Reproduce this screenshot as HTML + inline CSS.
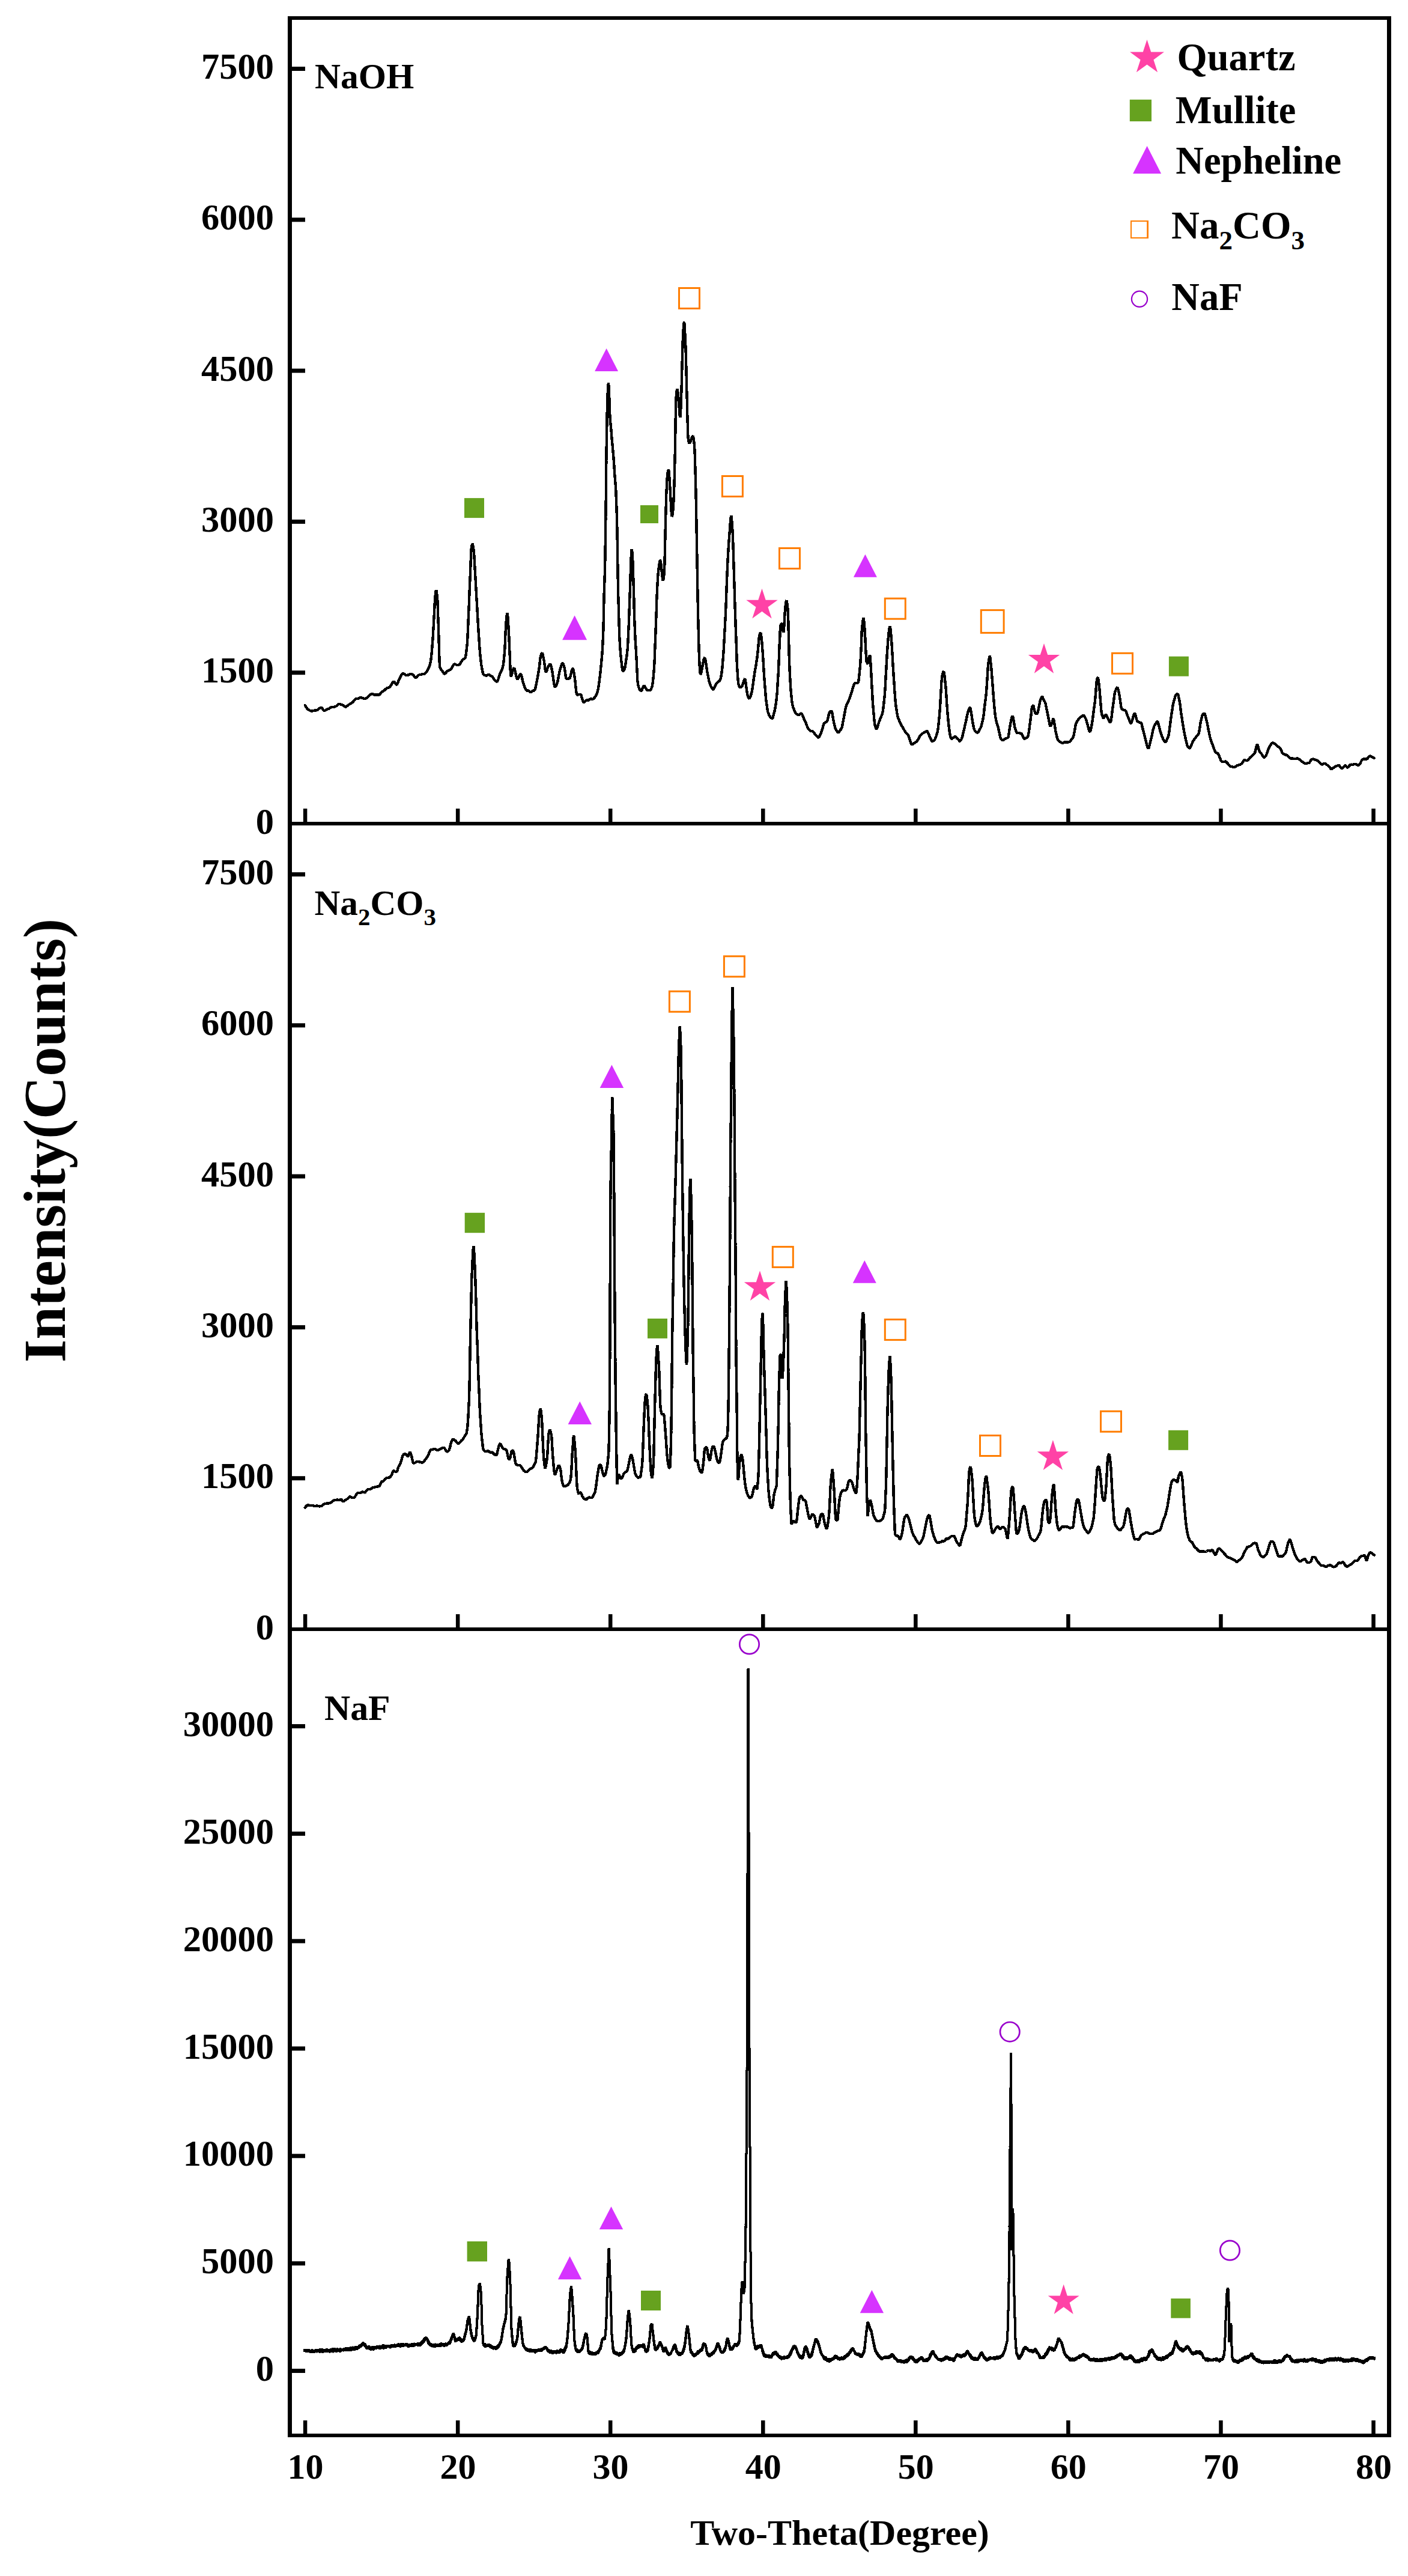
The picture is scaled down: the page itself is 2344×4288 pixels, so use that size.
<!DOCTYPE html>
<html><head><meta charset="utf-8"><title>XRD patterns</title>
<style>html,body{margin:0;padding:0;background:#fff}svg{display:block}text{font-family:"Liberation Serif","Times New Roman",serif;font-weight:bold;fill:#000}</style>
</head><body>
<svg width="2344" height="4288" viewBox="0 0 2344 4288">
<rect x="0" y="0" width="2344" height="4288" fill="#fff"/>
<g fill="#000">
<rect x="479.00" y="27.00" width="7.00" height="4030.00"/>
<rect x="2309.00" y="27.00" width="7.00" height="4030.00"/>
<rect x="479.00" y="27.00" width="1837.00" height="6.00"/>
<rect x="479.00" y="4051.00" width="1837.00" height="6.00"/>
<rect x="479.00" y="1368.00" width="1837.00" height="6.00"/>
<rect x="479.00" y="2709.00" width="1837.00" height="6.00"/>
<rect x="504.85" y="1346.00" width="6.50" height="23.00"/>
<rect x="504.85" y="2687.00" width="6.50" height="23.00"/>
<rect x="504.85" y="4029.00" width="6.50" height="23.00"/>
<rect x="758.91" y="1346.00" width="6.50" height="23.00"/>
<rect x="758.91" y="2687.00" width="6.50" height="23.00"/>
<rect x="758.91" y="4029.00" width="6.50" height="23.00"/>
<rect x="1012.97" y="1346.00" width="6.50" height="23.00"/>
<rect x="1012.97" y="2687.00" width="6.50" height="23.00"/>
<rect x="1012.97" y="4029.00" width="6.50" height="23.00"/>
<rect x="1267.03" y="1346.00" width="6.50" height="23.00"/>
<rect x="1267.03" y="2687.00" width="6.50" height="23.00"/>
<rect x="1267.03" y="4029.00" width="6.50" height="23.00"/>
<rect x="1521.09" y="1346.00" width="6.50" height="23.00"/>
<rect x="1521.09" y="2687.00" width="6.50" height="23.00"/>
<rect x="1521.09" y="4029.00" width="6.50" height="23.00"/>
<rect x="1775.15" y="1346.00" width="6.50" height="23.00"/>
<rect x="1775.15" y="2687.00" width="6.50" height="23.00"/>
<rect x="1775.15" y="4029.00" width="6.50" height="23.00"/>
<rect x="2029.21" y="1346.00" width="6.50" height="23.00"/>
<rect x="2029.21" y="2687.00" width="6.50" height="23.00"/>
<rect x="2029.21" y="4029.00" width="6.50" height="23.00"/>
<rect x="2283.27" y="1346.00" width="6.50" height="23.00"/>
<rect x="2283.27" y="2687.00" width="6.50" height="23.00"/>
<rect x="2283.27" y="4029.00" width="6.50" height="23.00"/>
<rect x="485.00" y="111.00" width="23.00" height="7.00"/>
<rect x="485.00" y="362.30" width="23.00" height="7.00"/>
<rect x="485.00" y="613.60" width="23.00" height="7.00"/>
<rect x="485.00" y="864.90" width="23.00" height="7.00"/>
<rect x="485.00" y="1116.20" width="23.00" height="7.00"/>
<rect x="485.00" y="1452.00" width="23.00" height="7.00"/>
<rect x="485.00" y="1703.30" width="23.00" height="7.00"/>
<rect x="485.00" y="1954.60" width="23.00" height="7.00"/>
<rect x="485.00" y="2205.90" width="23.00" height="7.00"/>
<rect x="485.00" y="2457.20" width="23.00" height="7.00"/>
<rect x="485.00" y="2870.00" width="23.00" height="7.00"/>
<rect x="485.00" y="3048.83" width="23.00" height="7.00"/>
<rect x="485.00" y="3227.66" width="23.00" height="7.00"/>
<rect x="485.00" y="3406.49" width="23.00" height="7.00"/>
<rect x="485.00" y="3585.32" width="23.00" height="7.00"/>
<rect x="485.00" y="3764.15" width="23.00" height="7.00"/>
<rect x="485.00" y="3942.98" width="23.00" height="7.00"/>
</g>
<g font-size="60.5" text-anchor="end">
<text x="456" y="131.1">7500</text>
<text x="456" y="382.4">6000</text>
<text x="456" y="633.7">4500</text>
<text x="456" y="885.0">3000</text>
<text x="456" y="1136.3">1500</text>
<text x="456" y="1387.6">0</text>
<text x="456" y="1472.1">7500</text>
<text x="456" y="1723.4">6000</text>
<text x="456" y="1974.7">4500</text>
<text x="456" y="2226.0">3000</text>
<text x="456" y="2477.3">1500</text>
<text x="456" y="2728.6">0</text>
<text x="456" y="2890.1">30000</text>
<text x="456" y="3068.9">25000</text>
<text x="456" y="3247.8">20000</text>
<text x="456" y="3426.6">15000</text>
<text x="456" y="3605.4">10000</text>
<text x="456" y="3784.2">5000</text>
<text x="456" y="3963.1">0</text>
</g>
<g font-size="60" text-anchor="middle">
<text x="508.5" y="4126.1">10</text>
<text x="762.6" y="4126.1">20</text>
<text x="1016.6" y="4126.1">30</text>
<text x="1270.7" y="4126.1">40</text>
<text x="1524.7" y="4126.1">50</text>
<text x="1778.8" y="4126.1">60</text>
<text x="2032.9" y="4126.1">70</text>
<text x="2286.9" y="4126.1">80</text>
</g>
<text x="1398" y="4236" font-size="60" text-anchor="middle">Two-Theta(Degree)</text>
<text transform="translate(108.2,1898.5) rotate(-90)" font-size="100" text-anchor="middle" textLength="739" lengthAdjust="spacingAndGlyphs">Intensity(Counts)</text>
<text x="524" y="147" font-size="59.5">NaOH</text>
<text x="523.5" y="1522.5" font-size="59.3">Na<tspan font-size="41" dy="17">2</tspan><tspan dy="-17">CO</tspan><tspan font-size="41" dy="17">3</tspan></text>
<text x="540" y="2863" font-size="59.8">NaF</text>
<polygon points="1909.5,65.9 1916.2,86.6 1938.0,86.6 1920.4,99.4 1927.1,120.2 1909.5,107.4 1891.9,120.2 1898.6,99.4 1881.0,86.6 1902.8,86.6" fill="#FF42A6"/>
<text x="1959.5" y="116.7" font-size="64.5">Quartz</text>
<rect x="1880.8" y="165.8" width="36.2" height="36.2" fill="#66A21F"/>
<text x="1956.8" y="204.8" font-size="64.5">Mullite</text>
<polygon points="1909.6,243.1 1933.1,288.9 1886.1,288.9" fill="#D633FF"/>
<text x="1957.3" y="288.9" font-size="64.5">Nepheline</text>
<path fill-rule="evenodd" fill="#FF7D00" d="M1882,367H1912V397H1882Z M1884,369V395H1909.2V369Z"/>
<text x="1950" y="397.4" font-size="65">Na<tspan font-size="45" dy="17.3">2</tspan><tspan dy="-17.3">CO</tspan><tspan font-size="45" dy="17.3">3</tspan></text>
<circle cx="1897.0" cy="497.8" r="13.1" fill="none" stroke="#9900CC" stroke-width="2.2"/>
<text x="1950.3" y="515.7" font-size="64.6">NaF</text>
<rect x="773.0" y="829.1" width="33.0" height="33.0" fill="#66A21F"/>
<polygon points="956.6,1024.4 977.1,1065.3 936.1,1065.3" fill="#D633FF"/>
<polygon points="1009.6,580.0 1029.1,618.0 990.1,618.0" fill="#D633FF"/>
<rect x="1066.0" y="841.0" width="30.0" height="30.0" fill="#66A21F"/>
<rect x="1130.5" y="479.5" width="34.0" height="34.0" fill="none" stroke="#FF7D00" stroke-width="3.0"/>
<rect x="1202.4" y="792.5" width="34.0" height="34.0" fill="none" stroke="#FF7D00" stroke-width="3.0"/>
<polygon points="1268.5,979.7 1274.7,998.8 1294.7,998.8 1278.5,1010.6 1284.7,1029.6 1268.5,1017.8 1252.3,1029.6 1258.5,1010.6 1242.3,998.8 1262.3,998.8" fill="#FF42A6"/>
<rect x="1297.5" y="912.5" width="34.0" height="34.0" fill="none" stroke="#FF7D00" stroke-width="3.0"/>
<polygon points="1440.4,922.8 1459.9,960.8 1420.9,960.8" fill="#D633FF"/>
<rect x="1473.3" y="996.2" width="34.0" height="34.0" fill="none" stroke="#FF7D00" stroke-width="3.0"/>
<rect x="1633.3" y="1015.6" width="37.8" height="37.8" fill="none" stroke="#FF7D00" stroke-width="3.0"/>
<polygon points="1738.0,1070.9 1744.2,1090.0 1764.2,1090.0 1748.0,1101.8 1754.2,1120.8 1738.0,1109.0 1721.8,1120.8 1728.0,1101.8 1711.8,1090.0 1731.8,1090.0" fill="#FF42A6"/>
<rect x="1851.5" y="1087.3" width="34.0" height="34.0" fill="none" stroke="#FF7D00" stroke-width="3.0"/>
<rect x="1945.9" y="1092.7" width="33.0" height="33.0" fill="#66A21F"/>
<rect x="773.7" y="2018.8" width="33.4" height="33.4" fill="#66A21F"/>
<polygon points="965.3,2332.7 985.0,2371.1 945.6,2371.1" fill="#D633FF"/>
<polygon points="1018.4,1772.6 1038.2,1811.0 998.6,1811.0" fill="#D633FF"/>
<rect x="1078.0" y="2194.9" width="33.0" height="33.0" fill="#66A21F"/>
<rect x="1114.4" y="1650.2" width="34.0" height="34.0" fill="none" stroke="#FF7D00" stroke-width="3.0"/>
<rect x="1205.4" y="1591.8" width="34.0" height="34.0" fill="none" stroke="#FF7D00" stroke-width="3.0"/>
<polygon points="1265.0,2115.2 1271.2,2134.3 1291.2,2134.3 1275.0,2146.1 1281.2,2165.1 1265.0,2153.3 1248.8,2165.1 1255.0,2146.1 1238.8,2134.3 1258.8,2134.3" fill="#FF42A6"/>
<rect x="1286.3" y="2075.4" width="34.0" height="34.0" fill="none" stroke="#FF7D00" stroke-width="3.0"/>
<polygon points="1439.3,2098.1 1458.8,2135.8 1419.8,2135.8" fill="#D633FF"/>
<rect x="1473.3" y="2196.4" width="34.0" height="34.0" fill="none" stroke="#FF7D00" stroke-width="3.0"/>
<rect x="1631.5" y="2389.5" width="34.0" height="34.0" fill="none" stroke="#FF7D00" stroke-width="3.0"/>
<polygon points="1752.9,2397.1 1759.1,2416.2 1779.1,2416.2 1762.9,2428.0 1769.1,2447.0 1752.9,2435.2 1736.7,2447.0 1742.9,2428.0 1726.7,2416.2 1746.7,2416.2" fill="#FF42A6"/>
<rect x="1832.5" y="2349.2" width="34.0" height="34.0" fill="none" stroke="#FF7D00" stroke-width="3.0"/>
<rect x="1945.1" y="2380.8" width="33.0" height="33.0" fill="#66A21F"/>
<rect x="777.6" y="3731.0" width="33.4" height="33.4" fill="#66A21F"/>
<polygon points="948.6,3755.8 968.3,3794.2 928.9,3794.2" fill="#D633FF"/>
<polygon points="1017.5,3673.1 1037.2,3711.1 997.8,3711.1" fill="#D633FF"/>
<rect x="1067.0" y="3813.0" width="33.0" height="33.0" fill="#66A21F"/>
<polygon points="1451.4,3811.9 1471.1,3850.3 1431.7,3850.3" fill="#D633FF"/>
<circle cx="1247.5" cy="2737.0" r="16.2" fill="none" stroke="#9900CC" stroke-width="2.7"/>
<circle cx="1681.2" cy="3382.2" r="16.2" fill="none" stroke="#9900CC" stroke-width="2.7"/>
<polygon points="1770.7,3802.6 1776.8,3821.5 1796.7,3821.5 1780.6,3833.1 1786.7,3852.0 1770.7,3840.3 1754.7,3852.0 1760.8,3833.1 1744.7,3821.5 1764.6,3821.5" fill="#FF42A6"/>
<rect x="1949.3" y="3826.1" width="32.6" height="32.6" fill="#66A21F"/>
<circle cx="2047.5" cy="3746.0" r="16.2" fill="none" stroke="#9900CC" stroke-width="2.7"/>
<polyline points="507.8,1174.2 508.7,1175.7 509.7,1177.2 510.6,1178.5 511.6,1179.8 512.5,1180.7 513.5,1181.4 514.4,1182.0 515.4,1182.5 516.4,1182.9 517.3,1183.3 518.3,1183.5 519.2,1183.5 520.2,1183.4 521.2,1183.3 522.2,1183.1 523.1,1182.8 524.1,1182.6 525.1,1182.5 526.1,1182.4 527.1,1182.3 528.1,1182.1 529.1,1181.4 530.0,1180.8 530.8,1180.0 531.7,1179.3 532.6,1178.7 533.5,1178.2 534.4,1178.0 535.3,1178.1 536.2,1178.9 537.1,1180.1 537.9,1181.3 538.8,1182.4 539.7,1183.0 540.6,1182.9 541.5,1182.5 542.4,1182.1 543.3,1181.5 544.2,1180.9 545.0,1180.4 545.9,1180.0 546.8,1179.7 547.8,1179.5 548.8,1178.8 549.7,1178.2 550.7,1177.6 551.7,1177.0 552.6,1177.0 553.6,1177.0 554.6,1177.0 555.5,1176.9 556.5,1176.7 557.5,1176.4 558.4,1176.0 559.4,1175.6 560.4,1174.9 561.3,1174.0 562.3,1173.1 563.3,1172.3 564.3,1171.9 565.2,1172.0 566.2,1172.2 567.2,1172.5 568.1,1172.7 569.0,1172.8 569.9,1173.2 570.8,1173.8 571.7,1174.3 572.6,1175.2 573.5,1175.8 574.4,1176.3 575.4,1176.7 576.4,1176.3 577.4,1175.5 578.4,1174.7 579.4,1173.8 580.4,1173.1 581.3,1172.6 582.3,1172.1 583.3,1171.5 584.3,1170.9 585.2,1170.4 586.2,1169.7 587.2,1169.0 588.1,1168.0 589.1,1166.7 590.1,1165.5 591.0,1164.4 592.0,1163.6 593.0,1163.3 593.9,1163.2 594.8,1163.1 595.6,1163.0 596.5,1162.6 597.4,1162.1 598.3,1161.7 599.2,1161.3 600.1,1161.2 601.0,1161.3 601.9,1161.6 602.7,1161.8 603.6,1162.1 604.5,1162.4 605.4,1162.7 606.3,1162.9 607.2,1163.1 608.2,1163.1 609.1,1162.6 610.1,1161.9 611.1,1161.2 612.0,1160.3 613.0,1159.3 614.0,1158.4 614.9,1157.5 615.9,1156.8 616.9,1156.1 617.8,1155.7 618.8,1155.4 619.8,1155.1 620.7,1155.5 621.7,1155.8 622.6,1156.2 623.6,1156.6 624.5,1156.6 625.5,1156.5 626.4,1156.4 627.4,1156.3 628.4,1156.4 629.3,1156.5 630.3,1156.7 631.2,1156.6 632.0,1156.0 632.9,1155.0 633.8,1153.9 634.7,1152.8 635.6,1151.8 636.5,1151.2 637.4,1150.7 638.3,1150.2 639.1,1149.6 640.0,1149.0 640.9,1148.1 641.8,1147.3 642.7,1146.5 643.6,1145.8 644.5,1145.4 645.4,1145.1 646.2,1144.8 647.1,1144.4 648.0,1144.0 648.9,1143.3 649.8,1142.3 650.7,1141.0 651.6,1139.7 652.5,1138.1 653.4,1136.6 654.2,1135.4 655.1,1134.8 656.0,1134.9 656.9,1135.9 657.8,1137.2 658.7,1138.4 659.6,1139.4 660.5,1139.8 661.3,1139.0 662.2,1137.1 663.0,1134.6 663.9,1132.1 664.7,1130.4 665.6,1128.6 666.6,1126.7 667.5,1124.9 668.4,1123.0 669.3,1121.8 670.2,1121.5 671.1,1121.3 672.0,1121.4 672.9,1122.0 673.8,1122.6 674.7,1123.2 675.5,1123.7 676.4,1123.8 677.3,1123.8 678.2,1123.7 679.1,1123.6 680.0,1123.4 680.9,1123.0 681.8,1122.7 682.6,1122.4 683.5,1122.2 684.5,1122.1 685.5,1122.2 686.5,1122.6 687.5,1123.1 688.5,1124.2 689.5,1125.6 690.4,1126.9 691.4,1128.0 692.4,1128.2 693.3,1127.6 694.2,1126.8 695.1,1125.7 696.0,1124.6 696.9,1123.9 697.7,1123.4 698.6,1123.1 699.5,1123.1 700.4,1122.9 701.3,1122.6 702.2,1122.3 703.1,1122.0 704.0,1121.8 704.8,1122.1 705.7,1122.1 706.6,1121.7 707.5,1121.0 708.4,1120.1 709.3,1119.2 710.2,1118.0 711.1,1116.8 711.9,1115.5 712.8,1113.9 713.7,1112.0 714.6,1109.7 715.5,1107.0 716.4,1103.3 717.3,1098.7 717.7,1095.5 718.2,1091.3 718.7,1086.3 719.2,1080.7 719.6,1074.6 720.1,1068.6 720.4,1064.8 720.7,1060.6 720.9,1056.1 721.2,1051.3 721.5,1046.3 721.8,1041.1 722.0,1036.0 722.3,1030.9 722.6,1025.9 722.9,1021.2 723.1,1016.1 723.4,1010.9 723.6,1005.8 723.9,1001.1 724.1,997.2 724.4,994.2 725.0,988.5 725.6,984.0 726.2,982.3 726.7,983.8 727.2,987.4 727.7,992.7 728.3,998.9 728.5,1001.6 728.6,1005.3 728.8,1009.8 729.0,1014.8 729.2,1020.4 729.3,1026.2 729.5,1032.1 729.7,1038.0 729.9,1043.7 730.1,1049.0 730.2,1053.9 730.4,1059.3 730.5,1065.1 730.7,1071.0 730.9,1077.0 731.0,1082.9 731.2,1088.6 731.4,1093.9 731.5,1098.7 731.7,1102.8 731.9,1106.1 732.0,1108.4 732.2,1109.6 733.1,1112.4 734.0,1114.0 734.9,1115.2 735.7,1116.2 736.7,1117.7 737.6,1119.1 738.5,1120.4 739.4,1121.3 740.4,1121.5 741.2,1121.0 742.1,1120.0 743.0,1118.9 743.9,1117.7 744.8,1117.0 745.7,1116.5 746.6,1116.2 747.5,1115.8 748.3,1115.4 749.2,1114.8 750.1,1114.2 751.0,1113.5 751.9,1112.5 752.8,1110.8 753.7,1109.0 754.6,1107.4 755.4,1106.1 756.3,1105.5 757.2,1105.5 758.0,1105.9 758.9,1106.3 759.7,1106.6 760.6,1106.9 761.5,1107.0 762.4,1106.9 763.3,1106.7 764.1,1106.6 765.1,1106.0 766.0,1104.9 766.9,1103.4 767.8,1102.0 768.8,1100.2 769.7,1099.0 770.5,1097.9 771.4,1097.0 772.3,1096.6 773.2,1096.3 774.1,1095.7 774.8,1094.2 775.5,1091.0 776.2,1086.1 776.9,1080.0 777.6,1072.9 777.9,1070.3 778.1,1067.1 778.3,1063.3 778.5,1059.1 778.7,1054.4 779.0,1049.5 779.2,1044.2 779.4,1038.8 779.6,1033.4 779.8,1027.9 780.0,1022.5 780.3,1017.3 780.5,1012.2 780.7,1007.9 780.9,1003.4 781.1,998.8 781.2,994.2 781.4,989.5 781.6,984.8 781.8,980.0 782.0,975.3 782.2,970.6 782.4,965.9 782.6,961.3 782.8,956.8 783.0,952.4 783.2,947.0 783.4,941.3 783.6,935.4 783.9,929.6 784.1,924.2 784.3,919.6 784.5,915.9 784.7,913.5 785.6,907.7 786.5,905.3 787.2,907.0 787.9,911.4 788.7,917.0 789.0,920.1 789.3,924.0 789.6,928.8 789.9,934.0 790.2,939.6 790.5,945.3 790.8,950.9 791.1,956.2 791.4,960.8 791.7,965.5 792.0,970.3 792.2,975.1 792.5,980.0 792.8,984.9 793.1,989.8 793.3,994.7 793.6,999.6 793.9,1004.4 794.2,1009.4 794.5,1014.3 794.7,1019.2 795.0,1024.1 795.3,1029.0 795.6,1033.8 795.8,1038.5 796.1,1042.9 796.4,1047.9 796.7,1053.0 797.1,1058.1 797.4,1063.1 797.7,1068.0 798.0,1072.7 798.3,1077.0 798.6,1081.1 798.9,1084.7 799.5,1090.7 800.1,1096.4 800.7,1101.6 801.2,1106.2 801.8,1109.8 802.7,1114.7 803.6,1118.9 804.5,1121.8 805.3,1123.2 806.2,1123.7 807.0,1124.1 807.9,1124.3 808.8,1124.6 809.6,1124.6 810.5,1124.4 811.3,1123.9 812.2,1123.4 813.0,1123.1 813.9,1123.1 814.8,1123.6 815.7,1124.5 816.6,1124.8 817.5,1125.3 818.4,1125.7 819.3,1126.1 820.3,1127.1 821.1,1128.5 822.0,1129.9 822.9,1131.4 823.8,1132.7 824.7,1133.5 825.6,1134.1 826.5,1134.5 827.4,1134.7 828.2,1133.9 829.1,1131.8 830.0,1129.0 830.9,1125.9 831.8,1122.7 832.7,1120.5 833.6,1118.7 834.5,1117.1 835.5,1115.4 836.4,1112.7 837.3,1109.0 837.9,1105.9 838.4,1101.6 839.0,1096.4 839.6,1090.3 840.1,1083.3 840.4,1079.7 840.6,1075.2 840.9,1070.0 841.1,1064.3 841.3,1058.6 841.6,1053.0 841.8,1047.8 842.0,1043.3 842.3,1039.7 842.8,1033.0 843.3,1026.8 843.9,1022.3 844.4,1020.9 844.8,1022.5 845.3,1026.3 845.7,1031.6 846.1,1037.8 846.5,1044.1 846.7,1047.6 847.0,1051.6 847.2,1056.1 847.4,1060.9 847.6,1066.0 847.8,1071.2 848.0,1076.3 848.2,1081.4 848.5,1086.2 848.7,1090.8 848.9,1095.8 849.1,1101.5 849.3,1107.3 849.6,1113.0 849.8,1118.1 850.0,1122.2 850.2,1125.0 850.4,1126.0 851.3,1124.8 852.2,1122.1 853.1,1118.8 854.0,1115.5 854.9,1112.9 855.8,1112.0 856.7,1113.4 857.5,1116.7 858.4,1121.1 859.3,1125.5 860.2,1128.9 861.1,1130.6 862.0,1130.2 862.9,1128.9 863.8,1127.1 864.6,1124.7 865.5,1122.8 866.4,1121.9 867.3,1122.6 868.2,1125.1 869.1,1128.7 870.0,1132.6 870.9,1136.3 871.7,1139.1 872.6,1141.4 873.5,1143.7 874.4,1145.9 875.3,1147.7 876.2,1149.0 877.1,1149.5 878.0,1149.6 878.8,1149.7 879.7,1149.6 880.6,1150.4 881.6,1151.1 882.6,1151.8 883.6,1152.5 884.6,1152.0 885.6,1151.3 886.5,1150.4 887.5,1149.6 888.5,1149.4 889.5,1149.4 890.4,1148.2 891.3,1145.5 892.2,1141.6 893.1,1137.3 894.0,1132.8 894.9,1127.9 895.8,1122.6 896.7,1117.2 897.7,1111.4 898.3,1106.5 898.9,1100.7 899.5,1095.5 900.2,1092.1 901.0,1089.5 901.8,1087.7 902.6,1087.1 903.6,1089.1 904.5,1093.7 905.5,1098.9 906.4,1104.7 907.3,1111.6 908.1,1117.3 909.0,1119.3 909.9,1117.9 910.8,1114.9 911.7,1111.7 912.6,1109.4 913.5,1108.0 914.4,1106.8 915.2,1105.9 916.1,1105.5 917.1,1107.3 918.0,1111.3 919.0,1115.7 919.8,1120.3 920.6,1126.1 921.5,1132.2 922.3,1137.8 923.1,1141.8 923.9,1143.4 924.8,1143.0 925.7,1141.5 926.6,1139.5 927.5,1137.3 928.4,1133.9 929.3,1129.4 930.3,1124.3 931.2,1119.5 932.1,1115.6 933.0,1112.6 933.8,1109.6 934.7,1106.9 935.5,1105.1 936.4,1104.0 937.2,1104.4 938.0,1106.1 938.8,1108.6 939.6,1111.2 940.4,1115.7 941.2,1121.9 942.0,1127.2 942.8,1129.7 943.7,1129.9 944.5,1129.8 945.4,1129.7 946.3,1129.6 947.2,1129.5 948.1,1129.4 949.0,1128.0 949.9,1124.5 950.8,1120.5 951.6,1117.1 952.4,1115.0 953.1,1113.2 953.8,1112.5 954.7,1115.3 955.7,1121.2 956.6,1127.3 957.3,1132.1 957.9,1138.2 958.6,1144.6 959.2,1150.5 959.9,1154.7 960.5,1156.4 961.4,1156.4 962.3,1156.4 963.1,1156.3 964.0,1156.2 964.8,1156.1 965.7,1156.1 966.6,1156.1 967.5,1157.3 968.3,1159.8 969.2,1163.0 970.1,1166.3 971.0,1168.8 971.9,1169.7 972.8,1169.0 973.7,1168.1 974.6,1167.1 975.5,1166.0 976.4,1165.6 977.3,1165.5 978.2,1165.5 979.1,1165.5 980.1,1165.4 980.9,1164.8 981.8,1164.3 982.7,1163.7 983.6,1163.2 984.5,1163.3 985.3,1163.6 986.2,1163.9 987.1,1163.8 988.1,1163.1 989.0,1162.1 989.9,1161.0 990.9,1159.9 991.7,1159.0 992.5,1157.4 993.3,1155.6 994.1,1153.4 994.9,1150.9 995.7,1147.0 996.6,1142.0 997.4,1136.4 997.9,1132.9 998.3,1129.1 998.8,1125.0 999.3,1120.8 999.8,1116.2 1000.2,1111.7 1000.7,1106.9 1001.2,1101.7 1001.7,1096.2 1002.0,1092.5 1002.4,1088.7 1002.7,1084.5 1003.0,1079.9 1003.3,1074.6 1003.5,1071.3 1003.6,1067.7 1003.8,1063.7 1004.0,1059.4 1004.2,1054.6 1004.4,1049.4 1004.5,1043.6 1004.6,1040.1 1004.7,1035.9 1004.8,1031.3 1004.9,1026.2 1005.0,1021.0 1005.1,1015.7 1005.2,1010.6 1005.3,1005.6 1005.4,1001.0 1005.5,997.0 1005.6,991.9 1005.7,987.2 1005.9,982.8 1006.0,978.6 1006.1,974.4 1006.3,970.2 1006.4,965.9 1006.5,961.7 1006.7,957.8 1006.8,954.0 1006.9,950.0 1007.1,945.6 1007.2,940.6 1007.3,934.8 1007.4,931.5 1007.5,927.7 1007.5,923.4 1007.6,918.6 1007.6,913.7 1007.7,908.5 1007.8,903.3 1007.8,898.1 1007.9,893.0 1008.0,888.2 1008.0,883.6 1008.1,879.1 1008.1,874.5 1008.2,870.0 1008.3,865.5 1008.3,860.9 1008.4,856.3 1008.4,851.6 1008.5,846.7 1008.6,841.6 1008.6,837.2 1008.7,832.6 1008.7,827.8 1008.8,822.8 1008.8,817.7 1008.9,812.6 1008.9,807.3 1009.0,802.0 1009.0,796.8 1009.1,791.5 1009.1,786.3 1009.2,781.3 1009.2,776.3 1009.3,771.5 1009.3,766.9 1009.4,762.6 1009.5,758.5 1009.5,754.7 1009.6,748.9 1009.7,743.3 1009.8,738.0 1009.8,733.0 1009.9,728.1 1010.0,723.5 1010.1,719.0 1010.2,714.6 1010.3,710.3 1010.4,706.1 1010.4,701.9 1010.5,696.7 1010.6,691.5 1010.7,686.2 1010.8,681.2 1011.0,676.3 1011.1,671.8 1011.2,667.8 1011.3,664.3 1011.4,661.5 1011.7,654.5 1012.0,648.1 1012.3,642.9 1012.6,639.3 1012.9,638.0 1013.2,639.2 1013.4,642.6 1013.7,647.3 1013.9,652.6 1014.2,657.9 1014.3,662.1 1014.5,667.1 1014.7,672.6 1014.9,678.3 1015.0,683.6 1015.2,688.2 1015.4,691.9 1015.8,697.4 1016.1,702.1 1016.5,706.2 1016.9,710.1 1017.3,714.2 1017.7,719.1 1018.1,724.0 1018.5,728.8 1018.9,733.6 1019.3,738.5 1019.8,743.3 1020.2,748.1 1020.6,752.8 1021.1,757.5 1021.5,762.5 1021.9,768.1 1022.2,772.6 1022.5,777.7 1022.9,783.1 1023.2,788.2 1023.5,792.8 1023.9,797.5 1024.3,801.5 1024.6,805.7 1025.0,811.1 1025.2,814.3 1025.4,818.0 1025.6,822.3 1025.7,826.9 1025.9,831.7 1026.1,836.7 1026.3,841.8 1026.4,845.6 1026.5,849.5 1026.7,853.5 1026.8,857.7 1026.9,862.3 1027.1,867.2 1027.2,872.6 1027.3,876.1 1027.4,880.1 1027.4,884.4 1027.5,888.9 1027.6,893.7 1027.7,898.6 1027.7,903.7 1027.8,908.8 1027.9,913.9 1028.0,918.9 1028.1,923.8 1028.1,928.4 1028.2,933.4 1028.3,938.5 1028.4,943.6 1028.5,948.7 1028.6,953.8 1028.6,958.8 1028.7,963.7 1028.8,968.5 1028.9,973.0 1029.0,977.3 1029.1,981.3 1029.2,986.8 1029.3,992.1 1029.4,997.0 1029.6,1001.7 1029.7,1006.3 1029.8,1010.8 1029.9,1015.1 1030.1,1019.4 1030.2,1023.7 1030.3,1028.1 1030.4,1032.9 1030.6,1037.8 1030.7,1042.8 1030.8,1047.5 1031.0,1051.9 1031.1,1055.9 1031.2,1059.3 1031.6,1065.7 1031.9,1071.2 1032.2,1076.0 1032.5,1080.3 1032.8,1084.3 1033.2,1088.8 1033.6,1092.9 1034.0,1096.5 1034.3,1099.9 1035.0,1105.5 1035.6,1111.1 1036.2,1115.5 1036.8,1117.2 1037.8,1116.9 1038.7,1115.9 1039.6,1114.4 1040.5,1111.1 1041.3,1105.8 1042.1,1100.0 1042.7,1096.1 1043.4,1091.9 1044.0,1087.1 1044.6,1081.2 1044.9,1078.0 1045.1,1073.9 1045.4,1069.3 1045.6,1064.2 1045.9,1058.8 1046.1,1053.4 1046.3,1049.6 1046.5,1045.5 1046.7,1041.1 1046.8,1036.6 1047.0,1032.0 1047.2,1027.2 1047.4,1022.5 1047.5,1017.8 1047.7,1013.1 1047.9,1008.3 1048.1,1003.5 1048.2,998.7 1048.4,993.8 1048.6,988.8 1048.8,983.8 1048.9,978.7 1049.1,974.1 1049.3,969.3 1049.4,964.5 1049.6,959.7 1049.7,955.0 1049.9,950.5 1050.1,945.0 1050.2,939.3 1050.4,933.9 1050.6,929.2 1050.8,925.4 1051.1,920.3 1051.4,916.1 1051.7,914.3 1052.2,916.5 1052.6,921.7 1053.0,928.1 1053.2,931.3 1053.4,935.3 1053.5,939.8 1053.7,944.6 1053.9,949.6 1054.1,953.4 1054.2,957.4 1054.3,961.6 1054.5,966.0 1054.6,970.5 1054.7,975.2 1054.9,980.0 1055.0,984.8 1055.2,989.7 1055.3,994.1 1055.4,998.9 1055.5,1003.9 1055.6,1008.9 1055.7,1013.9 1055.9,1018.6 1056.0,1023.0 1056.1,1026.9 1056.3,1032.7 1056.5,1038.1 1056.7,1043.2 1056.9,1047.9 1057.1,1052.4 1057.3,1056.6 1057.4,1060.6 1057.6,1064.4 1058.0,1070.0 1058.3,1074.9 1058.6,1079.5 1058.9,1084.3 1059.2,1089.5 1059.4,1094.1 1059.7,1099.1 1059.9,1104.3 1060.2,1109.5 1060.4,1114.7 1060.7,1119.9 1060.9,1125.5 1061.1,1130.4 1061.4,1133.7 1062.3,1140.0 1063.2,1143.7 1064.0,1145.9 1064.7,1147.5 1065.4,1148.5 1066.2,1149.3 1067.1,1149.8 1067.9,1150.0 1068.6,1148.9 1069.3,1146.8 1070.1,1144.9 1070.8,1143.4 1071.5,1142.0 1072.2,1141.4 1073.2,1142.1 1074.1,1143.9 1075.0,1145.5 1076.0,1146.8 1076.9,1148.2 1077.8,1149.0 1078.8,1149.1 1079.7,1149.1 1080.6,1149.1 1081.6,1149.0 1082.5,1148.7 1083.3,1148.1 1084.1,1146.6 1085.0,1144.4 1085.7,1141.9 1086.5,1138.1 1086.9,1135.2 1087.3,1131.3 1087.7,1126.9 1088.1,1122.3 1088.4,1118.7 1088.7,1115.1 1089.0,1111.0 1089.3,1106.1 1089.5,1102.6 1089.7,1098.3 1089.9,1093.6 1090.1,1088.8 1090.2,1083.9 1090.4,1079.1 1090.6,1074.0 1090.8,1068.8 1091.0,1063.6 1091.2,1058.6 1091.4,1054.1 1091.5,1049.7 1091.7,1045.4 1091.9,1041.1 1092.1,1036.8 1092.2,1032.3 1092.4,1027.4 1092.6,1023.3 1092.7,1018.7 1092.8,1013.9 1093.0,1009.1 1093.1,1004.5 1093.2,1000.2 1093.4,996.5 1093.6,990.6 1093.9,985.4 1094.1,980.7 1094.3,976.2 1094.6,971.8 1094.8,967.6 1095.1,963.4 1095.3,959.6 1095.5,956.4 1096.0,951.5 1096.5,947.2 1096.9,943.6 1097.4,940.4 1098.2,935.0 1098.9,932.1 1099.7,934.4 1100.5,939.6 1100.9,942.9 1101.3,947.1 1101.7,951.5 1102.0,955.3 1102.6,960.0 1103.1,964.3 1103.6,966.2 1104.4,964.0 1105.2,959.0 1105.5,956.1 1105.8,952.1 1106.1,946.8 1106.2,943.7 1106.4,939.7 1106.5,934.9 1106.6,929.6 1106.8,924.0 1106.9,918.4 1107.0,913.0 1107.1,908.8 1107.2,904.4 1107.3,899.9 1107.4,895.3 1107.5,890.6 1107.6,886.0 1107.7,881.5 1107.8,877.1 1108.0,872.9 1108.1,867.6 1108.2,862.5 1108.3,857.4 1108.5,852.5 1108.6,847.8 1108.7,843.1 1108.9,838.7 1109.0,833.4 1109.2,828.2 1109.3,823.1 1109.5,818.4 1109.7,814.2 1109.8,810.7 1110.1,804.8 1110.4,799.7 1110.7,795.3 1111.1,791.6 1111.4,788.9 1112.1,783.6 1112.9,781.4 1113.3,783.3 1113.7,787.6 1114.2,792.5 1114.5,796.5 1114.8,801.2 1115.1,806.3 1115.4,811.4 1115.7,816.0 1115.9,820.8 1116.2,825.8 1116.4,830.7 1116.7,835.3 1117.0,839.6 1117.3,844.7 1117.6,850.1 1117.9,855.0 1118.2,858.5 1118.5,859.9 1119.3,857.5 1120.1,852.2 1120.4,849.4 1120.7,845.9 1121.0,841.5 1121.3,836.5 1121.5,833.1 1121.7,829.0 1121.8,824.3 1122.0,819.2 1122.2,813.7 1122.4,808.0 1122.5,802.2 1122.7,798.2 1122.8,794.0 1122.9,789.5 1123.0,784.9 1123.1,780.0 1123.2,775.1 1123.4,770.0 1123.5,764.8 1123.6,760.7 1123.7,756.4 1123.8,752.1 1123.9,747.7 1123.9,743.2 1124.0,738.6 1124.1,733.8 1124.2,728.8 1124.3,723.7 1124.4,718.3 1124.5,713.8 1124.5,708.6 1124.6,703.0 1124.7,697.2 1124.8,691.5 1124.8,686.2 1124.9,681.5 1125.0,677.6 1125.0,674.9 1125.3,668.2 1125.5,662.9 1125.8,658.7 1126.0,655.6 1126.3,653.3 1126.9,649.1 1127.5,647.3 1128.1,650.4 1128.8,656.1 1129.2,659.6 1129.6,663.5 1130.0,668.0 1130.3,672.1 1130.6,677.0 1130.9,681.9 1131.2,686.0 1131.7,691.9 1132.2,695.0 1132.5,693.6 1132.8,689.9 1133.1,684.8 1133.4,679.3 1133.6,675.6 1133.8,671.1 1134.0,665.9 1134.2,660.3 1134.3,654.4 1134.5,650.4 1134.6,646.0 1134.7,641.3 1134.8,636.4 1134.9,631.4 1135.0,626.4 1135.2,621.6 1135.3,617.0 1135.4,611.8 1135.5,606.6 1135.7,601.4 1135.8,596.4 1135.9,591.6 1136.1,587.1 1136.2,582.9 1136.4,577.7 1136.6,572.6 1136.7,567.7 1136.9,563.1 1137.1,559.0 1137.3,555.4 1137.5,552.4 1137.8,546.5 1138.2,541.1 1138.6,537.3 1139.0,535.9 1139.3,537.8 1139.6,542.2 1139.9,547.9 1140.2,553.6 1140.5,557.8 1140.7,562.4 1141.0,567.3 1141.2,572.9 1141.5,579.1 1141.6,582.6 1141.7,586.7 1141.9,591.1 1142.0,595.8 1142.1,600.7 1142.2,605.9 1142.4,611.0 1142.5,616.2 1142.6,621.4 1142.7,626.3 1142.8,631.0 1143.0,635.6 1143.1,640.3 1143.2,645.1 1143.3,649.9 1143.4,654.6 1143.5,659.4 1143.7,664.1 1143.8,668.9 1143.9,673.7 1144.0,678.5 1144.1,683.3 1144.2,688.0 1144.4,692.5 1144.5,696.9 1144.6,700.9 1144.8,706.4 1144.9,712.1 1145.1,717.5 1145.2,722.4 1145.4,726.1 1145.5,728.4 1146.3,733.8 1147.0,737.1 1147.7,738.0 1148.5,737.0 1149.4,735.1 1150.2,733.0 1150.9,730.9 1151.6,728.7 1152.4,727.3 1153.1,726.5 1153.9,726.3 1154.7,729.6 1155.5,736.2 1155.8,739.4 1156.1,743.7 1156.4,748.9 1156.6,752.1 1156.7,755.9 1156.9,760.2 1157.0,765.0 1157.2,770.1 1157.3,775.4 1157.5,780.9 1157.6,786.5 1157.7,790.4 1157.8,794.5 1158.0,798.7 1158.1,803.2 1158.2,807.8 1158.3,812.5 1158.4,817.4 1158.5,822.2 1158.6,827.2 1158.7,831.4 1158.7,835.7 1158.8,840.1 1158.9,844.6 1159.0,849.1 1159.1,853.7 1159.2,858.3 1159.3,863.1 1159.4,867.8 1159.5,872.7 1159.5,877.6 1159.6,882.6 1159.7,887.6 1159.8,892.7 1159.9,897.2 1160.0,901.9 1160.0,906.7 1160.1,911.6 1160.2,916.6 1160.3,921.7 1160.4,926.7 1160.4,931.7 1160.5,936.7 1160.6,941.6 1160.7,946.5 1160.7,951.1 1160.8,956.1 1160.9,961.2 1161.0,966.2 1161.1,971.1 1161.2,976.1 1161.3,980.9 1161.3,985.6 1161.4,990.3 1161.5,994.8 1161.6,999.2 1161.7,1003.3 1161.8,1008.3 1161.9,1013.0 1162.0,1017.5 1162.1,1022.0 1162.2,1026.3 1162.3,1030.5 1162.4,1034.7 1162.5,1038.9 1162.6,1043.1 1162.7,1048.0 1162.8,1052.9 1163.0,1057.8 1163.1,1062.6 1163.2,1067.3 1163.3,1071.8 1163.4,1076.0 1163.5,1079.8 1163.7,1085.6 1163.9,1091.1 1164.1,1096.3 1164.3,1100.9 1164.5,1104.9 1164.8,1110.9 1165.1,1116.1 1165.4,1119.3 1166.3,1122.8 1167.1,1120.9 1167.9,1117.2 1168.7,1113.2 1169.4,1108.9 1170.4,1103.5 1171.3,1098.9 1172.2,1095.9 1173.2,1094.8 1173.9,1096.6 1174.7,1100.2 1175.2,1103.2 1175.7,1106.8 1176.2,1110.5 1176.7,1114.2 1177.2,1117.6 1178.0,1121.5 1178.8,1125.1 1179.7,1129.9 1180.6,1134.2 1181.6,1137.6 1182.5,1140.2 1183.3,1142.0 1184.1,1143.8 1185.0,1145.2 1185.8,1146.3 1186.6,1147.3 1187.5,1147.8 1188.3,1147.0 1189.1,1144.9 1189.9,1142.9 1190.9,1140.9 1191.8,1139.0 1192.7,1137.7 1193.6,1136.9 1194.4,1136.2 1195.2,1135.4 1195.9,1134.7 1196.7,1134.4 1197.4,1133.9 1198.3,1132.5 1199.3,1130.4 1200.2,1127.1 1201.1,1122.0 1201.6,1118.3 1202.2,1113.7 1202.7,1108.6 1203.1,1104.3 1203.4,1099.6 1203.8,1094.6 1204.2,1089.5 1204.5,1085.7 1204.8,1081.3 1205.0,1076.7 1205.3,1071.8 1205.6,1066.8 1205.8,1061.8 1206.1,1056.8 1206.3,1052.4 1206.6,1048.0 1206.8,1043.6 1207.1,1039.2 1207.3,1034.6 1207.5,1030.0 1207.8,1025.2 1208.0,1019.9 1208.3,1014.3 1208.4,1010.2 1208.6,1005.8 1208.8,1001.2 1209.0,996.5 1209.1,991.8 1209.3,987.0 1209.5,982.2 1209.6,977.6 1209.8,973.1 1210.0,968.1 1210.2,963.0 1210.4,957.9 1210.6,952.9 1210.8,948.0 1211.0,943.4 1211.2,939.0 1211.4,935.0 1211.7,929.1 1212.0,923.9 1212.3,919.0 1212.6,914.3 1212.9,909.6 1213.2,904.9 1213.5,900.4 1213.9,896.0 1214.2,891.6 1214.5,887.5 1214.9,882.4 1215.2,877.4 1215.6,872.7 1216.0,868.6 1216.4,864.0 1216.9,859.8 1217.3,858.0 1217.7,860.0 1218.1,864.3 1218.5,869.2 1218.8,873.0 1219.1,877.3 1219.4,882.4 1219.8,888.2 1219.9,891.7 1220.1,895.7 1220.2,900.2 1220.4,905.1 1220.5,910.2 1220.7,915.4 1220.8,920.5 1221.0,925.5 1221.1,929.9 1221.3,934.3 1221.4,938.7 1221.5,943.2 1221.7,947.8 1221.8,952.3 1222.0,956.9 1222.1,961.4 1222.2,965.9 1222.4,970.4 1222.5,975.0 1222.7,979.5 1222.8,984.1 1222.9,988.6 1223.1,993.1 1223.2,997.6 1223.3,1002.0 1223.5,1006.3 1223.6,1011.2 1223.8,1015.9 1223.9,1020.7 1224.1,1025.4 1224.3,1030.0 1224.4,1034.6 1224.6,1039.1 1224.7,1043.6 1224.9,1048.6 1225.1,1053.5 1225.3,1058.3 1225.4,1063.1 1225.6,1067.9 1225.8,1072.8 1226.0,1077.8 1226.1,1082.5 1226.3,1087.6 1226.4,1092.8 1226.6,1097.7 1226.7,1102.1 1226.9,1105.8 1227.2,1111.4 1227.5,1116.1 1227.8,1120.2 1228.1,1124.4 1228.4,1129.1 1228.8,1133.7 1229.1,1136.7 1229.8,1140.2 1230.6,1142.2 1231.4,1143.6 1232.2,1144.4 1233.1,1144.1 1234.0,1143.4 1234.8,1142.8 1235.5,1142.0 1236.2,1140.4 1236.9,1138.0 1237.7,1135.3 1238.4,1133.0 1239.3,1130.8 1240.2,1129.9 1240.9,1132.1 1241.5,1136.8 1242.1,1141.6 1242.7,1146.2 1243.4,1151.0 1244.0,1154.7 1244.9,1158.6 1245.8,1161.1 1246.8,1162.2 1247.7,1162.8 1248.6,1161.4 1249.6,1158.4 1250.3,1156.3 1251.0,1153.7 1251.7,1150.9 1252.5,1146.4 1253.2,1141.5 1253.9,1136.4 1254.5,1132.0 1255.2,1127.6 1255.8,1123.0 1256.4,1119.4 1257.0,1115.8 1257.6,1112.3 1258.3,1108.7 1258.9,1104.9 1259.4,1101.5 1260.0,1097.9 1260.5,1093.9 1261.1,1089.5 1261.4,1085.8 1261.8,1081.8 1262.2,1077.7 1262.6,1073.6 1263.0,1069.2 1263.4,1064.5 1263.8,1060.4 1264.2,1057.9 1264.9,1055.6 1265.6,1054.0 1266.3,1053.5 1267.0,1056.3 1267.6,1061.4 1268.0,1065.1 1268.4,1069.4 1268.8,1074.2 1269.1,1078.1 1269.4,1082.4 1269.8,1087.0 1270.1,1091.7 1270.4,1096.5 1270.7,1101.4 1271.0,1106.5 1271.3,1111.8 1271.6,1116.9 1271.9,1121.7 1272.2,1126.3 1272.5,1130.8 1272.9,1135.1 1273.2,1139.3 1273.5,1143.4 1273.9,1148.4 1274.3,1153.3 1274.6,1157.9 1275.0,1161.9 1275.5,1166.6 1276.1,1170.7 1276.6,1174.5 1277.4,1180.1 1278.1,1184.3 1279.1,1187.2 1280.0,1189.8 1280.9,1191.5 1281.9,1193.0 1282.8,1194.0 1283.7,1194.7 1284.6,1195.6 1285.6,1196.0 1286.5,1194.7 1287.5,1191.5 1288.4,1187.8 1289.4,1184.0 1290.3,1179.5 1291.2,1174.2 1291.8,1170.7 1292.3,1166.6 1292.8,1161.9 1293.4,1156.5 1293.7,1153.0 1293.9,1148.9 1294.2,1144.4 1294.5,1139.7 1294.8,1135.1 1295.1,1130.5 1295.4,1125.9 1295.7,1121.1 1295.9,1115.8 1296.2,1110.0 1296.4,1105.8 1296.6,1101.0 1296.8,1095.8 1296.9,1090.7 1297.1,1085.7 1297.3,1081.3 1297.5,1076.6 1297.7,1072.3 1297.9,1068.2 1298.1,1064.0 1298.4,1059.6 1298.5,1055.1 1298.7,1050.2 1298.9,1045.9 1299.1,1043.4 1299.8,1040.1 1300.5,1038.9 1301.0,1038.1 1301.5,1037.8 1302.3,1041.1 1303.0,1046.2 1303.7,1050.5 1304.4,1052.5 1304.7,1050.6 1305.1,1046.1 1305.5,1040.4 1305.8,1034.7 1306.1,1030.3 1306.3,1025.3 1306.6,1020.4 1306.9,1016.4 1307.3,1011.2 1307.8,1006.9 1308.3,1003.9 1308.8,1000.8 1309.4,999.3 1310.1,1002.2 1310.8,1007.4 1311.1,1010.2 1311.5,1013.8 1311.8,1018.7 1312.0,1021.3 1312.1,1025.1 1312.2,1029.7 1312.4,1035.0 1312.5,1040.6 1312.6,1046.4 1312.8,1052.0 1312.9,1057.3 1313.0,1061.9 1313.1,1066.9 1313.3,1071.9 1313.4,1077.0 1313.5,1082.1 1313.6,1087.0 1313.7,1091.6 1313.9,1095.8 1314.0,1099.5 1314.2,1105.1 1314.4,1110.2 1314.6,1114.9 1314.8,1119.3 1315.0,1123.4 1315.2,1127.2 1315.4,1130.8 1315.7,1135.7 1316.0,1140.2 1316.2,1144.5 1316.5,1148.4 1316.8,1151.9 1317.3,1157.3 1317.8,1162.0 1318.2,1166.0 1318.9,1171.1 1319.7,1174.8 1320.4,1177.3 1321.1,1179.3 1321.8,1181.0 1322.5,1182.9 1323.2,1184.6 1323.9,1185.9 1324.9,1187.1 1325.8,1188.0 1326.8,1188.8 1327.6,1189.4 1328.4,1190.0 1329.2,1190.3 1330.1,1190.1 1330.9,1189.5 1331.7,1189.1 1332.4,1188.4 1333.2,1187.8 1333.9,1187.4 1334.7,1187.9 1335.5,1189.5 1336.3,1191.4 1337.2,1193.5 1338.0,1195.7 1338.8,1197.7 1339.7,1199.5 1340.6,1201.4 1341.5,1203.3 1342.4,1205.4 1343.3,1208.0 1344.3,1210.5 1345.2,1212.3 1346.2,1213.6 1347.1,1214.7 1348.1,1215.5 1348.9,1216.3 1349.7,1217.0 1350.6,1217.2 1351.4,1217.0 1352.2,1217.2 1353.0,1217.7 1353.8,1218.3 1354.5,1219.0 1355.2,1219.8 1356.1,1221.0 1356.9,1222.2 1357.8,1223.6 1358.7,1224.6 1359.5,1225.2 1360.3,1226.1 1361.1,1227.0 1361.9,1227.6 1362.7,1227.5 1363.6,1226.8 1364.4,1225.4 1365.1,1224.0 1365.8,1222.5 1366.5,1220.7 1367.5,1218.1 1368.4,1215.2 1369.4,1212.2 1370.2,1209.3 1371.0,1206.4 1371.9,1204.1 1372.7,1203.4 1373.5,1202.9 1374.3,1202.5 1375.3,1202.2 1376.2,1201.5 1377.2,1200.0 1378.1,1196.9 1379.0,1192.9 1379.9,1188.9 1380.7,1186.1 1381.6,1184.9 1382.5,1184.2 1383.4,1183.9 1384.3,1183.5 1385.0,1185.1 1385.7,1188.4 1386.4,1192.5 1387.1,1196.9 1388.0,1201.4 1388.9,1205.6 1389.8,1209.5 1390.7,1212.6 1391.5,1214.3 1392.3,1215.8 1393.2,1216.9 1394.0,1217.9 1394.8,1218.8 1395.7,1219.2 1396.6,1218.5 1397.5,1217.1 1398.5,1215.7 1399.4,1214.5 1400.4,1213.5 1401.3,1212.0 1402.2,1208.3 1403.1,1203.3 1404.0,1198.9 1404.9,1194.1 1405.6,1190.3 1406.3,1186.4 1407.0,1182.7 1407.7,1179.2 1408.4,1176.5 1409.1,1174.2 1410.1,1172.0 1411.0,1170.2 1412.0,1168.3 1412.8,1166.2 1413.6,1164.3 1414.5,1162.1 1415.3,1159.7 1416.1,1157.2 1417.0,1154.7 1417.7,1152.5 1418.4,1150.2 1419.1,1147.8 1420.0,1144.6 1420.9,1141.8 1421.8,1139.0 1422.6,1137.3 1423.6,1137.2 1424.5,1137.1 1425.5,1137.0 1426.3,1137.0 1427.1,1137.0 1427.9,1136.9 1428.7,1136.3 1429.3,1133.9 1429.9,1128.7 1430.5,1123.1 1430.9,1119.1 1431.3,1114.9 1431.8,1110.2 1432.2,1105.0 1432.5,1101.6 1432.7,1097.6 1432.9,1093.1 1433.2,1088.1 1433.4,1083.0 1433.7,1077.7 1433.8,1073.3 1434.0,1068.1 1434.2,1062.8 1434.4,1057.7 1434.5,1053.3 1434.7,1050.1 1435.2,1044.3 1435.7,1040.1 1436.1,1036.4 1436.8,1031.2 1437.6,1028.4 1438.0,1030.5 1438.5,1035.8 1439.0,1041.7 1439.3,1045.1 1439.5,1048.9 1439.8,1053.1 1440.1,1057.8 1440.4,1062.7 1440.6,1066.8 1440.8,1071.3 1441.0,1075.9 1441.2,1080.4 1441.5,1084.4 1441.7,1089.4 1442.0,1094.3 1442.3,1098.4 1442.5,1100.8 1443.1,1102.5 1443.6,1103.6 1444.1,1104.4 1444.7,1104.8 1445.5,1101.2 1446.4,1095.9 1447.3,1092.5 1448.2,1090.6 1448.6,1092.6 1448.9,1097.5 1449.3,1102.8 1449.5,1106.7 1449.8,1111.0 1450.1,1115.6 1450.3,1120.4 1450.6,1124.8 1450.8,1129.6 1451.1,1134.5 1451.3,1139.4 1451.5,1144.1 1451.8,1148.5 1452.1,1153.7 1452.4,1158.8 1452.6,1163.8 1452.9,1168.4 1453.2,1172.8 1453.5,1176.9 1453.9,1181.3 1454.2,1185.3 1454.6,1189.1 1455.0,1192.9 1455.3,1196.8 1455.7,1200.6 1456.0,1203.6 1456.7,1207.5 1457.4,1210.2 1458.2,1212.4 1458.9,1213.7 1459.6,1213.2 1460.3,1211.5 1461.0,1209.5 1461.7,1207.3 1462.4,1204.9 1463.1,1202.6 1463.9,1200.4 1464.7,1198.4 1465.5,1196.4 1466.3,1194.4 1467.1,1192.5 1467.9,1190.6 1468.7,1188.1 1469.5,1185.0 1470.1,1181.5 1470.7,1176.8 1471.3,1171.6 1471.7,1167.6 1472.2,1163.6 1472.6,1159.1 1473.1,1153.9 1473.3,1150.4 1473.6,1146.3 1473.8,1141.7 1474.1,1136.9 1474.3,1132.0 1474.6,1127.1 1474.8,1122.4 1475.1,1117.9 1475.4,1113.3 1475.6,1108.6 1475.9,1104.1 1476.1,1099.6 1476.4,1095.3 1476.6,1091.1 1476.9,1086.7 1477.2,1082.4 1477.5,1078.3 1477.8,1074.3 1478.0,1070.5 1478.4,1065.8 1478.8,1061.1 1479.1,1056.8 1479.5,1053.4 1480.0,1049.4 1480.5,1046.3 1481.1,1043.8 1481.6,1042.5 1482.1,1044.1 1482.5,1048.2 1483.0,1052.8 1483.4,1056.4 1483.7,1060.6 1484.1,1065.2 1484.4,1070.2 1484.7,1074.5 1485.0,1079.4 1485.3,1084.4 1485.6,1089.6 1485.9,1094.6 1486.1,1099.6 1486.4,1104.6 1486.7,1109.6 1487.0,1114.4 1487.3,1119.1 1487.6,1123.7 1487.9,1128.3 1488.2,1132.8 1488.5,1137.2 1488.8,1141.5 1489.0,1145.7 1489.4,1150.7 1489.8,1155.8 1490.1,1160.6 1490.5,1165.1 1490.8,1168.9 1491.4,1174.1 1492.0,1178.6 1492.6,1182.5 1493.5,1188.0 1494.4,1192.3 1495.3,1195.2 1496.3,1197.5 1497.2,1199.8 1498.0,1201.9 1498.9,1203.9 1499.7,1205.8 1500.5,1207.2 1501.4,1208.6 1502.2,1209.9 1503.1,1211.4 1504.1,1212.9 1505.0,1214.6 1505.9,1216.1 1506.8,1217.5 1507.7,1219.0 1508.6,1219.9 1509.5,1220.8 1510.4,1221.6 1511.2,1222.5 1512.1,1224.0 1512.9,1226.1 1513.7,1228.6 1514.5,1231.2 1515.3,1233.6 1516.1,1235.8 1516.9,1237.7 1517.7,1239.1 1518.5,1239.5 1519.5,1238.8 1520.4,1238.1 1521.4,1237.4 1522.2,1236.9 1523.0,1236.3 1523.8,1235.7 1524.6,1235.4 1525.4,1234.8 1526.3,1233.9 1527.2,1232.8 1528.1,1231.6 1529.0,1229.8 1529.9,1228.0 1530.8,1226.3 1531.7,1224.8 1532.5,1223.7 1533.3,1222.9 1534.1,1222.1 1535.1,1221.4 1536.0,1220.8 1537.0,1220.2 1537.9,1219.7 1538.8,1219.2 1539.7,1218.8 1540.5,1218.4 1541.5,1217.9 1542.4,1217.4 1543.4,1217.2 1544.1,1217.8 1544.8,1219.3 1545.5,1220.9 1546.2,1222.5 1546.9,1224.3 1547.6,1226.1 1548.4,1227.7 1549.1,1229.3 1549.8,1230.7 1550.5,1232.2 1551.2,1233.6 1551.9,1234.2 1552.6,1233.9 1553.3,1233.6 1554.0,1233.1 1554.9,1232.5 1555.7,1231.6 1556.5,1230.6 1557.3,1228.9 1558.2,1226.5 1559.0,1223.9 1559.7,1221.6 1560.4,1219.3 1561.1,1216.2 1561.6,1213.4 1562.0,1209.5 1562.5,1205.1 1562.9,1200.6 1563.4,1196.3 1563.8,1191.8 1564.2,1186.7 1564.7,1181.0 1565.0,1176.9 1565.3,1172.3 1565.5,1167.4 1565.8,1162.4 1566.1,1157.6 1566.4,1152.6 1566.7,1147.3 1567.0,1142.2 1567.2,1137.6 1567.5,1134.1 1568.1,1128.7 1568.7,1124.6 1569.3,1121.8 1570.2,1118.8 1571.1,1117.4 1571.7,1119.5 1572.3,1124.2 1572.9,1129.2 1573.3,1132.6 1573.7,1136.3 1574.2,1140.4 1574.6,1145.2 1574.9,1149.0 1575.2,1153.7 1575.5,1158.7 1575.8,1163.7 1576.1,1168.2 1576.4,1173.2 1576.8,1178.1 1577.1,1182.7 1577.5,1187.0 1577.8,1191.1 1578.3,1196.0 1578.7,1200.6 1579.2,1204.9 1579.6,1208.8 1580.2,1213.6 1580.8,1218.1 1581.4,1221.8 1581.9,1224.7 1582.4,1226.8 1583.2,1228.8 1583.9,1229.8 1584.8,1229.5 1585.8,1228.8 1586.7,1228.1 1587.6,1227.6 1588.5,1227.0 1589.4,1226.4 1590.3,1226.1 1591.1,1226.6 1592.0,1227.8 1592.9,1228.9 1593.8,1229.6 1594.7,1230.2 1595.6,1230.9 1596.5,1232.5 1597.4,1233.8 1598.1,1233.9 1598.8,1233.1 1599.5,1232.3 1600.2,1231.1 1600.9,1229.6 1601.6,1227.7 1602.3,1225.3 1603.0,1222.3 1603.8,1219.3 1604.6,1215.8 1605.4,1212.3 1606.2,1208.7 1607.1,1205.0 1607.9,1201.3 1608.7,1197.7 1609.4,1194.1 1610.1,1190.5 1610.9,1187.2 1611.6,1184.6 1612.3,1182.3 1613.0,1180.6 1613.7,1179.2 1614.4,1178.0 1615.1,1177.7 1616.0,1181.0 1616.9,1186.7 1617.5,1190.7 1618.1,1195.2 1618.7,1199.2 1619.6,1203.9 1620.4,1208.0 1621.3,1212.0 1622.2,1215.0 1623.2,1216.6 1624.1,1217.8 1625.1,1218.5 1625.9,1219.0 1626.7,1219.4 1627.5,1219.5 1628.4,1218.8 1629.2,1217.4 1630.0,1215.8 1631.0,1214.3 1631.9,1212.6 1632.9,1210.7 1633.6,1208.6 1634.3,1205.8 1635.0,1203.0 1635.7,1200.2 1636.4,1197.0 1637.1,1193.2 1637.7,1189.4 1638.2,1184.7 1638.7,1179.7 1639.3,1175.0 1639.9,1170.1 1640.5,1165.6 1641.1,1160.7 1641.7,1154.9 1642.1,1150.7 1642.5,1145.8 1642.8,1140.4 1643.2,1134.9 1643.5,1129.7 1643.9,1124.4 1644.2,1118.8 1644.6,1113.4 1644.9,1108.6 1645.3,1104.9 1646.0,1099.8 1646.7,1096.1 1647.3,1093.4 1647.8,1091.9 1648.5,1095.4 1649.2,1101.7 1649.7,1105.9 1650.2,1110.8 1650.6,1116.1 1651.0,1120.3 1651.3,1124.9 1651.7,1129.7 1652.0,1134.6 1652.4,1139.4 1652.8,1144.1 1653.1,1148.8 1653.5,1153.6 1653.8,1158.2 1654.2,1162.6 1654.5,1166.9 1654.9,1171.1 1655.2,1175.1 1655.6,1178.8 1656.1,1183.6 1656.5,1188.1 1657.0,1191.9 1657.7,1196.1 1658.4,1199.6 1659.1,1202.8 1659.9,1205.7 1660.6,1207.5 1661.3,1209.5 1662.0,1212.3 1662.7,1215.4 1663.4,1218.3 1664.1,1221.6 1664.8,1225.2 1665.5,1227.7 1666.2,1229.1 1667.0,1230.2 1667.7,1231.1 1668.5,1231.6 1669.3,1231.8 1670.2,1231.9 1671.1,1231.5 1672.1,1230.8 1673.1,1230.0 1674.1,1229.4 1674.9,1229.0 1675.8,1228.7 1676.6,1228.5 1677.5,1228.1 1678.3,1227.4 1678.9,1225.2 1679.5,1221.2 1680.1,1217.1 1680.7,1213.5 1681.3,1209.8 1681.9,1206.4 1682.8,1201.6 1683.7,1197.5 1684.5,1193.7 1685.4,1191.6 1686.3,1193.7 1687.2,1198.0 1687.8,1201.3 1688.4,1205.1 1689.0,1208.4 1689.7,1211.4 1690.4,1213.9 1691.1,1216.0 1691.8,1218.0 1692.5,1219.6 1693.2,1220.2 1694.1,1220.1 1695.0,1219.9 1695.9,1219.8 1696.8,1220.1 1697.7,1220.4 1698.6,1220.6 1699.5,1220.9 1700.3,1221.2 1701.3,1222.4 1702.2,1224.6 1703.2,1226.8 1704.0,1228.3 1704.8,1229.5 1705.7,1229.8 1706.5,1229.4 1707.3,1228.8 1708.2,1228.4 1709.1,1228.2 1710.0,1227.8 1711.0,1226.9 1711.9,1223.7 1712.8,1218.2 1713.4,1214.5 1714.0,1210.2 1714.5,1205.8 1715.1,1201.2 1715.7,1196.4 1716.3,1191.6 1716.9,1186.1 1717.5,1180.7 1718.1,1177.2 1718.6,1175.9 1719.2,1175.0 1719.7,1174.5 1720.2,1174.3 1720.9,1177.0 1721.6,1181.0 1722.5,1184.3 1723.4,1186.6 1724.3,1187.7 1725.2,1188.0 1726.1,1187.7 1727.0,1187.5 1727.8,1185.4 1728.6,1181.3 1729.5,1177.0 1730.2,1173.6 1730.9,1170.0 1731.6,1167.0 1732.5,1164.3 1733.4,1162.2 1734.3,1160.5 1735.1,1159.6 1735.9,1160.6 1736.6,1162.9 1737.3,1165.0 1738.2,1166.5 1739.1,1167.8 1740.0,1169.3 1740.7,1171.7 1741.4,1175.5 1742.1,1179.3 1742.8,1182.6 1743.6,1185.9 1744.3,1189.4 1745.0,1193.1 1745.7,1196.7 1746.4,1200.1 1747.1,1203.7 1747.8,1207.1 1748.5,1208.9 1749.4,1208.1 1750.2,1206.2 1751.1,1204.0 1751.9,1201.4 1752.8,1198.0 1753.6,1196.2 1754.5,1199.0 1755.3,1204.1 1755.9,1207.5 1756.5,1211.7 1757.0,1215.4 1757.8,1219.0 1758.5,1222.3 1759.2,1225.3 1759.9,1228.0 1760.6,1230.1 1761.3,1231.6 1762.2,1232.8 1763.0,1233.6 1763.9,1234.3 1764.7,1234.9 1765.6,1235.4 1766.4,1236.0 1767.3,1236.4 1768.1,1236.8 1769.0,1236.9 1769.8,1236.7 1770.7,1236.2 1771.5,1235.6 1772.4,1235.4 1773.3,1235.4 1774.3,1235.4 1775.3,1235.5 1776.2,1235.3 1776.9,1235.3 1777.6,1235.5 1778.4,1235.4 1779.1,1235.0 1779.8,1234.6 1780.5,1234.7 1781.3,1234.4 1782.2,1233.4 1783.0,1232.2 1783.9,1230.9 1784.9,1229.6 1785.9,1228.0 1786.9,1225.9 1787.6,1223.4 1788.3,1219.9 1789.0,1216.3 1789.7,1212.2 1790.4,1207.9 1791.1,1204.9 1792.1,1202.5 1793.1,1200.8 1794.1,1199.2 1795.0,1198.0 1795.8,1196.8 1796.7,1195.9 1797.5,1195.1 1798.5,1194.2 1799.5,1193.4 1800.5,1192.6 1801.4,1192.0 1802.2,1191.4 1803.1,1190.9 1803.9,1190.7 1804.6,1191.2 1805.3,1192.5 1806.1,1193.8 1806.8,1195.1 1807.5,1196.5 1808.2,1198.3 1809.2,1201.5 1810.2,1205.2 1811.2,1208.7 1812.0,1211.9 1812.9,1214.9 1813.7,1217.4 1814.6,1218.3 1815.3,1217.0 1816.0,1214.0 1816.7,1210.6 1817.4,1207.0 1818.1,1202.8 1818.8,1198.1 1819.4,1194.1 1819.9,1189.8 1820.4,1185.6 1821.0,1181.5 1821.5,1177.6 1822.0,1173.9 1822.6,1170.0 1823.1,1165.6 1823.5,1161.3 1823.9,1156.3 1824.4,1150.4 1824.7,1145.6 1824.9,1140.5 1825.2,1136.9 1825.9,1132.7 1826.5,1130.1 1827.1,1128.4 1827.8,1127.3 1828.4,1130.2 1829.1,1135.2 1829.5,1138.5 1829.9,1142.4 1830.3,1146.5 1830.8,1151.1 1831.2,1156.2 1831.6,1161.4 1832.0,1166.5 1832.5,1171.8 1832.9,1177.4 1833.3,1182.4 1833.7,1185.9 1834.6,1189.9 1835.5,1192.5 1836.3,1194.6 1837.2,1195.7 1837.9,1194.8 1838.6,1193.0 1839.3,1191.6 1840.0,1190.7 1840.7,1189.9 1841.4,1189.5 1842.1,1190.4 1842.8,1192.3 1843.5,1194.2 1844.3,1195.6 1845.0,1196.9 1845.7,1198.2 1846.5,1200.0 1847.4,1201.4 1848.0,1202.0 1848.7,1202.4 1849.5,1199.7 1850.4,1194.3 1850.8,1191.1 1851.2,1187.4 1851.6,1183.9 1852.4,1178.7 1853.1,1173.7 1853.8,1168.7 1854.5,1163.1 1855.2,1157.6 1855.9,1153.4 1856.6,1150.8 1857.3,1148.9 1858.0,1147.3 1858.7,1145.9 1859.5,1144.7 1860.2,1143.9 1861.0,1145.6 1861.9,1149.3 1862.7,1153.0 1863.6,1157.2 1864.1,1160.9 1864.7,1165.1 1865.3,1169.0 1866.1,1174.8 1867.0,1178.9 1867.8,1180.6 1868.7,1181.2 1869.5,1181.5 1870.4,1181.7 1871.4,1181.8 1872.3,1182.1 1873.3,1182.8 1874.2,1183.7 1874.9,1185.2 1875.7,1187.7 1876.4,1189.8 1877.1,1191.5 1877.8,1193.2 1878.5,1194.8 1879.2,1196.5 1879.9,1198.3 1880.6,1199.9 1881.3,1201.7 1882.0,1203.4 1882.8,1204.1 1883.5,1203.2 1884.2,1201.1 1884.9,1198.7 1885.6,1196.4 1886.3,1194.0 1887.0,1191.7 1887.7,1189.9 1888.3,1188.6 1889.1,1187.5 1889.9,1188.9 1890.6,1191.6 1891.3,1194.4 1892.0,1196.8 1892.7,1199.1 1893.4,1200.5 1894.4,1201.3 1895.4,1201.8 1896.4,1202.3 1897.2,1202.6 1898.1,1202.9 1898.9,1203.2 1899.8,1203.6 1900.5,1205.1 1901.2,1208.1 1901.9,1211.1 1902.6,1213.8 1903.3,1216.6 1904.1,1219.4 1904.8,1222.1 1905.5,1224.8 1906.2,1227.5 1906.9,1230.3 1907.6,1233.1 1908.3,1236.2 1909.2,1239.6 1910.0,1242.5 1910.9,1244.8 1911.7,1246.3 1912.6,1244.6 1913.4,1241.3 1914.3,1237.8 1915.1,1234.9 1916.0,1231.7 1916.8,1228.1 1917.7,1224.1 1918.5,1219.8 1919.4,1215.7 1920.4,1211.9 1921.4,1208.8 1922.4,1206.7 1923.1,1205.8 1923.8,1205.1 1924.5,1203.9 1925.2,1202.7 1925.9,1201.6 1926.6,1200.9 1927.4,1201.6 1928.1,1203.8 1928.8,1206.6 1929.5,1209.2 1930.2,1212.1 1930.9,1214.9 1931.8,1217.8 1932.6,1220.2 1933.5,1222.6 1934.3,1225.1 1935.2,1227.6 1936.0,1229.7 1936.7,1231.0 1937.4,1232.1 1938.2,1233.1 1938.9,1234.1 1939.6,1234.9 1940.3,1235.4 1941.1,1234.6 1942.0,1232.8 1942.8,1230.7 1943.7,1229.0 1944.5,1226.8 1945.4,1223.9 1946.1,1220.1 1946.8,1215.2 1947.5,1209.9 1948.1,1205.9 1948.6,1201.5 1949.1,1197.2 1949.7,1193.2 1950.2,1189.3 1950.8,1185.7 1951.4,1182.0 1951.9,1178.3 1952.5,1174.8 1953.1,1171.7 1953.8,1168.8 1954.5,1166.3 1955.2,1164.0 1955.9,1161.4 1956.6,1158.8 1957.3,1157.1 1958.2,1156.1 1959.0,1155.5 1959.9,1155.4 1960.7,1155.5 1961.6,1157.6 1962.4,1161.2 1963.3,1165.3 1964.1,1170.0 1964.7,1174.2 1965.3,1179.3 1965.8,1184.0 1966.6,1188.9 1967.3,1193.4 1968.0,1197.8 1968.7,1202.4 1969.4,1206.8 1970.1,1211.1 1970.8,1215.1 1971.5,1219.0 1972.2,1222.8 1973.0,1226.3 1973.7,1229.5 1974.4,1232.6 1975.1,1235.6 1975.8,1238.5 1976.5,1240.7 1977.2,1242.2 1977.9,1243.3 1978.6,1244.3 1979.3,1245.0 1980.1,1245.5 1980.8,1245.4 1981.6,1244.4 1982.5,1242.3 1983.3,1240.2 1984.3,1238.0 1985.3,1235.8 1986.3,1233.7 1987.2,1232.3 1988.0,1231.0 1988.9,1229.9 1989.7,1228.7 1990.6,1227.4 1991.4,1226.4 1992.1,1225.7 1992.8,1225.0 1993.5,1224.2 1994.3,1223.2 1995.0,1222.0 1995.7,1220.4 1996.5,1216.5 1997.4,1211.2 1998.0,1207.5 1998.5,1203.8 1999.1,1200.6 1999.9,1197.2 2000.8,1194.0 2001.4,1191.4 2002.1,1189.5 2002.9,1188.4 2003.8,1187.9 2004.4,1187.8 2005.1,1187.8 2005.8,1188.9 2006.5,1191.4 2007.2,1194.1 2007.9,1196.4 2008.6,1199.0 2009.3,1201.9 2010.0,1205.3 2010.7,1209.1 2011.4,1212.8 2012.2,1216.6 2012.9,1220.3 2013.6,1223.6 2014.4,1227.1 2015.3,1230.3 2016.1,1233.1 2017.1,1235.8 2018.1,1238.1 2019.1,1240.6 2019.8,1242.6 2020.5,1244.8 2021.2,1246.8 2022.0,1248.8 2022.7,1250.7 2023.4,1251.9 2024.1,1252.6 2024.8,1253.0 2025.5,1253.3 2026.2,1253.6 2026.9,1253.9 2027.6,1254.2 2028.6,1255.8 2029.6,1258.5 2030.6,1261.1 2031.5,1263.1 2032.3,1265.2 2033.2,1266.9 2034.0,1267.8 2034.9,1268.1 2035.7,1268.3 2036.6,1268.2 2037.4,1268.1 2038.4,1267.9 2039.4,1267.6 2040.4,1267.7 2041.4,1268.3 2042.4,1269.4 2043.4,1270.5 2044.3,1271.4 2045.1,1272.5 2046.0,1273.6 2046.8,1274.5 2047.8,1275.4 2048.7,1275.7 2049.7,1275.9 2050.6,1276.1 2051.6,1276.3 2052.6,1276.7 2053.5,1277.1 2054.5,1277.2 2055.3,1277.1 2056.2,1276.6 2057.0,1276.0 2057.9,1275.3 2058.9,1274.6 2059.8,1273.9 2060.8,1273.7 2061.7,1273.5 2062.7,1273.3 2063.7,1273.1 2064.7,1272.6 2065.6,1272.1 2066.4,1271.6 2067.3,1271.0 2068.0,1270.1 2068.7,1269.0 2069.4,1267.9 2070.1,1266.6 2070.8,1265.4 2071.5,1264.8 2072.5,1265.0 2073.5,1265.5 2074.5,1265.8 2075.5,1265.8 2076.5,1265.7 2077.5,1265.5 2078.3,1264.8 2079.2,1263.5 2080.1,1262.1 2080.9,1261.2 2081.8,1260.4 2082.6,1259.7 2083.5,1259.0 2084.3,1258.2 2085.2,1257.4 2086.0,1256.7 2086.9,1255.9 2087.7,1255.2 2088.6,1253.8 2089.4,1251.9 2090.3,1248.7 2091.1,1244.8 2092.0,1241.0 2092.8,1239.1 2093.5,1240.3 2094.3,1242.6 2095.0,1245.1 2095.7,1247.5 2096.4,1249.6 2097.1,1251.3 2097.9,1252.5 2098.8,1253.4 2099.7,1254.2 2100.5,1255.5 2101.5,1257.1 2102.4,1258.8 2103.4,1260.2 2104.3,1260.9 2105.3,1260.6 2106.3,1259.3 2107.3,1258.0 2108.2,1256.4 2109.0,1254.1 2109.9,1251.8 2110.7,1249.3 2111.6,1246.8 2112.4,1245.0 2113.3,1243.4 2114.1,1241.9 2115.0,1240.5 2115.7,1239.4 2116.4,1238.5 2117.1,1237.8 2117.8,1237.2 2118.5,1236.6 2119.3,1236.6 2120.0,1236.9 2120.7,1237.3 2121.4,1237.6 2122.1,1238.1 2122.8,1238.6 2123.5,1239.2 2124.4,1240.0 2125.2,1240.8 2126.1,1241.6 2126.9,1242.3 2127.9,1243.1 2128.9,1243.5 2129.9,1244.1 2130.9,1245.1 2131.9,1246.5 2132.9,1248.8 2133.7,1250.8 2134.6,1252.9 2135.4,1254.2 2136.3,1254.9 2137.2,1255.3 2138.0,1255.7 2138.9,1256.1 2139.8,1256.4 2140.8,1256.6 2141.7,1256.8 2142.7,1257.1 2143.7,1258.0 2144.7,1259.2 2145.7,1260.3 2146.5,1261.0 2147.4,1261.7 2148.2,1262.2 2149.1,1262.4 2149.9,1262.5 2150.8,1262.5 2151.6,1262.4 2152.5,1262.6 2153.3,1262.7 2154.2,1262.8 2155.1,1263.0 2156.0,1263.0 2157.0,1262.9 2157.9,1262.7 2158.8,1262.6 2159.7,1262.5 2160.6,1262.9 2161.4,1263.3 2162.3,1263.7 2163.1,1264.1 2164.0,1264.7 2164.9,1265.4 2165.7,1266.2 2166.6,1267.0 2167.4,1267.8 2168.3,1268.3 2169.3,1268.7 2170.2,1269.4 2171.2,1269.9 2172.1,1270.3 2172.9,1270.8 2173.8,1271.1 2174.7,1271.0 2175.5,1270.5 2176.4,1270.3 2177.2,1270.2 2178.1,1270.1 2179.1,1269.9 2180.1,1269.3 2181.0,1267.7 2182.0,1266.2 2183.0,1264.7 2184.0,1263.7 2184.9,1263.7 2185.7,1263.6 2186.6,1263.7 2187.4,1264.1 2188.4,1264.3 2189.4,1264.5 2190.3,1264.8 2191.3,1265.1 2192.2,1265.5 2193.2,1266.1 2194.1,1266.8 2195.1,1267.6 2196.1,1268.5 2197.1,1269.5 2198.1,1270.4 2199.1,1271.4 2200.1,1272.3 2201.1,1272.6 2201.9,1272.2 2202.8,1271.6 2203.6,1271.0 2204.6,1270.8 2205.6,1270.8 2206.6,1270.9 2207.3,1271.4 2208.0,1272.3 2208.7,1273.0 2209.5,1273.5 2210.2,1273.9 2210.9,1274.4 2211.9,1275.2 2212.9,1276.3 2213.9,1277.4 2214.7,1278.5 2215.6,1279.7 2216.4,1280.2 2217.3,1279.9 2218.1,1279.4 2219.0,1278.7 2219.8,1278.2 2220.8,1277.5 2221.7,1276.9 2222.7,1276.3 2223.7,1275.7 2224.7,1275.3 2225.6,1274.9 2226.6,1274.5 2227.5,1274.1 2228.3,1273.9 2229.2,1274.1 2230.0,1274.8 2230.9,1276.1 2231.8,1277.3 2232.6,1277.9 2233.5,1278.6 2234.3,1278.9 2235.2,1278.4 2236.0,1277.3 2236.9,1276.4 2237.7,1275.5 2238.6,1274.6 2239.4,1274.2 2240.1,1274.6 2240.8,1275.4 2241.6,1276.1 2242.3,1276.7 2243.0,1277.3 2243.7,1277.7 2244.5,1277.0 2245.4,1275.8 2246.2,1274.8 2247.2,1273.7 2248.2,1272.9 2249.2,1272.6 2250.2,1272.7 2251.2,1272.8 2252.2,1272.7 2253.1,1272.5 2253.9,1272.2 2254.8,1271.9 2255.6,1271.6 2256.5,1271.9 2257.3,1272.2 2258.2,1272.6 2259.0,1273.0 2259.9,1273.5 2260.7,1274.1 2261.7,1274.1 2262.6,1273.3 2263.6,1272.2 2264.6,1270.5 2265.5,1268.5 2266.5,1266.5 2267.4,1264.7 2268.4,1263.9 2269.3,1263.8 2270.1,1263.6 2271.0,1263.5 2271.8,1263.4 2272.8,1263.5 2273.8,1263.6 2274.8,1263.7 2275.8,1263.5 2276.8,1262.2 2277.8,1261.0 2278.6,1260.0 2279.5,1259.0 2280.3,1258.5 2281.2,1258.6 2282.0,1258.9 2282.9,1259.5 2283.7,1260.1 2284.6,1260.4 2285.6,1260.8 2286.6,1261.3 2287.6,1261.8" fill="none" stroke="#000" stroke-width="4.4" stroke-linejoin="bevel" stroke-linecap="round" shape-rendering="crispEdges"/>
<polyline points="507.8,2509.4 508.6,2508.5 509.5,2507.6 510.4,2506.7 511.3,2505.8 512.2,2505.4 513.1,2505.5 514.0,2505.6 514.9,2505.8 515.7,2506.1 516.6,2506.0 517.5,2506.0 518.4,2506.0 519.3,2506.0 520.2,2506.1 521.1,2506.3 522.0,2506.6 522.9,2506.9 523.8,2507.3 524.7,2507.1 525.6,2507.0 526.5,2506.8 527.4,2506.5 528.4,2506.6 529.2,2506.8 530.1,2507.0 530.9,2507.2 531.8,2507.4 532.7,2507.3 533.5,2507.2 534.4,2507.2 535.3,2506.9 536.2,2506.2 537.2,2505.4 538.1,2504.6 539.0,2504.0 539.9,2503.5 540.7,2503.3 541.6,2503.0 542.4,2502.8 543.3,2502.7 544.2,2502.6 545.1,2502.5 546.0,2502.5 547.0,2502.4 547.9,2502.3 548.7,2502.1 549.6,2501.8 550.4,2501.3 551.3,2500.9 552.1,2500.4 553.1,2499.7 554.0,2498.9 554.9,2498.1 555.8,2497.5 556.8,2497.3 557.6,2497.2 558.5,2497.1 559.3,2497.0 560.2,2496.9 561.0,2496.6 561.9,2496.5 562.7,2496.7 563.6,2497.0 564.4,2496.9 565.3,2496.7 566.2,2496.3 567.1,2495.8 568.1,2495.9 569.0,2497.0 569.9,2498.1 570.8,2499.0 571.7,2499.7 572.7,2498.9 573.6,2498.0 574.5,2497.3 575.4,2496.6 576.2,2496.1 577.1,2495.7 577.9,2495.3 578.8,2494.7 579.6,2493.9 580.5,2493.0 581.3,2492.0 582.2,2491.4 583.0,2491.2 584.0,2491.8 584.9,2492.7 585.9,2493.1 586.8,2493.1 587.7,2493.1 588.5,2493.1 589.4,2493.1 590.4,2492.3 591.3,2490.8 592.3,2489.3 593.1,2488.0 593.9,2486.8 594.8,2485.9 595.7,2485.1 596.6,2484.8 597.5,2484.7 598.5,2484.7 599.4,2484.8 600.2,2484.7 601.1,2484.3 601.9,2484.0 602.8,2483.6 603.6,2483.2 604.5,2483.6 605.3,2484.0 606.2,2484.2 607.0,2484.3 607.9,2484.3 608.8,2483.1 609.7,2481.9 610.7,2480.6 611.6,2479.4 612.5,2479.0 613.4,2479.0 614.4,2479.0 615.3,2479.0 616.2,2478.8 617.1,2478.6 618.0,2478.1 618.8,2477.5 619.7,2476.9 620.5,2476.3 621.4,2476.0 622.2,2475.8 623.1,2475.7 623.9,2475.6 624.8,2475.4 625.7,2475.1 626.6,2474.9 627.5,2474.6 628.4,2474.5 629.3,2474.4 630.3,2474.3 631.2,2473.9 632.0,2472.9 632.9,2471.0 633.8,2469.2 634.7,2467.6 635.6,2466.1 636.5,2465.9 637.4,2465.8 638.2,2465.2 639.0,2464.3 639.9,2463.5 640.8,2462.3 641.8,2461.3 642.7,2460.7 643.6,2460.3 644.6,2460.1 645.5,2459.8 646.4,2459.6 647.2,2459.5 648.0,2459.4 648.9,2459.2 649.8,2458.2 650.7,2457.0 651.6,2455.9 652.5,2453.9 653.4,2451.6 654.2,2449.6 655.1,2448.5 656.0,2448.4 656.8,2449.1 657.6,2449.6 658.6,2449.8 659.5,2450.0 660.5,2449.7 661.4,2448.1 662.3,2445.0 663.3,2441.9 664.1,2440.2 665.0,2439.0 665.8,2437.6 666.6,2435.6 667.4,2433.4 668.3,2430.7 669.0,2427.9 669.7,2425.2 670.4,2423.2 671.1,2422.1 671.8,2421.2 672.5,2420.8 673.2,2420.5 673.9,2420.3 674.7,2420.2 675.4,2420.3 676.1,2421.0 676.8,2421.9 677.5,2422.6 678.2,2423.3 678.9,2424.0 679.8,2423.4 680.7,2420.9 681.6,2418.7 682.5,2417.3 683.2,2418.3 683.9,2420.3 684.6,2422.3 685.3,2424.7 686.0,2427.5 686.7,2430.4 687.4,2433.9 688.2,2436.0 689.1,2435.7 690.0,2435.1 691.0,2434.7 691.8,2434.4 692.6,2433.9 693.4,2433.4 694.2,2433.0 695.1,2432.7 696.0,2432.7 696.9,2433.0 697.7,2433.3 698.6,2433.5 699.5,2433.7 700.4,2434.0 701.3,2434.4 702.1,2434.6 702.9,2434.6 703.7,2434.6 704.5,2433.8 705.4,2432.8 706.4,2431.7 707.3,2430.5 708.3,2429.3 709.2,2428.0 710.2,2426.7 711.1,2425.7 712.1,2424.3 713.0,2422.1 713.8,2420.0 714.7,2417.9 715.5,2415.9 716.3,2414.4 717.2,2413.4 718.0,2412.9 718.7,2412.8 719.4,2412.9 720.1,2412.9 720.9,2412.6 721.8,2412.4 722.6,2412.1 723.5,2411.8 724.4,2412.2 725.4,2412.8 726.3,2413.3 727.2,2413.9 728.1,2414.1 728.9,2413.8 729.8,2413.5 730.6,2413.2 731.5,2412.9 732.4,2412.4 733.3,2411.8 734.1,2411.3 735.0,2410.8 735.9,2410.5 736.8,2410.2 737.7,2409.9 738.6,2409.6 739.5,2409.9 740.5,2411.5 741.4,2413.2 742.2,2414.5 743.1,2415.7 743.9,2416.4 744.7,2416.2 745.6,2415.7 746.4,2415.0 747.1,2414.3 747.8,2413.2 748.5,2411.6 749.4,2408.0 750.3,2404.0 751.2,2400.9 752.1,2398.5 752.8,2397.3 753.5,2396.4 754.0,2395.9 754.6,2395.7 755.4,2396.2 756.2,2396.8 757.0,2397.4 757.8,2397.9 758.5,2398.5 759.2,2399.2 759.9,2400.1 760.6,2401.0 761.3,2401.7 762.0,2402.3 762.7,2402.8 763.4,2403.0 764.4,2402.4 765.3,2401.3 766.3,2400.1 767.1,2399.2 767.9,2398.2 768.8,2397.5 769.6,2396.6 770.4,2395.7 771.2,2394.7 772.0,2393.6 772.7,2392.2 773.4,2390.8 774.1,2389.7 774.8,2388.7 775.5,2387.7 776.2,2386.8 776.9,2384.3 777.6,2380.1 778.0,2377.4 778.4,2373.9 778.7,2369.7 779.0,2365.9 779.3,2361.3 779.6,2356.3 779.8,2350.8 780.1,2345.1 780.3,2340.8 780.6,2336.4 780.8,2331.6 781.0,2326.2 781.2,2319.9 781.3,2316.5 781.4,2312.5 781.5,2308.1 781.6,2303.3 781.7,2298.2 781.8,2292.9 781.9,2287.4 782.0,2282.0 782.1,2276.6 782.2,2271.3 782.3,2266.3 782.4,2261.4 782.5,2256.5 782.5,2251.5 782.6,2246.5 782.7,2241.5 782.8,2236.6 782.9,2231.7 783.0,2226.8 783.1,2222.0 783.2,2217.3 783.3,2212.7 783.4,2207.8 783.5,2203.0 783.6,2198.2 783.8,2193.5 783.9,2188.9 784.0,2184.4 784.1,2180.0 784.2,2175.5 784.3,2171.1 784.4,2166.8 784.5,2161.8 784.6,2156.7 784.7,2151.6 784.9,2146.6 785.0,2141.6 785.1,2136.9 785.2,2132.4 785.3,2128.3 785.5,2124.7 785.7,2119.1 785.9,2113.9 786.1,2109.1 786.3,2104.7 786.5,2100.7 786.7,2096.9 786.9,2093.4 787.2,2087.1 787.6,2081.0 787.9,2076.1 788.3,2074.0 788.7,2075.8 789.0,2080.4 789.4,2086.6 789.7,2092.9 789.9,2096.5 790.1,2100.4 790.3,2104.6 790.5,2109.1 790.7,2113.9 790.9,2119.0 791.1,2124.2 791.3,2128.0 791.4,2132.0 791.6,2136.3 791.7,2140.7 791.8,2145.3 792.0,2150.0 792.1,2154.8 792.3,2159.8 792.4,2164.8 792.6,2169.9 792.7,2174.3 792.8,2179.1 792.9,2184.1 793.0,2189.2 793.1,2194.3 793.3,2199.2 793.4,2204.0 793.5,2208.4 793.6,2212.3 793.8,2217.4 794.0,2222.1 794.2,2226.3 794.3,2230.3 794.5,2234.3 794.7,2238.4 794.9,2242.7 795.0,2247.5 795.2,2251.6 795.3,2256.0 795.4,2260.6 795.6,2265.4 795.7,2270.1 795.8,2274.7 796.0,2279.1 796.1,2283.0 796.3,2288.3 796.5,2293.2 796.7,2297.8 796.9,2302.2 797.1,2306.5 797.3,2310.9 797.5,2315.4 797.7,2320.1 797.9,2324.9 798.1,2329.8 798.3,2334.6 798.5,2339.2 798.7,2343.7 798.9,2347.7 799.2,2353.0 799.5,2357.9 799.8,2362.5 800.1,2366.7 800.4,2370.9 800.7,2376.2 801.1,2381.3 801.4,2386.1 801.8,2390.2 802.3,2394.7 802.7,2398.6 803.2,2402.4 803.7,2407.4 804.3,2411.1 805.2,2413.3 806.1,2414.5 806.9,2415.6 807.8,2416.2 808.7,2416.1 809.5,2415.9 810.3,2415.6 811.3,2415.5 812.2,2415.4 813.2,2415.5 814.0,2416.0 814.9,2416.9 815.8,2417.8 816.7,2417.9 817.6,2417.8 818.5,2417.7 819.4,2417.6 820.3,2418.0 821.1,2419.0 822.0,2420.0 822.9,2420.9 823.8,2421.7 824.8,2422.0 825.7,2422.2 826.6,2422.3 827.5,2419.6 828.4,2415.2 829.3,2411.4 830.2,2408.1 830.9,2406.1 831.6,2404.6 832.3,2403.5 833.0,2403.1 833.8,2404.2 834.5,2405.9 835.3,2407.9 836.2,2409.5 837.1,2410.6 838.0,2411.4 838.9,2412.1 839.8,2412.3 840.7,2412.5 841.6,2412.8 842.5,2413.3 843.3,2414.0 844.2,2417.3 845.1,2422.1 846.0,2426.8 846.9,2429.5 847.6,2429.2 848.3,2428.7 848.8,2427.6 849.4,2425.9 850.1,2422.9 850.8,2419.6 851.5,2416.5 852.2,2414.7 852.9,2414.7 853.6,2414.6 854.3,2415.3 855.1,2417.0 855.6,2419.7 856.2,2423.7 856.8,2427.5 857.7,2432.8 858.6,2436.4 859.3,2437.4 860.0,2438.0 860.7,2438.4 861.4,2438.7 862.2,2438.9 862.9,2439.0 863.6,2439.0 864.3,2439.1 865.0,2439.3 865.7,2439.5 866.4,2440.0 867.1,2440.5 867.8,2441.4 868.6,2442.8 869.3,2444.1 870.1,2445.4 870.9,2446.5 871.7,2447.7 872.6,2448.4 873.4,2449.0 874.2,2449.5 874.9,2449.8 875.7,2450.0 876.4,2450.1 877.3,2449.8 878.3,2449.0 879.2,2448.2 880.0,2447.6 880.8,2446.8 881.6,2446.1 882.4,2445.5 883.2,2445.1 884.1,2444.6 884.9,2444.1 885.8,2443.3 886.8,2442.6 887.7,2441.5 888.4,2440.6 889.1,2439.1 889.9,2437.5 890.6,2436.1 891.3,2434.5 892.0,2432.1 892.3,2429.5 892.7,2425.6 893.1,2421.0 893.4,2416.6 893.8,2412.5 894.1,2408.3 894.5,2404.0 894.8,2399.4 895.1,2395.5 895.4,2391.3 895.7,2387.1 896.0,2382.6 896.2,2378.0 896.5,2373.2 896.8,2368.1 897.1,2363.1 897.4,2358.8 897.7,2355.5 898.2,2351.2 898.7,2348.2 899.3,2346.0 899.8,2344.9 900.3,2347.2 900.9,2351.5 901.4,2356.0 901.9,2362.0 902.2,2365.6 902.4,2370.1 902.6,2375.2 902.9,2380.6 903.1,2386.0 903.4,2391.1 903.6,2396.2 903.8,2401.4 904.1,2406.6 904.3,2411.5 904.5,2416.0 904.8,2419.8 905.1,2424.7 905.5,2429.1 905.8,2432.8 906.2,2435.9 906.9,2441.3 907.6,2444.1 908.3,2442.0 909.0,2438.2 909.6,2435.1 910.2,2431.3 910.8,2426.5 911.1,2423.3 911.4,2419.2 911.7,2414.5 911.9,2409.7 912.2,2405.1 912.5,2400.4 912.8,2395.2 913.0,2390.6 913.3,2387.5 913.8,2384.3 914.4,2382.3 914.9,2380.7 915.4,2379.9 916.1,2381.5 916.8,2384.4 917.6,2387.4 918.3,2391.7 918.6,2394.9 918.8,2399.5 919.1,2404.9 919.4,2410.3 919.7,2415.0 920.0,2420.2 920.4,2425.2 920.8,2429.9 921.1,2434.4 921.5,2438.5 922.0,2444.2 922.5,2448.6 923.2,2452.9 923.9,2454.9 924.8,2453.3 925.7,2450.6 926.6,2447.9 927.5,2445.2 928.2,2443.3 928.9,2441.7 929.6,2440.1 930.3,2439.3 931.1,2440.2 931.8,2441.9 932.5,2443.9 933.2,2446.8 933.7,2450.0 934.1,2454.1 934.6,2458.0 935.3,2463.2 936.0,2467.3 936.7,2469.9 937.4,2471.7 938.3,2473.3 939.2,2474.1 940.0,2474.0 940.9,2473.7 941.7,2473.5 942.7,2473.1 943.6,2472.8 944.5,2472.4 945.5,2471.7 946.4,2470.4 947.4,2469.0 948.2,2467.6 949.0,2465.9 949.9,2463.2 950.2,2460.9 950.6,2457.0 950.9,2452.2 951.3,2447.0 951.5,2443.3 951.7,2438.9 951.9,2434.3 952.1,2429.8 952.4,2425.8 952.6,2421.1 952.9,2416.6 953.2,2412.4 953.5,2408.5 953.8,2404.9 954.1,2400.1 954.5,2395.2 954.8,2391.5 955.2,2390.0 955.7,2392.1 956.1,2396.8 956.6,2402.1 957.0,2405.8 957.3,2410.0 957.7,2414.7 958.0,2420.1 958.2,2423.8 958.4,2428.2 958.6,2433.1 958.9,2438.1 959.1,2443.2 959.3,2448.0 959.5,2452.3 959.7,2458.2 960.0,2464.0 960.3,2469.4 960.6,2473.8 960.9,2476.8 961.6,2480.7 962.3,2483.3 962.8,2485.4 963.4,2486.4 964.3,2485.6 965.1,2484.7 965.9,2484.3 966.6,2484.1 967.3,2485.1 968.0,2487.1 968.7,2488.9 969.5,2490.6 970.4,2492.2 971.2,2493.4 972.0,2494.3 972.8,2494.9 973.7,2495.3 974.4,2495.7 975.1,2496.0 975.8,2496.1 976.5,2495.7 977.2,2494.9 977.9,2494.1 978.6,2493.5 979.3,2492.9 980.1,2492.7 981.0,2492.6 982.0,2492.8 982.9,2492.9 983.9,2493.1 984.8,2493.1 985.8,2492.9 986.7,2491.9 987.6,2490.1 988.5,2488.4 989.3,2486.9 990.1,2485.1 990.9,2482.6 991.5,2479.1 992.2,2474.4 992.8,2469.5 993.3,2465.9 993.8,2462.1 994.3,2458.3 994.8,2454.9 995.5,2450.1 996.3,2445.6 996.9,2442.1 997.5,2439.7 998.1,2438.9 998.6,2438.6 999.4,2438.6 1000.2,2439.0 1000.8,2440.5 1001.4,2443.0 1001.9,2445.4 1002.5,2447.8 1003.3,2450.9 1004.1,2453.7 1004.7,2456.0 1005.2,2457.3 1005.8,2456.9 1006.4,2456.3 1007.2,2455.4 1008.0,2454.1 1008.7,2451.1 1009.5,2447.1 1010.3,2443.5 1011.1,2439.3 1011.6,2434.9 1012.2,2429.3 1012.6,2425.7 1013.0,2421.5 1013.4,2415.2 1013.5,2412.6 1013.6,2408.7 1013.7,2403.9 1013.8,2398.4 1013.9,2392.6 1014.0,2386.8 1014.1,2381.2 1014.2,2376.1 1014.3,2371.8 1014.4,2368.0 1014.5,2364.3 1014.5,2360.1 1014.6,2355.1 1014.7,2348.6 1014.8,2346.0 1014.8,2342.8 1014.8,2338.9 1014.9,2334.6 1014.9,2329.9 1014.9,2324.8 1015.0,2319.4 1015.0,2313.7 1015.0,2307.9 1015.0,2302.0 1015.1,2296.0 1015.1,2290.1 1015.1,2284.3 1015.2,2278.6 1015.2,2274.4 1015.2,2270.3 1015.2,2266.2 1015.3,2262.2 1015.3,2258.1 1015.3,2254.0 1015.3,2249.7 1015.4,2245.3 1015.4,2240.7 1015.4,2235.9 1015.4,2230.8 1015.5,2225.3 1015.5,2219.5 1015.5,2213.3 1015.5,2206.6 1015.5,2203.5 1015.5,2199.9 1015.5,2196.0 1015.6,2191.7 1015.6,2187.1 1015.6,2182.1 1015.6,2176.9 1015.6,2171.5 1015.6,2165.9 1015.6,2160.2 1015.6,2154.3 1015.6,2148.4 1015.6,2142.4 1015.7,2136.3 1015.7,2130.4 1015.7,2124.4 1015.7,2118.6 1015.7,2112.8 1015.7,2107.3 1015.7,2101.9 1015.7,2096.8 1015.7,2091.9 1015.7,2087.3 1015.8,2083.1 1015.8,2079.2 1015.8,2075.8 1015.8,2072.8 1015.8,2070.3 1015.8,2062.4 1015.9,2055.0 1015.9,2048.1 1015.9,2041.6 1016.0,2035.6 1016.0,2029.9 1016.0,2024.6 1016.1,2019.7 1016.1,2015.1 1016.1,2010.8 1016.2,2006.7 1016.2,2002.9 1016.2,1999.3 1016.3,1995.9 1016.3,1992.7 1016.3,1989.6 1016.4,1986.6 1016.4,1983.8 1016.5,1976.9 1016.6,1970.8 1016.7,1965.3 1016.8,1960.3 1016.9,1955.7 1016.9,1951.4 1017.0,1947.2 1017.1,1943.1 1017.2,1939.0 1017.3,1934.7 1017.4,1930.1 1017.5,1925.2 1017.6,1920.5 1017.7,1915.8 1017.8,1911.2 1017.8,1906.5 1017.9,1901.9 1018.0,1897.1 1018.1,1892.2 1018.2,1887.2 1018.3,1881.9 1018.4,1877.4 1018.5,1872.1 1018.5,1866.4 1018.6,1860.3 1018.7,1854.1 1018.7,1848.1 1018.8,1842.4 1018.9,1837.3 1019.0,1832.9 1019.0,1829.6 1019.1,1827.4 1019.2,1826.7 1019.4,1828.2 1019.5,1831.8 1019.7,1837.1 1019.9,1842.9 1020.1,1848.7 1020.3,1854.0 1020.4,1858.1 1020.6,1861.9 1020.8,1865.8 1020.9,1870.2 1021.1,1875.5 1021.3,1882.1 1021.3,1884.4 1021.4,1887.1 1021.4,1890.1 1021.5,1893.4 1021.5,1897.0 1021.6,1900.9 1021.6,1905.1 1021.7,1909.6 1021.7,1914.3 1021.7,1919.2 1021.8,1924.4 1021.8,1929.8 1021.9,1935.3 1021.9,1941.1 1022.0,1947.0 1022.0,1953.0 1022.1,1959.2 1022.1,1965.4 1022.2,1971.8 1022.2,1978.3 1022.3,1984.8 1022.3,1988.5 1022.3,1992.5 1022.4,1996.8 1022.4,2001.4 1022.4,2006.2 1022.4,2011.1 1022.5,2016.2 1022.5,2021.4 1022.5,2026.6 1022.5,2031.9 1022.6,2037.2 1022.6,2042.5 1022.6,2047.7 1022.6,2052.8 1022.7,2057.8 1022.7,2062.6 1022.7,2067.2 1022.7,2071.5 1022.8,2077.1 1022.8,2082.6 1022.8,2088.2 1022.9,2093.6 1022.9,2099.0 1022.9,2104.4 1023.0,2109.7 1023.0,2114.9 1023.1,2120.1 1023.1,2125.3 1023.1,2130.4 1023.2,2135.4 1023.2,2140.4 1023.2,2145.3 1023.3,2150.1 1023.3,2154.9 1023.3,2159.6 1023.4,2164.3 1023.4,2168.9 1023.4,2173.4 1023.5,2177.9 1023.5,2182.3 1023.5,2186.6 1023.6,2190.9 1023.6,2195.0 1023.6,2199.2 1023.7,2203.2 1023.7,2207.2 1023.8,2212.7 1023.8,2218.1 1023.9,2223.3 1023.9,2228.5 1024.0,2233.4 1024.0,2238.3 1024.1,2243.1 1024.1,2247.8 1024.2,2252.5 1024.2,2257.0 1024.3,2261.5 1024.3,2266.0 1024.4,2270.5 1024.4,2274.9 1024.4,2279.3 1024.5,2284.6 1024.6,2289.9 1024.6,2295.0 1024.7,2300.1 1024.7,2305.1 1024.8,2310.0 1024.9,2315.0 1024.9,2319.8 1025.0,2324.6 1025.0,2329.4 1025.1,2334.2 1025.2,2339.0 1025.2,2343.8 1025.3,2348.9 1025.4,2354.1 1025.4,2359.3 1025.5,2364.5 1025.5,2369.6 1025.6,2374.6 1025.7,2379.4 1025.7,2384.1 1025.8,2388.7 1025.9,2393.5 1026.0,2398.1 1026.0,2402.6 1026.1,2406.9 1026.2,2411.2 1026.2,2415.6 1026.3,2420.0 1026.4,2424.6 1026.5,2429.4 1026.5,2434.3 1026.6,2439.0 1026.7,2443.5 1026.7,2447.7 1026.8,2451.3 1027.0,2457.9 1027.1,2464.2 1027.2,2469.0 1027.4,2471.0 1027.9,2467.1 1028.5,2461.0 1029.1,2456.9 1029.7,2454.6 1030.5,2455.1 1031.2,2456.6 1032.0,2458.1 1032.8,2459.6 1033.6,2460.9 1034.3,2461.5 1035.1,2460.8 1035.9,2459.0 1036.7,2457.2 1037.5,2455.6 1038.2,2453.9 1039.0,2452.7 1039.8,2452.0 1040.6,2451.3 1041.3,2450.6 1042.2,2449.9 1043.1,2449.3 1044.1,2448.3 1045.0,2445.1 1046.0,2440.4 1047.0,2435.6 1047.9,2430.7 1048.7,2427.2 1049.5,2424.3 1050.3,2422.1 1051.0,2421.1 1052.0,2423.8 1053.0,2428.3 1053.8,2431.8 1054.5,2435.9 1055.3,2440.7 1056.1,2445.6 1056.9,2449.9 1057.6,2453.2 1058.4,2455.0 1059.2,2456.2 1060.0,2457.3 1060.7,2458.3 1061.5,2459.3 1062.3,2459.6 1063.3,2459.4 1064.2,2459.2 1065.2,2458.8 1066.2,2457.8 1067.0,2454.1 1067.7,2447.9 1068.3,2444.3 1068.8,2440.1 1069.3,2434.5 1069.5,2431.4 1069.7,2427.4 1069.9,2422.7 1070.1,2417.6 1070.3,2412.4 1070.5,2407.4 1070.6,2403.2 1070.8,2398.8 1070.9,2394.2 1071.1,2389.7 1071.3,2385.1 1071.4,2380.7 1071.6,2376.5 1071.8,2371.6 1072.0,2366.8 1072.2,2362.1 1072.4,2357.6 1072.6,2353.3 1072.8,2349.3 1073.1,2343.6 1073.4,2338.1 1073.7,2333.4 1073.9,2329.9 1074.5,2325.1 1075.1,2322.1 1075.9,2320.2 1076.5,2322.5 1077.0,2326.9 1077.4,2329.9 1077.8,2333.5 1078.2,2337.9 1078.5,2341.5 1078.7,2345.9 1079.0,2350.8 1079.2,2356.1 1079.5,2361.6 1079.8,2367.2 1080.0,2371.7 1080.2,2376.6 1080.3,2381.7 1080.5,2386.8 1080.7,2391.8 1080.9,2396.6 1081.1,2401.1 1081.3,2405.5 1081.5,2409.8 1081.7,2414.0 1081.9,2418.1 1082.1,2422.0 1082.3,2426.8 1082.6,2431.5 1082.8,2436.1 1083.0,2440.2 1083.3,2443.6 1083.6,2448.4 1084.0,2452.3 1084.4,2455.2 1085.0,2459.0 1085.6,2460.8 1086.2,2457.3 1086.8,2450.8 1087.0,2447.7 1087.3,2444.3 1087.6,2440.2 1087.9,2435.0 1088.0,2432.2 1088.2,2428.7 1088.3,2424.5 1088.4,2419.8 1088.5,2414.8 1088.6,2409.4 1088.7,2404.0 1088.9,2398.6 1089.0,2393.3 1089.1,2388.2 1089.2,2383.7 1089.3,2379.2 1089.4,2374.5 1089.5,2369.8 1089.6,2365.0 1089.7,2360.3 1089.8,2355.6 1089.9,2350.9 1090.0,2346.3 1090.1,2341.9 1090.2,2337.6 1090.4,2332.5 1090.5,2327.4 1090.6,2322.4 1090.8,2317.6 1090.9,2312.8 1091.0,2308.1 1091.2,2303.5 1091.3,2299.1 1091.4,2294.7 1091.6,2289.1 1091.7,2283.4 1091.9,2277.8 1092.1,2272.4 1092.2,2267.5 1092.4,2263.3 1092.6,2259.7 1092.9,2254.7 1093.2,2250.5 1093.5,2247.0 1093.7,2244.3 1094.5,2239.6 1094.8,2241.4 1095.1,2245.7 1095.4,2251.1 1095.7,2256.0 1096.0,2260.4 1096.3,2264.7 1096.6,2269.1 1096.9,2274.1 1097.2,2280.0 1097.4,2284.0 1097.6,2288.8 1097.7,2294.1 1097.9,2299.7 1098.1,2305.3 1098.2,2310.7 1098.4,2315.5 1098.6,2320.9 1098.8,2326.5 1099.0,2331.8 1099.2,2336.7 1099.4,2340.6 1099.6,2343.2 1100.3,2348.4 1101.1,2351.5 1101.7,2353.9 1102.3,2355.0 1102.9,2354.5 1103.4,2353.9 1104.2,2353.8 1105.0,2353.9 1105.6,2357.3 1106.2,2363.6 1106.6,2367.7 1106.9,2372.3 1107.3,2377.2 1107.6,2381.2 1108.0,2385.4 1108.3,2389.7 1108.6,2394.1 1108.9,2398.6 1109.2,2403.0 1109.5,2407.6 1109.8,2412.1 1110.0,2416.1 1110.4,2420.6 1110.8,2424.7 1111.2,2428.4 1111.6,2431.6 1112.4,2437.5 1113.2,2441.4 1113.7,2442.8 1114.3,2443.4 1115.1,2443.5 1115.4,2441.8 1115.7,2437.2 1116.0,2430.9 1116.3,2424.1 1116.4,2420.8 1116.5,2416.9 1116.6,2412.6 1116.8,2407.7 1116.9,2402.5 1117.0,2396.8 1117.1,2393.4 1117.2,2389.8 1117.3,2385.9 1117.3,2381.7 1117.4,2377.4 1117.5,2372.8 1117.5,2368.1 1117.6,2363.2 1117.7,2358.1 1117.8,2352.9 1117.8,2347.5 1117.9,2342.0 1118.0,2336.4 1118.1,2330.7 1118.1,2324.9 1118.2,2319.1 1118.2,2314.9 1118.3,2310.5 1118.3,2305.8 1118.4,2300.9 1118.4,2295.8 1118.5,2290.6 1118.5,2285.3 1118.6,2280.0 1118.6,2274.7 1118.7,2269.4 1118.7,2264.2 1118.8,2259.2 1118.8,2254.3 1118.9,2249.7 1118.9,2245.3 1119.0,2241.3 1119.1,2235.3 1119.1,2229.6 1119.2,2224.0 1119.3,2218.7 1119.4,2213.6 1119.4,2208.6 1119.5,2203.8 1119.6,2199.1 1119.7,2194.5 1119.8,2189.9 1119.8,2185.5 1119.9,2181.1 1120.0,2176.7 1120.1,2172.3 1120.1,2167.8 1120.2,2163.3 1120.3,2158.8 1120.4,2154.1 1120.5,2149.3 1120.5,2144.4 1120.6,2139.6 1120.7,2134.7 1120.7,2129.6 1120.8,2124.4 1120.9,2119.2 1121.0,2113.9 1121.0,2108.6 1121.1,2103.4 1121.2,2098.2 1121.3,2093.2 1121.3,2088.3 1121.4,2083.6 1121.5,2079.0 1121.5,2074.8 1121.6,2070.7 1121.7,2067.1 1121.8,2061.0 1122.0,2055.3 1122.1,2050.0 1122.2,2045.0 1122.3,2040.1 1122.5,2035.5 1122.6,2031.1 1122.7,2026.7 1122.9,2022.4 1123.0,2018.1 1123.1,2013.7 1123.2,2009.2 1123.4,2004.2 1123.5,1999.4 1123.7,1994.7 1123.8,1990.0 1124.0,1985.2 1124.1,1980.4 1124.3,1975.5 1124.4,1970.5 1124.5,1965.9 1124.7,1961.2 1124.8,1956.4 1124.9,1951.6 1125.1,1946.7 1125.2,1941.8 1125.3,1936.8 1125.4,1931.8 1125.6,1926.9 1125.7,1921.9 1125.8,1917.0 1126.0,1912.1 1126.1,1907.3 1126.2,1902.5 1126.4,1897.7 1126.5,1893.0 1126.6,1888.2 1126.7,1883.5 1126.9,1878.7 1127.0,1873.9 1127.1,1869.0 1127.3,1864.0 1127.4,1858.9 1127.5,1853.7 1127.6,1849.4 1127.7,1844.9 1127.8,1840.3 1127.9,1835.5 1128.0,1830.8 1128.2,1826.0 1128.3,1821.1 1128.4,1816.4 1128.5,1811.6 1128.6,1807.0 1128.7,1802.4 1128.8,1797.4 1128.9,1792.3 1129.0,1787.3 1129.1,1782.2 1129.3,1777.2 1129.4,1772.3 1129.5,1767.6 1129.6,1763.0 1129.7,1758.8 1129.8,1754.8 1130.0,1749.4 1130.2,1744.3 1130.3,1739.4 1130.5,1734.8 1130.7,1730.5 1130.8,1726.4 1131.0,1722.6 1131.3,1716.5 1131.5,1710.9 1131.8,1708.4 1132.0,1710.9 1132.3,1716.4 1132.6,1722.5 1132.7,1726.0 1132.9,1729.6 1133.1,1733.4 1133.2,1737.6 1133.4,1742.4 1133.6,1747.9 1133.7,1754.3 1133.8,1756.9 1133.8,1760.0 1133.9,1763.4 1133.9,1767.3 1134.0,1771.5 1134.1,1776.1 1134.1,1781.0 1134.2,1786.1 1134.2,1791.4 1134.3,1797.0 1134.3,1802.7 1134.4,1808.5 1134.4,1814.3 1134.5,1820.3 1134.6,1826.2 1134.6,1832.1 1134.7,1837.9 1134.7,1843.7 1134.8,1849.3 1134.8,1854.7 1134.9,1859.9 1134.9,1864.9 1135.0,1869.9 1135.1,1874.9 1135.1,1880.0 1135.2,1885.2 1135.2,1890.4 1135.3,1895.6 1135.3,1900.8 1135.4,1906.0 1135.4,1911.2 1135.5,1916.4 1135.5,1921.5 1135.6,1926.7 1135.6,1931.7 1135.7,1936.8 1135.7,1941.7 1135.8,1946.6 1135.8,1951.4 1135.9,1956.1 1136.0,1960.7 1136.0,1965.1 1136.1,1969.5 1136.1,1974.9 1136.2,1980.3 1136.3,1985.5 1136.3,1990.6 1136.4,1995.7 1136.5,2000.6 1136.5,2005.5 1136.6,2010.3 1136.7,2015.0 1136.7,2019.7 1136.8,2024.3 1136.9,2029.0 1136.9,2033.5 1137.0,2038.1 1137.1,2042.7 1137.2,2047.3 1137.2,2051.9 1137.3,2057.1 1137.4,2062.4 1137.5,2067.7 1137.5,2072.9 1137.6,2078.1 1137.7,2083.4 1137.8,2088.5 1137.8,2093.6 1137.9,2098.6 1138.0,2103.6 1138.1,2108.4 1138.2,2113.2 1138.2,2117.8 1138.3,2122.2 1138.4,2126.5 1138.5,2132.2 1138.6,2137.8 1138.7,2143.2 1138.8,2148.4 1138.9,2153.5 1139.0,2158.5 1139.1,2163.4 1139.2,2168.1 1139.3,2172.8 1139.4,2177.3 1139.5,2181.8 1139.7,2187.2 1139.8,2192.3 1139.9,2197.3 1140.1,2202.1 1140.2,2206.7 1140.3,2211.2 1140.5,2215.5 1140.6,2219.7 1140.7,2223.6 1140.9,2228.5 1141.0,2233.3 1141.2,2237.9 1141.4,2242.2 1141.5,2246.3 1141.7,2250.0 1141.9,2253.5 1142.2,2259.5 1142.5,2265.5 1142.8,2270.0 1143.0,2271.6 1143.2,2269.9 1143.4,2265.8 1143.6,2260.5 1143.8,2255.4 1144.0,2251.4 1144.2,2247.4 1144.3,2243.0 1144.5,2238.3 1144.7,2233.1 1144.8,2227.3 1145.0,2220.8 1145.1,2217.7 1145.1,2214.2 1145.2,2210.5 1145.3,2206.5 1145.3,2202.2 1145.4,2197.7 1145.5,2192.9 1145.6,2188.0 1145.6,2182.9 1145.7,2177.6 1145.8,2172.2 1145.9,2166.7 1145.9,2161.0 1146.0,2155.3 1146.1,2149.5 1146.1,2143.6 1146.2,2139.5 1146.2,2135.1 1146.3,2130.3 1146.3,2125.4 1146.4,2120.2 1146.4,2115.0 1146.5,2109.6 1146.5,2104.2 1146.6,2098.9 1146.6,2093.6 1146.7,2088.4 1146.7,2083.4 1146.8,2078.7 1146.8,2074.2 1146.9,2070.0 1146.9,2066.3 1147.0,2060.3 1147.1,2054.5 1147.2,2049.0 1147.3,2043.6 1147.3,2038.5 1147.4,2033.6 1147.5,2028.8 1147.6,2024.3 1147.7,2019.9 1147.8,2015.8 1147.8,2011.7 1147.9,2007.9 1148.0,2004.2 1148.1,2000.6 1148.2,1994.3 1148.4,1987.8 1148.5,1981.3 1148.7,1975.3 1148.8,1970.0 1149.0,1965.8 1149.1,1963.1 1149.3,1962.1 1149.4,1963.2 1149.6,1966.0 1149.8,1970.3 1149.9,1975.6 1150.1,1981.4 1150.3,1987.5 1150.4,1993.4 1150.5,1997.2 1150.6,2001.1 1150.7,2005.4 1150.8,2009.8 1150.9,2014.5 1151.1,2019.5 1151.2,2024.7 1151.3,2030.1 1151.4,2035.9 1151.5,2041.8 1151.6,2048.1 1151.6,2051.6 1151.7,2055.4 1151.8,2059.3 1151.8,2063.3 1151.9,2067.5 1151.9,2071.8 1152.0,2076.3 1152.0,2080.9 1152.1,2085.6 1152.2,2090.5 1152.2,2095.4 1152.3,2100.5 1152.3,2105.7 1152.4,2111.0 1152.5,2116.5 1152.5,2122.0 1152.6,2127.6 1152.6,2133.3 1152.7,2139.0 1152.7,2144.9 1152.8,2149.0 1152.8,2153.3 1152.9,2158.0 1152.9,2162.8 1152.9,2167.8 1153.0,2173.0 1153.0,2178.3 1153.1,2183.7 1153.1,2189.1 1153.1,2194.5 1153.2,2199.9 1153.2,2205.3 1153.3,2210.5 1153.3,2215.6 1153.3,2220.6 1153.4,2225.4 1153.4,2229.9 1153.4,2234.1 1153.5,2238.1 1153.5,2241.7 1153.6,2247.9 1153.7,2253.8 1153.7,2259.3 1153.8,2264.4 1153.9,2269.4 1154.0,2274.1 1154.0,2278.6 1154.1,2283.0 1154.2,2287.3 1154.3,2291.6 1154.3,2295.9 1154.4,2300.2 1154.5,2304.7 1154.5,2309.3 1154.6,2314.0 1154.7,2319.0 1154.8,2323.8 1154.8,2328.9 1154.9,2334.2 1154.9,2339.7 1155.0,2345.2 1155.1,2350.6 1155.1,2356.0 1155.2,2361.0 1155.3,2365.8 1155.3,2370.1 1155.4,2373.9 1155.5,2377.1 1155.6,2383.8 1155.8,2389.6 1156.0,2394.7 1156.1,2399.3 1156.3,2403.6 1156.5,2407.8 1156.6,2412.2 1156.8,2418.3 1157.0,2424.7 1157.2,2429.8 1157.4,2431.9 1158.2,2431.9 1159.0,2431.6 1159.7,2431.2 1160.5,2430.2 1161.5,2433.4 1162.5,2438.7 1163.4,2442.3 1164.4,2445.6 1165.4,2448.4 1166.3,2450.3 1167.3,2451.1 1168.3,2451.6 1169.1,2449.1 1169.8,2444.2 1170.4,2440.0 1171.0,2434.8 1171.4,2430.6 1171.8,2425.8 1172.2,2421.4 1172.7,2415.4 1173.3,2411.5 1174.1,2410.0 1174.9,2409.4 1175.7,2409.3 1176.4,2409.2 1177.2,2411.9 1178.0,2416.8 1178.8,2422.0 1179.5,2426.4 1180.1,2428.5 1180.7,2429.9 1181.3,2430.6 1181.9,2431.1 1182.6,2427.8 1183.4,2422.1 1184.2,2416.8 1185.0,2412.4 1185.7,2409.9 1186.5,2408.4 1187.3,2407.8 1188.1,2407.5 1189.0,2409.3 1190.0,2412.8 1190.8,2416.0 1191.6,2419.7 1192.3,2423.6 1193.1,2427.3 1193.9,2430.6 1194.7,2433.0 1195.5,2434.2 1196.2,2434.9 1196.8,2435.0 1197.4,2435.1 1198.2,2433.2 1198.9,2429.5 1199.7,2425.2 1200.5,2419.9 1201.0,2416.3 1201.5,2412.6 1202.0,2408.9 1202.6,2403.9 1203.2,2400.2 1204.2,2398.3 1205.2,2397.2 1206.1,2396.5 1207.1,2395.8 1207.9,2395.0 1208.6,2394.4 1209.4,2393.8 1210.2,2392.5 1210.6,2390.5 1211.0,2386.6 1211.4,2381.3 1211.5,2378.3 1211.7,2374.4 1211.8,2369.6 1212.0,2364.1 1212.1,2358.1 1212.2,2355.0 1212.3,2351.5 1212.4,2347.8 1212.4,2343.8 1212.5,2339.5 1212.6,2334.9 1212.7,2330.1 1212.7,2325.2 1212.8,2320.0 1212.9,2314.7 1212.9,2309.2 1213.0,2303.6 1213.1,2297.9 1213.2,2292.1 1213.2,2286.3 1213.3,2280.4 1213.4,2276.4 1213.4,2272.2 1213.5,2267.8 1213.5,2263.3 1213.6,2258.7 1213.6,2253.9 1213.6,2249.0 1213.7,2244.1 1213.7,2239.1 1213.8,2234.0 1213.8,2228.8 1213.9,2223.6 1213.9,2218.4 1214.0,2213.2 1214.0,2207.9 1214.1,2202.7 1214.1,2198.3 1214.2,2193.8 1214.2,2189.4 1214.3,2185.0 1214.3,2180.6 1214.3,2176.1 1214.4,2171.7 1214.4,2167.2 1214.5,2162.7 1214.5,2158.2 1214.5,2153.7 1214.6,2149.1 1214.6,2144.5 1214.7,2139.8 1214.7,2135.1 1214.7,2130.3 1214.8,2125.5 1214.8,2120.6 1214.9,2115.6 1214.9,2110.6 1215.0,2105.4 1215.0,2100.2 1215.0,2094.9 1215.1,2089.5 1215.1,2084.0 1215.2,2078.4 1215.2,2072.7 1215.2,2066.8 1215.3,2062.8 1215.3,2058.5 1215.3,2054.0 1215.4,2049.4 1215.4,2044.6 1215.4,2039.7 1215.4,2034.6 1215.5,2029.4 1215.5,2024.2 1215.5,2018.8 1215.6,2013.5 1215.6,2008.0 1215.6,2002.6 1215.6,1997.2 1215.7,1991.7 1215.7,1986.3 1215.7,1981.0 1215.7,1975.7 1215.8,1970.6 1215.8,1965.5 1215.8,1960.6 1215.9,1955.8 1215.9,1951.1 1215.9,1946.6 1215.9,1942.4 1216.0,1938.3 1216.0,1934.5 1216.0,1930.9 1216.1,1924.5 1216.1,1918.4 1216.2,1912.6 1216.2,1907.0 1216.3,1901.7 1216.3,1896.6 1216.4,1891.6 1216.4,1886.9 1216.5,1882.2 1216.6,1877.7 1216.6,1873.2 1216.7,1868.8 1216.7,1864.4 1216.8,1860.1 1216.8,1855.7 1216.9,1851.2 1216.9,1846.7 1217.0,1842.1 1217.0,1837.4 1217.1,1832.5 1217.1,1827.4 1217.2,1822.1 1217.2,1817.7 1217.3,1813.0 1217.3,1808.3 1217.4,1803.4 1217.4,1798.4 1217.4,1793.4 1217.5,1788.4 1217.5,1783.3 1217.6,1778.2 1217.6,1773.2 1217.7,1768.2 1217.7,1763.3 1217.8,1758.4 1217.8,1753.7 1217.8,1749.2 1217.9,1744.8 1217.9,1740.6 1218.0,1736.7 1218.0,1730.9 1218.1,1725.3 1218.2,1719.9 1218.2,1714.5 1218.3,1709.3 1218.4,1704.3 1218.4,1699.5 1218.5,1694.8 1218.5,1690.4 1218.6,1686.2 1218.7,1682.2 1218.7,1678.4 1218.9,1671.9 1219.0,1665.1 1219.1,1658.5 1219.2,1652.6 1219.3,1647.8 1219.4,1644.6 1219.5,1643.4 1219.6,1644.7 1219.7,1648.2 1219.9,1653.3 1220.0,1659.5 1220.1,1666.1 1220.2,1672.6 1220.3,1678.4 1220.4,1682.9 1220.5,1687.3 1220.6,1691.6 1220.7,1695.9 1220.8,1700.3 1220.9,1704.8 1221.0,1709.4 1221.1,1714.2 1221.2,1719.3 1221.3,1724.7 1221.4,1730.6 1221.5,1736.8 1221.5,1740.1 1221.6,1743.6 1221.6,1747.3 1221.7,1751.2 1221.7,1755.2 1221.8,1759.3 1221.8,1763.6 1221.8,1768.1 1221.9,1772.6 1221.9,1777.3 1222.0,1782.2 1222.0,1787.1 1222.1,1792.2 1222.1,1797.3 1222.2,1802.6 1222.2,1808.0 1222.3,1813.4 1222.3,1818.9 1222.4,1824.5 1222.4,1830.2 1222.5,1835.9 1222.5,1841.7 1222.6,1847.6 1222.6,1853.4 1222.7,1857.5 1222.7,1861.7 1222.7,1866.1 1222.8,1870.6 1222.8,1875.3 1222.8,1880.1 1222.9,1885.0 1222.9,1890.1 1222.9,1895.1 1222.9,1900.3 1223.0,1905.5 1223.0,1910.7 1223.0,1915.9 1223.1,1921.2 1223.1,1926.4 1223.1,1931.6 1223.2,1936.7 1223.2,1941.8 1223.2,1946.8 1223.3,1951.7 1223.3,1956.5 1223.3,1961.1 1223.4,1965.6 1223.4,1970.0 1223.4,1975.4 1223.5,1980.7 1223.5,1985.9 1223.6,1990.9 1223.6,1995.7 1223.7,2000.5 1223.7,2005.2 1223.7,2009.8 1223.8,2014.4 1223.8,2018.9 1223.9,2023.3 1223.9,2027.7 1223.9,2032.1 1224.0,2036.5 1224.0,2040.9 1224.1,2045.4 1224.1,2049.9 1224.1,2054.4 1224.2,2059.0 1224.2,2063.7 1224.3,2068.5 1224.3,2073.3 1224.4,2078.3 1224.4,2083.5 1224.4,2088.8 1224.5,2094.2 1224.5,2099.8 1224.6,2105.6 1224.6,2109.6 1224.6,2113.9 1224.6,2118.4 1224.7,2123.0 1224.7,2127.9 1224.7,2132.9 1224.8,2138.0 1224.8,2143.2 1224.8,2148.6 1224.8,2154.0 1224.9,2159.4 1224.9,2164.9 1224.9,2170.4 1225.0,2175.9 1225.0,2181.4 1225.0,2186.8 1225.0,2192.1 1225.1,2197.4 1225.1,2202.6 1225.1,2207.6 1225.1,2212.5 1225.2,2217.2 1225.2,2221.8 1225.2,2226.1 1225.3,2230.3 1225.3,2234.1 1225.3,2237.8 1225.3,2241.1 1225.4,2247.6 1225.5,2253.7 1225.5,2259.5 1225.6,2264.9 1225.6,2270.1 1225.7,2275.0 1225.7,2279.7 1225.8,2284.2 1225.9,2288.6 1225.9,2292.9 1226.0,2297.1 1226.0,2301.3 1226.1,2305.4 1226.2,2309.6 1226.2,2313.9 1226.3,2318.3 1226.3,2322.8 1226.4,2327.5 1226.4,2332.5 1226.5,2337.6 1226.6,2342.2 1226.6,2347.1 1226.7,2352.2 1226.7,2357.6 1226.7,2363.0 1226.8,2368.6 1226.8,2374.1 1226.9,2379.6 1226.9,2385.0 1227.0,2390.2 1227.0,2395.2 1227.1,2400.0 1227.1,2404.4 1227.2,2408.3 1227.2,2411.9 1227.3,2414.9 1227.4,2420.8 1227.5,2426.1 1227.6,2430.8 1227.7,2435.1 1227.8,2438.9 1227.9,2442.5 1228.1,2445.8 1228.3,2451.7 1228.4,2457.5 1228.6,2461.8 1228.8,2463.5 1229.2,2461.1 1229.6,2455.8 1230.0,2450.2 1230.3,2446.3 1230.6,2442.0 1230.9,2438.0 1231.2,2434.9 1231.9,2429.2 1232.7,2425.3 1233.5,2422.6 1234.3,2421.2 1235.0,2422.8 1235.8,2426.2 1236.4,2430.2 1237.0,2435.3 1237.4,2439.0 1237.8,2443.1 1238.2,2447.3 1238.5,2451.5 1238.9,2455.8 1239.3,2460.1 1239.7,2464.2 1240.1,2467.5 1240.7,2471.9 1241.4,2475.6 1242.0,2478.8 1243.0,2483.1 1244.0,2486.3 1244.8,2488.2 1245.5,2489.8 1246.3,2491.1 1247.1,2492.3 1247.9,2493.3 1248.6,2493.5 1249.4,2493.1 1250.2,2492.5 1251.0,2492.0 1251.7,2491.1 1252.5,2488.3 1253.3,2484.6 1254.1,2481.0 1254.8,2478.0 1255.6,2476.0 1256.4,2474.7 1257.2,2473.8 1258.0,2473.3 1258.5,2474.4 1259.1,2476.2 1259.7,2477.8 1260.3,2479.0 1260.9,2475.8 1261.4,2469.7 1261.7,2466.8 1262.0,2463.6 1262.3,2459.7 1262.6,2454.7 1262.7,2451.9 1262.8,2448.5 1263.0,2444.4 1263.1,2439.7 1263.2,2434.7 1263.3,2429.5 1263.4,2424.1 1263.5,2418.7 1263.7,2413.5 1263.8,2408.5 1263.9,2404.1 1264.0,2399.7 1264.1,2395.2 1264.2,2390.7 1264.3,2386.2 1264.4,2381.6 1264.5,2377.0 1264.6,2372.3 1264.7,2367.5 1264.8,2362.7 1264.9,2357.8 1265.0,2353.3 1265.1,2348.6 1265.2,2343.8 1265.3,2339.0 1265.4,2334.1 1265.5,2329.1 1265.6,2324.2 1265.7,2319.2 1265.8,2314.2 1265.9,2309.2 1266.0,2304.3 1266.1,2299.4 1266.2,2294.4 1266.3,2289.4 1266.4,2284.2 1266.5,2279.0 1266.6,2273.8 1266.7,2268.7 1266.8,2263.6 1266.9,2258.7 1267.0,2253.9 1267.1,2249.3 1267.2,2245.0 1267.3,2240.9 1267.4,2235.2 1267.6,2229.6 1267.7,2224.3 1267.8,2219.3 1268.0,2214.5 1268.1,2210.1 1268.3,2205.9 1268.4,2202.0 1268.6,2196.7 1268.8,2191.4 1269.0,2187.4 1269.2,2185.8 1269.4,2186.9 1269.7,2190.0 1269.9,2194.5 1270.1,2200.0 1270.4,2206.0 1270.5,2209.5 1270.6,2214.1 1270.7,2219.4 1270.8,2225.1 1270.9,2230.8 1271.0,2236.2 1271.1,2240.9 1271.3,2246.8 1271.5,2252.4 1271.6,2257.8 1271.8,2263.1 1271.9,2268.2 1272.1,2273.1 1272.2,2277.9 1272.4,2282.7 1272.5,2287.3 1272.7,2291.9 1272.8,2296.5 1273.0,2301.1 1273.1,2305.6 1273.3,2310.2 1273.4,2314.7 1273.6,2319.4 1273.7,2324.1 1273.9,2328.9 1274.1,2333.8 1274.2,2338.9 1274.3,2343.7 1274.5,2348.5 1274.6,2353.4 1274.8,2358.3 1274.9,2363.2 1275.1,2368.2 1275.2,2373.2 1275.3,2378.2 1275.5,2383.2 1275.6,2388.3 1275.8,2393.2 1275.9,2398.4 1276.0,2403.8 1276.2,2409.1 1276.3,2414.3 1276.4,2419.2 1276.6,2423.7 1276.7,2427.7 1276.9,2433.1 1277.1,2438.0 1277.3,2442.5 1277.5,2446.8 1277.7,2450.8 1277.9,2454.7 1278.1,2458.5 1278.4,2463.8 1278.7,2469.0 1279.0,2473.9 1279.2,2478.3 1279.5,2482.2 1280.0,2487.0 1280.4,2491.2 1280.9,2494.8 1281.3,2498.1 1281.9,2502.4 1282.5,2506.3 1283.1,2508.5 1283.8,2509.7 1284.5,2510.3 1285.0,2510.1 1285.6,2509.6 1286.3,2506.6 1287.0,2501.5 1287.5,2497.5 1287.9,2492.9 1288.4,2489.1 1289.1,2485.6 1289.8,2482.8 1290.5,2480.2 1291.2,2478.2 1292.0,2476.3 1292.7,2472.8 1292.8,2470.7 1293.0,2467.0 1293.2,2462.3 1293.4,2456.9 1293.6,2451.2 1293.7,2445.8 1293.9,2441.9 1294.0,2437.8 1294.1,2433.6 1294.3,2429.1 1294.4,2424.6 1294.5,2419.9 1294.7,2415.0 1294.8,2410.0 1294.9,2405.9 1295.0,2401.7 1295.1,2397.5 1295.2,2393.1 1295.3,2388.5 1295.4,2383.9 1295.5,2379.0 1295.7,2374.0 1295.8,2368.9 1295.9,2363.5 1295.9,2359.2 1296.0,2354.4 1296.1,2349.3 1296.2,2344.1 1296.3,2338.8 1296.3,2333.7 1296.4,2328.9 1296.5,2324.5 1296.6,2320.7 1296.7,2315.2 1296.8,2310.3 1297.0,2305.8 1297.1,2301.6 1297.2,2297.6 1297.4,2293.6 1297.5,2289.3 1297.6,2284.8 1297.8,2280.0 1297.9,2274.3 1298.0,2268.6 1298.1,2263.5 1298.2,2259.7 1298.4,2257.9 1298.9,2255.9 1299.4,2255.1 1300.0,2255.1 1300.5,2255.3 1300.7,2257.5 1301.0,2262.5 1301.3,2268.6 1301.5,2274.3 1301.8,2280.2 1302.1,2286.7 1302.3,2292.1 1302.6,2294.4 1302.9,2292.5 1303.1,2287.6 1303.4,2281.4 1303.7,2275.4 1303.9,2270.9 1304.1,2266.3 1304.3,2261.4 1304.5,2256.1 1304.7,2250.5 1304.9,2246.7 1305.0,2242.8 1305.1,2238.7 1305.3,2234.4 1305.4,2229.9 1305.5,2225.1 1305.7,2220.1 1305.8,2214.9 1305.9,2210.9 1306.0,2206.4 1306.1,2201.6 1306.2,2196.6 1306.3,2191.7 1306.3,2187.0 1306.4,2182.8 1306.5,2179.3 1306.7,2173.3 1306.9,2167.9 1307.1,2163.1 1307.2,2158.7 1307.4,2154.6 1307.6,2150.8 1307.9,2144.7 1308.1,2138.7 1308.4,2134.1 1308.7,2132.3 1308.9,2134.2 1309.2,2138.8 1309.4,2144.8 1309.7,2150.8 1309.9,2154.6 1310.1,2158.6 1310.2,2163.0 1310.4,2167.8 1310.6,2173.2 1310.8,2179.2 1310.9,2182.4 1310.9,2185.8 1311.0,2189.6 1311.1,2193.7 1311.2,2198.0 1311.3,2202.5 1311.4,2207.3 1311.4,2212.3 1311.5,2217.4 1311.6,2222.8 1311.7,2228.3 1311.8,2233.9 1311.8,2239.7 1311.9,2243.7 1312.0,2248.0 1312.0,2252.6 1312.1,2257.4 1312.1,2262.4 1312.2,2267.5 1312.2,2272.7 1312.3,2277.9 1312.3,2283.2 1312.4,2288.5 1312.4,2293.7 1312.5,2298.8 1312.6,2303.9 1312.6,2308.8 1312.7,2313.8 1312.7,2318.7 1312.8,2323.7 1312.8,2328.7 1312.9,2333.7 1312.9,2338.7 1313.0,2343.6 1313.0,2348.6 1313.1,2353.5 1313.2,2358.4 1313.2,2363.2 1313.3,2368.0 1313.3,2372.9 1313.4,2378.0 1313.4,2383.2 1313.5,2388.5 1313.5,2393.7 1313.6,2398.9 1313.6,2404.0 1313.7,2408.9 1313.8,2413.5 1313.8,2417.9 1313.9,2421.9 1313.9,2425.5 1314.0,2428.7 1314.1,2435.2 1314.2,2440.7 1314.4,2445.6 1314.5,2450.0 1314.6,2454.2 1314.8,2458.5 1314.9,2463.0 1315.0,2468.1 1315.1,2472.6 1315.2,2477.5 1315.3,2482.6 1315.4,2487.7 1315.5,2492.5 1315.7,2496.8 1315.8,2500.4 1316.0,2506.1 1316.2,2510.8 1316.4,2515.0 1316.6,2519.0 1316.8,2523.2 1317.1,2529.0 1317.3,2534.7 1317.5,2537.2 1318.4,2536.0 1319.3,2534.2 1320.2,2532.5 1321.1,2531.8 1321.8,2532.3 1322.5,2533.0 1323.2,2533.7 1324.0,2534.2 1324.9,2534.2 1325.7,2534.0 1326.4,2530.7 1327.1,2524.7 1327.5,2521.3 1327.8,2517.4 1328.2,2513.8 1328.7,2509.5 1329.1,2505.3 1329.6,2501.6 1330.3,2496.4 1331.0,2492.9 1331.7,2491.6 1332.4,2490.8 1333.2,2490.3 1333.9,2490.1 1334.8,2491.0 1335.6,2492.8 1336.5,2494.9 1337.4,2496.5 1338.3,2496.9 1339.2,2497.3 1340.1,2497.6 1341.0,2497.8 1341.9,2501.2 1342.7,2506.5 1343.6,2511.2 1344.5,2516.3 1345.4,2520.3 1346.3,2523.8 1347.0,2526.9 1347.7,2528.9 1348.5,2528.1 1349.4,2526.4 1350.2,2524.8 1350.9,2523.2 1351.6,2521.5 1352.3,2520.7 1353.2,2520.9 1354.1,2521.6 1355.0,2522.2 1355.9,2523.3 1356.6,2525.9 1357.3,2529.7 1358.0,2533.4 1358.7,2537.2 1359.4,2540.9 1360.1,2542.6 1361.0,2541.6 1361.9,2539.6 1362.8,2537.8 1363.7,2535.3 1364.4,2531.8 1365.1,2527.8 1365.8,2524.2 1366.5,2521.7 1367.2,2520.9 1368.0,2520.5 1368.7,2520.2 1369.4,2520.0 1370.3,2522.6 1371.2,2527.2 1372.0,2531.4 1372.9,2535.5 1373.8,2539.0 1374.7,2541.8 1375.6,2544.0 1376.5,2544.9 1377.4,2541.6 1378.3,2535.8 1378.8,2532.2 1379.4,2528.0 1380.0,2522.9 1380.3,2519.6 1380.6,2515.2 1380.9,2510.2 1381.2,2504.7 1381.4,2499.2 1381.7,2494.5 1381.9,2489.3 1382.1,2483.9 1382.3,2479.0 1382.5,2475.2 1383.0,2469.4 1383.4,2464.7 1383.8,2460.7 1384.3,2456.7 1384.8,2452.0 1385.2,2447.8 1385.7,2445.9 1386.2,2448.4 1386.7,2454.0 1387.1,2460.1 1387.5,2464.4 1387.8,2469.0 1388.2,2474.1 1388.6,2479.4 1388.8,2483.4 1389.0,2487.8 1389.3,2492.4 1389.5,2497.0 1389.7,2501.6 1390.0,2505.8 1390.3,2511.2 1390.5,2517.0 1390.8,2522.4 1391.1,2526.6 1391.4,2528.7 1392.1,2530.1 1392.8,2530.6 1393.5,2530.5 1394.2,2530.2 1394.7,2527.5 1395.2,2521.7 1395.7,2515.9 1396.0,2511.8 1396.4,2507.6 1396.7,2503.5 1397.1,2500.1 1397.8,2495.0 1398.5,2491.1 1399.4,2487.1 1400.3,2484.4 1401.1,2483.1 1401.9,2482.1 1402.8,2481.3 1403.7,2480.5 1404.6,2480.7 1405.6,2480.8 1406.3,2480.8 1407.0,2480.7 1407.7,2480.6 1408.4,2480.0 1409.1,2479.4 1409.9,2478.4 1410.7,2475.2 1411.6,2471.0 1412.5,2467.0 1413.4,2464.6 1414.1,2464.4 1414.8,2464.4 1415.5,2464.4 1416.4,2464.8 1417.2,2465.5 1418.0,2466.5 1418.9,2468.8 1419.8,2472.1 1420.7,2475.3 1421.6,2478.5 1422.5,2480.8 1423.4,2482.7 1424.2,2484.7 1425.1,2486.0 1425.6,2484.1 1426.1,2479.5 1426.5,2474.1 1426.8,2470.9 1427.1,2467.1 1427.3,2463.0 1427.6,2458.4 1427.8,2454.6 1428.0,2450.3 1428.2,2445.6 1428.4,2440.8 1428.6,2435.9 1428.8,2431.0 1429.0,2426.3 1429.2,2421.9 1429.4,2417.7 1429.6,2413.5 1429.8,2409.3 1430.0,2404.7 1430.3,2399.7 1430.5,2394.1 1430.6,2390.2 1430.7,2385.9 1430.8,2381.1 1430.9,2376.0 1431.0,2370.7 1431.2,2365.3 1431.3,2359.9 1431.4,2354.6 1431.5,2349.5 1431.6,2344.5 1431.8,2339.6 1431.9,2334.6 1432.0,2329.6 1432.1,2324.7 1432.2,2319.7 1432.3,2314.6 1432.5,2309.6 1432.6,2304.5 1432.7,2299.9 1432.8,2295.2 1432.9,2290.5 1433.0,2285.7 1433.1,2281.0 1433.2,2276.2 1433.3,2271.5 1433.4,2266.8 1433.5,2262.2 1433.7,2257.7 1433.8,2252.5 1433.9,2247.2 1434.0,2241.8 1434.1,2236.5 1434.2,2231.3 1434.4,2226.3 1434.5,2221.8 1434.6,2217.8 1434.7,2214.4 1435.0,2208.0 1435.2,2202.5 1435.5,2197.9 1435.8,2194.2 1436.3,2187.7 1436.8,2184.5 1437.2,2186.2 1437.6,2190.5 1437.9,2196.4 1438.3,2202.8 1438.4,2206.2 1438.6,2210.0 1438.8,2214.3 1439.0,2219.2 1439.2,2224.8 1439.3,2231.1 1439.4,2234.0 1439.5,2237.3 1439.5,2240.9 1439.6,2244.9 1439.7,2249.1 1439.8,2253.7 1439.8,2258.5 1439.9,2263.5 1440.0,2268.7 1440.0,2274.1 1440.1,2279.6 1440.2,2285.2 1440.3,2290.9 1440.3,2296.6 1440.4,2302.4 1440.4,2306.5 1440.5,2310.9 1440.5,2315.6 1440.6,2320.6 1440.6,2325.8 1440.7,2331.0 1440.7,2336.3 1440.8,2341.7 1440.8,2346.9 1440.9,2352.1 1440.9,2357.0 1441.0,2361.7 1441.0,2366.1 1441.1,2370.2 1441.1,2373.8 1441.2,2379.8 1441.3,2385.3 1441.4,2390.4 1441.5,2395.1 1441.6,2399.5 1441.6,2403.8 1441.7,2408.0 1441.8,2412.2 1441.9,2416.5 1442.0,2421.0 1442.1,2425.9 1442.2,2431.1 1442.2,2435.8 1442.3,2441.1 1442.4,2446.7 1442.5,2452.5 1442.5,2458.3 1442.6,2464.0 1442.7,2469.3 1442.7,2474.0 1442.8,2478.0 1442.9,2481.2 1443.1,2488.0 1443.3,2493.2 1443.5,2497.6 1443.7,2501.8 1443.9,2506.4 1444.1,2511.4 1444.3,2517.0 1444.5,2521.6 1444.7,2523.4 1445.0,2521.1 1445.4,2516.2 1445.7,2511.7 1446.3,2506.6 1446.8,2502.8 1447.3,2500.6 1447.9,2499.2 1448.4,2497.9 1448.9,2497.2 1449.6,2499.0 1450.3,2502.3 1451.1,2505.5 1451.8,2509.1 1452.5,2513.0 1453.2,2516.7 1453.9,2520.2 1454.6,2523.0 1455.3,2524.6 1456.0,2526.0 1456.7,2527.4 1457.4,2528.7 1458.2,2529.9 1458.9,2530.9 1459.8,2531.8 1460.8,2532.0 1461.7,2532.1 1462.5,2532.1 1463.4,2532.0 1464.2,2532.0 1465.0,2531.8 1465.8,2531.2 1466.7,2530.5 1467.6,2529.8 1468.6,2529.0 1469.5,2527.8 1470.4,2525.4 1471.3,2522.1 1472.2,2519.1 1473.1,2514.3 1473.3,2511.8 1473.5,2507.9 1473.7,2503.1 1473.9,2497.9 1474.1,2492.8 1474.3,2488.7 1474.5,2484.5 1474.7,2480.1 1474.8,2475.3 1475.0,2470.1 1475.2,2464.2 1475.3,2460.6 1475.4,2456.5 1475.5,2452.0 1475.6,2447.2 1475.7,2442.1 1475.8,2436.9 1475.9,2431.6 1476.0,2426.2 1476.1,2420.9 1476.2,2415.7 1476.3,2410.7 1476.4,2405.8 1476.5,2400.8 1476.6,2395.7 1476.7,2390.6 1476.7,2385.5 1476.8,2380.4 1476.9,2375.5 1477.0,2370.6 1477.1,2365.9 1477.2,2361.5 1477.3,2357.2 1477.5,2351.7 1477.6,2346.3 1477.7,2341.2 1477.9,2336.3 1478.0,2331.5 1478.1,2326.9 1478.3,2322.3 1478.4,2317.9 1478.5,2312.8 1478.7,2307.7 1478.9,2302.7 1479.0,2297.9 1479.2,2293.3 1479.3,2289.2 1479.5,2285.7 1479.7,2280.2 1480.0,2275.4 1480.3,2271.3 1480.5,2267.8 1481.1,2261.1 1481.6,2257.7 1481.9,2259.6 1482.1,2264.3 1482.4,2270.4 1482.7,2276.4 1482.8,2280.1 1483.0,2283.9 1483.2,2288.0 1483.4,2292.5 1483.5,2297.4 1483.7,2303.0 1483.8,2306.5 1483.9,2310.5 1484.0,2315.0 1484.1,2319.8 1484.2,2324.9 1484.3,2330.1 1484.4,2335.5 1484.5,2340.9 1484.6,2346.3 1484.7,2351.5 1484.8,2356.5 1484.9,2361.4 1485.0,2366.3 1485.1,2371.3 1485.2,2376.3 1485.3,2381.2 1485.4,2386.2 1485.5,2391.1 1485.6,2395.9 1485.7,2400.7 1485.8,2405.4 1485.9,2410.0 1486.0,2414.9 1486.1,2419.8 1486.2,2424.5 1486.3,2429.2 1486.4,2433.8 1486.5,2438.4 1486.6,2443.0 1486.7,2447.5 1486.8,2451.9 1486.9,2456.4 1487.0,2461.4 1487.2,2466.4 1487.3,2471.5 1487.4,2476.5 1487.5,2481.4 1487.6,2486.2 1487.7,2490.8 1487.9,2495.2 1488.0,2499.3 1488.1,2504.3 1488.3,2509.1 1488.4,2513.6 1488.6,2518.0 1488.7,2522.1 1488.9,2526.1 1489.0,2530.0 1489.3,2535.8 1489.5,2541.9 1489.7,2547.5 1489.9,2551.7 1490.1,2553.6 1490.8,2555.1 1491.5,2556.0 1492.2,2556.3 1493.0,2556.3 1493.7,2556.3 1494.4,2556.5 1495.3,2557.3 1496.2,2558.8 1497.0,2560.8 1497.9,2562.3 1498.8,2561.5 1499.7,2559.7 1500.6,2556.9 1501.5,2553.3 1502.2,2549.3 1502.9,2544.4 1503.6,2539.5 1504.3,2534.9 1505.0,2530.5 1505.7,2527.3 1506.4,2525.6 1507.2,2524.4 1507.9,2523.4 1508.8,2522.2 1509.6,2521.6 1510.5,2522.8 1511.4,2524.9 1512.1,2526.4 1512.8,2528.1 1513.7,2531.1 1514.6,2534.6 1515.5,2537.8 1516.4,2541.4 1517.1,2544.3 1517.8,2547.1 1518.5,2549.6 1519.4,2552.2 1520.2,2554.2 1521.0,2555.8 1521.8,2557.4 1522.7,2558.7 1523.5,2559.9 1524.4,2561.6 1525.4,2563.4 1526.3,2565.0 1527.0,2566.3 1527.8,2567.6 1528.5,2568.3 1529.2,2568.9 1529.9,2569.4 1530.6,2569.7 1531.5,2569.3 1532.5,2567.9 1533.4,2566.2 1534.4,2564.6 1535.3,2562.9 1536.3,2561.0 1537.0,2558.9 1537.7,2555.8 1538.4,2552.6 1539.1,2549.3 1539.8,2545.8 1540.5,2542.1 1541.4,2537.4 1542.3,2532.9 1543.2,2528.7 1544.1,2525.5 1544.8,2524.1 1545.5,2523.1 1546.2,2522.3 1546.9,2521.8 1547.8,2523.8 1548.7,2529.0 1549.6,2534.2 1550.5,2539.7 1551.2,2543.7 1551.9,2547.4 1552.6,2550.0 1553.3,2552.6 1554.0,2555.2 1554.7,2557.4 1555.6,2559.4 1556.4,2561.5 1557.2,2563.3 1558.2,2565.2 1559.1,2566.9 1560.1,2567.7 1560.9,2567.8 1561.7,2567.8 1562.6,2567.7 1563.5,2567.6 1564.5,2567.4 1565.4,2567.2 1566.2,2566.8 1567.0,2566.2 1567.8,2565.5 1568.6,2565.4 1569.4,2565.4 1570.2,2565.4 1571.0,2565.5 1571.8,2565.7 1572.7,2564.5 1573.7,2563.4 1574.6,2562.3 1575.4,2561.4 1576.2,2561.2 1577.0,2561.4 1577.8,2561.6 1578.7,2561.3 1579.5,2560.6 1580.3,2559.8 1581.3,2558.9 1582.2,2558.1 1583.2,2557.6 1584.1,2557.3 1585.0,2557.0 1586.0,2557.0 1586.8,2557.0 1587.7,2557.1 1588.5,2557.2 1589.3,2558.2 1590.1,2560.3 1591.0,2562.4 1591.7,2564.2 1592.4,2565.8 1593.1,2567.1 1593.9,2568.4 1594.8,2569.5 1595.6,2570.5 1596.4,2571.6 1597.2,2572.5 1598.1,2572.9 1598.8,2571.4 1599.5,2568.1 1600.2,2564.9 1601.0,2561.5 1601.9,2558.1 1602.7,2555.0 1603.5,2552.6 1604.3,2550.6 1605.2,2548.6 1605.9,2546.8 1606.6,2545.0 1607.3,2542.3 1607.7,2539.1 1608.2,2534.3 1608.6,2528.6 1609.1,2523.1 1609.4,2518.9 1609.8,2514.7 1610.1,2510.3 1610.5,2505.5 1610.9,2500.2 1611.1,2496.2 1611.3,2491.7 1611.6,2486.9 1611.8,2481.8 1612.0,2476.8 1612.3,2471.9 1612.5,2467.3 1612.7,2462.2 1612.9,2457.3 1613.1,2453.2 1613.3,2450.6 1614.0,2446.0 1614.8,2443.4 1615.3,2442.2 1615.8,2441.6 1616.5,2445.2 1617.2,2451.5 1617.7,2455.5 1618.2,2459.9 1618.7,2465.3 1618.9,2468.9 1619.2,2473.1 1619.4,2477.9 1619.7,2482.9 1619.9,2487.9 1620.2,2492.7 1620.4,2497.1 1620.7,2502.2 1621.0,2507.4 1621.3,2512.6 1621.6,2517.4 1621.9,2521.5 1622.2,2524.6 1622.8,2528.8 1623.4,2531.9 1624.0,2534.5 1624.9,2538.4 1625.8,2540.5 1626.7,2540.4 1627.7,2539.9 1628.6,2538.7 1629.4,2537.4 1630.3,2535.8 1631.1,2533.9 1631.9,2531.4 1632.8,2528.1 1633.6,2524.6 1634.3,2521.5 1635.0,2518.0 1635.7,2513.5 1636.1,2510.2 1636.4,2506.1 1636.8,2501.3 1637.1,2496.5 1637.5,2491.9 1637.8,2487.4 1638.2,2482.7 1638.6,2478.1 1638.9,2473.9 1639.3,2470.3 1640.0,2464.5 1640.7,2460.7 1641.4,2458.1 1642.1,2457.0 1642.8,2460.9 1643.5,2467.5 1644.1,2471.9 1644.7,2476.5 1645.3,2481.9 1645.6,2485.4 1645.9,2489.6 1646.2,2494.2 1646.5,2498.9 1646.8,2503.6 1647.1,2507.9 1647.4,2512.7 1647.8,2517.7 1648.1,2522.5 1648.5,2527.0 1648.8,2530.8 1649.4,2536.1 1650.0,2540.7 1650.6,2544.5 1651.5,2549.7 1652.4,2552.3 1653.2,2551.7 1654.1,2550.4 1654.9,2549.0 1655.6,2547.7 1656.3,2546.5 1657.0,2545.5 1657.9,2543.8 1658.8,2542.4 1659.7,2541.6 1660.6,2540.6 1661.3,2540.7 1662.0,2541.6 1662.7,2542.4 1663.4,2543.5 1664.1,2544.8 1664.8,2545.4 1665.8,2544.9 1666.7,2543.9 1667.7,2542.9 1668.5,2542.4 1669.3,2541.9 1670.2,2541.7 1671.0,2542.2 1671.9,2543.2 1672.8,2544.0 1673.7,2545.3 1674.6,2549.2 1675.5,2554.2 1676.4,2558.8 1677.3,2561.4 1677.7,2559.8 1678.1,2555.8 1678.6,2550.6 1679.0,2545.6 1679.4,2541.9 1679.7,2537.9 1680.1,2533.5 1680.5,2528.8 1680.8,2523.9 1681.1,2519.5 1681.4,2514.7 1681.7,2509.7 1681.9,2504.8 1682.2,2500.2 1682.6,2494.3 1682.9,2488.3 1683.3,2483.2 1683.7,2480.0 1684.4,2477.3 1685.1,2475.9 1685.6,2475.2 1686.1,2474.9 1686.6,2477.5 1687.1,2483.2 1687.6,2489.3 1687.9,2493.9 1688.3,2499.0 1688.6,2504.2 1689.0,2509.4 1689.3,2514.5 1689.7,2519.7 1690.0,2524.8 1690.4,2529.7 1690.8,2534.3 1691.2,2540.3 1691.6,2546.5 1692.1,2551.3 1692.5,2553.3 1693.2,2553.1 1693.9,2552.4 1694.7,2551.5 1695.4,2550.4 1696.1,2548.6 1696.8,2546.1 1697.5,2542.2 1698.2,2536.9 1698.9,2531.5 1699.6,2526.0 1700.3,2520.7 1701.1,2516.5 1701.9,2512.7 1702.8,2509.9 1703.7,2507.8 1704.6,2506.5 1705.5,2508.3 1706.4,2511.8 1707.3,2515.5 1708.2,2520.0 1708.7,2523.6 1709.3,2527.8 1709.9,2532.0 1710.5,2536.0 1711.1,2540.0 1711.7,2543.3 1712.4,2547.2 1713.1,2550.6 1713.8,2553.5 1714.7,2556.7 1715.5,2559.4 1716.3,2561.1 1717.1,2562.0 1718.0,2562.7 1718.8,2563.1 1719.8,2563.5 1720.7,2564.3 1721.6,2564.9 1722.6,2565.0 1723.5,2564.4 1724.5,2563.3 1725.3,2562.2 1726.1,2561.1 1727.0,2559.8 1727.8,2558.1 1728.6,2556.4 1729.5,2554.7 1730.4,2553.1 1731.4,2551.5 1732.3,2548.9 1732.9,2545.3 1733.5,2539.8 1734.1,2534.0 1734.5,2529.6 1735.0,2524.7 1735.4,2519.9 1735.9,2515.7 1736.4,2511.2 1737.0,2507.1 1737.6,2504.0 1738.4,2500.7 1739.2,2498.1 1740.0,2497.0 1740.6,2496.9 1741.3,2497.2 1742.1,2498.0 1742.6,2500.4 1743.0,2505.1 1743.4,2510.8 1743.8,2516.4 1744.2,2521.4 1744.5,2527.2 1744.8,2532.0 1745.1,2534.1 1745.8,2534.5 1746.4,2534.8 1747.0,2534.5 1747.7,2533.4 1748.1,2531.2 1748.5,2527.1 1748.9,2522.1 1749.4,2516.8 1749.7,2512.5 1750.0,2507.4 1750.3,2502.4 1750.7,2498.0 1751.1,2493.2 1751.5,2488.7 1751.9,2484.6 1752.4,2480.9 1753.2,2474.2 1754.1,2470.4 1754.5,2471.9 1754.9,2476.1 1755.3,2481.6 1755.8,2487.3 1756.0,2491.2 1756.3,2495.9 1756.5,2500.7 1756.8,2505.3 1757.0,2509.2 1757.5,2514.5 1757.9,2519.1 1758.3,2523.2 1758.7,2527.1 1759.3,2532.4 1759.9,2537.3 1760.5,2540.5 1761.3,2543.2 1762.2,2545.0 1762.8,2546.5 1763.4,2547.4 1764.1,2546.8 1764.9,2545.7 1765.6,2544.5 1766.3,2543.5 1767.0,2542.4 1767.7,2541.5 1768.7,2541.5 1769.7,2541.5 1770.7,2541.6 1771.5,2541.7 1772.4,2541.5 1773.2,2541.2 1773.9,2541.2 1774.7,2541.4 1775.4,2541.5 1776.1,2541.5 1776.8,2541.5 1777.5,2541.6 1778.2,2541.9 1778.9,2542.5 1779.6,2543.0 1780.3,2543.3 1781.1,2543.5 1781.8,2543.5 1782.5,2543.2 1783.2,2542.9 1783.9,2542.7 1784.6,2542.8 1785.3,2542.7 1786.0,2542.4 1786.6,2540.5 1787.2,2536.5 1787.7,2532.1 1788.3,2527.3 1788.9,2522.0 1789.4,2517.0 1790.0,2512.7 1790.6,2508.7 1791.1,2504.9 1792.0,2499.5 1792.8,2496.5 1793.5,2496.1 1794.1,2496.1 1794.8,2496.4 1795.4,2496.9 1796.2,2500.1 1797.1,2505.0 1797.7,2508.1 1798.2,2511.5 1798.8,2514.8 1799.5,2518.8 1800.2,2523.0 1800.9,2526.9 1801.6,2530.8 1802.4,2534.4 1803.1,2537.4 1803.8,2539.7 1804.5,2541.6 1805.2,2543.3 1805.9,2544.8 1806.6,2546.1 1807.3,2546.9 1808.2,2547.9 1809.0,2549.1 1809.9,2550.1 1810.7,2551.0 1811.6,2551.8 1812.4,2551.5 1813.2,2550.6 1813.9,2549.3 1814.6,2547.8 1815.3,2546.2 1816.0,2544.6 1816.7,2543.3 1817.4,2541.3 1818.1,2538.4 1818.8,2535.4 1819.5,2532.4 1820.3,2528.8 1821.0,2523.9 1821.3,2520.7 1821.6,2516.7 1822.0,2512.1 1822.3,2507.2 1822.7,2502.4 1823.0,2498.4 1823.2,2494.2 1823.5,2489.9 1823.8,2485.4 1824.1,2481.0 1824.4,2476.6 1824.7,2471.6 1825.0,2466.4 1825.3,2461.4 1825.7,2457.1 1826.1,2451.7 1826.5,2446.8 1826.9,2444.0 1827.6,2442.3 1828.2,2441.6 1828.8,2441.5 1829.5,2441.3 1830.1,2444.0 1830.8,2448.8 1831.4,2453.0 1832.0,2458.0 1832.5,2462.1 1832.9,2466.8 1833.3,2471.6 1833.7,2476.2 1834.2,2480.8 1834.6,2485.6 1835.0,2489.7 1835.5,2492.6 1836.3,2495.8 1837.2,2497.3 1838.0,2498.0 1838.9,2498.1 1839.5,2494.4 1840.1,2488.2 1840.6,2484.4 1841.0,2480.2 1841.4,2475.2 1841.7,2471.4 1841.9,2466.9 1842.2,2462.1 1842.4,2457.1 1842.7,2452.4 1843.0,2447.4 1843.2,2442.1 1843.5,2437.0 1843.7,2432.6 1844.0,2429.5 1844.6,2424.8 1845.3,2422.2 1845.9,2420.9 1846.5,2420.4 1847.2,2423.3 1847.8,2428.3 1848.2,2431.3 1848.7,2434.6 1849.1,2438.7 1849.3,2442.3 1849.6,2446.8 1849.9,2451.8 1850.1,2457.0 1850.4,2461.9 1850.6,2466.6 1850.9,2471.4 1851.1,2476.2 1851.4,2480.8 1851.6,2485.1 1851.9,2489.7 1852.2,2494.2 1852.5,2498.5 1852.8,2502.7 1853.1,2506.8 1853.4,2510.7 1853.7,2515.6 1854.0,2520.7 1854.4,2525.4 1854.7,2529.4 1855.1,2532.1 1855.8,2535.5 1856.5,2537.6 1857.2,2539.2 1857.9,2540.5 1858.6,2541.6 1859.3,2542.5 1860.2,2543.6 1861.0,2544.9 1861.9,2545.8 1862.7,2546.6 1863.6,2547.3 1864.4,2547.3 1865.4,2546.7 1866.4,2545.5 1867.4,2544.2 1868.3,2543.3 1869.1,2542.4 1870.0,2541.0 1870.7,2539.0 1871.4,2536.1 1872.1,2532.9 1872.7,2529.7 1873.2,2526.1 1873.8,2522.7 1874.4,2519.3 1875.1,2516.3 1875.7,2513.3 1876.4,2511.6 1877.0,2511.3 1877.6,2511.3 1878.3,2511.6 1878.9,2511.9 1879.8,2515.6 1880.6,2521.1 1881.2,2524.6 1881.8,2528.4 1882.3,2532.0 1882.9,2535.4 1883.5,2538.6 1884.0,2541.8 1884.9,2546.3 1885.7,2550.3 1886.6,2554.1 1887.4,2557.5 1888.3,2560.8 1889.1,2562.4 1890.0,2562.2 1890.9,2561.9 1891.7,2561.6 1892.6,2562.0 1893.5,2562.4 1894.5,2562.8 1895.5,2563.1 1896.2,2562.5 1897.0,2561.1 1897.7,2559.7 1898.4,2558.3 1899.1,2556.8 1899.8,2555.7 1900.7,2555.0 1901.5,2554.5 1902.4,2554.1 1903.2,2553.6 1904.2,2553.1 1905.2,2552.7 1906.2,2552.2 1906.9,2551.8 1907.6,2551.3 1908.3,2551.1 1909.0,2551.0 1909.7,2551.0 1910.5,2551.1 1911.3,2551.7 1912.2,2552.2 1913.0,2552.5 1913.9,2552.7 1914.9,2552.7 1915.8,2552.8 1916.8,2553.1 1917.8,2553.2 1918.8,2552.9 1919.8,2552.6 1920.7,2552.0 1921.5,2551.4 1922.4,2550.7 1923.2,2550.1 1924.2,2549.6 1925.2,2549.3 1926.1,2548.9 1927.1,2548.5 1928.0,2548.2 1929.0,2548.0 1929.9,2547.7 1930.9,2547.1 1931.8,2545.9 1932.6,2543.5 1933.5,2540.8 1934.3,2537.9 1935.2,2534.7 1936.0,2531.9 1936.7,2530.1 1937.4,2528.4 1938.2,2526.7 1938.9,2525.0 1939.6,2523.3 1940.3,2521.3 1941.1,2518.1 1942.0,2514.3 1942.8,2510.8 1943.7,2507.0 1944.3,2503.5 1944.8,2499.7 1945.4,2495.8 1946.0,2492.0 1946.5,2488.3 1947.1,2484.6 1948.0,2479.5 1948.8,2474.7 1949.7,2470.0 1950.5,2466.5 1951.4,2465.0 1952.2,2464.1 1953.1,2463.5 1953.9,2463.3 1954.8,2463.5 1955.6,2463.8 1956.5,2463.8 1957.3,2463.9 1958.0,2464.7 1958.6,2465.8 1959.2,2467.0 1959.9,2467.8 1960.5,2465.7 1961.2,2462.0 1961.8,2458.9 1962.4,2456.2 1963.3,2454.2 1964.1,2452.5 1964.8,2451.0 1965.4,2450.1 1966.3,2451.7 1967.1,2454.9 1967.8,2458.0 1968.4,2462.6 1968.7,2466.1 1969.0,2470.5 1969.4,2475.3 1969.7,2480.0 1970.0,2484.4 1970.3,2488.8 1970.6,2493.1 1971.0,2497.3 1971.3,2501.7 1971.6,2505.9 1972.0,2510.1 1972.3,2514.1 1972.7,2518.0 1973.1,2522.9 1973.5,2527.6 1973.9,2532.1 1974.4,2536.1 1974.9,2540.5 1975.5,2544.5 1976.1,2548.0 1976.9,2552.8 1977.8,2556.6 1978.6,2559.1 1979.5,2561.1 1980.1,2563.0 1980.8,2564.6 1981.5,2565.4 1982.2,2565.9 1982.9,2566.4 1983.6,2566.9 1984.3,2567.3 1985.0,2567.8 1986.0,2569.5 1987.0,2571.9 1988.0,2574.0 1988.9,2575.0 1989.7,2575.9 1990.6,2576.6 1991.4,2577.3 1992.3,2578.1 1993.1,2579.1 1994.0,2580.0 1994.8,2580.8 1995.8,2581.8 1996.8,2582.3 1997.8,2582.6 1998.8,2582.6 1999.8,2582.6 2000.8,2582.7 2001.6,2582.7 2002.5,2582.6 2003.3,2582.6 2004.2,2582.6 2005.1,2582.7 2005.9,2582.8 2006.8,2582.9 2007.6,2582.9 2008.5,2582.5 2009.3,2582.1 2010.2,2581.6 2011.0,2581.0 2011.9,2580.6 2012.7,2580.9 2013.6,2581.3 2014.4,2581.5 2015.3,2581.8 2016.1,2581.5 2017.0,2580.7 2017.8,2580.2 2018.7,2580.6 2019.5,2582.0 2020.4,2583.7 2021.4,2585.6 2022.4,2587.4 2023.4,2588.5 2024.2,2587.5 2025.1,2585.3 2025.7,2583.6 2026.4,2581.9 2027.2,2579.9 2028.1,2578.5 2028.9,2577.7 2029.8,2577.4 2030.6,2578.0 2031.5,2578.9 2032.3,2579.9 2033.2,2580.7 2034.2,2581.5 2035.2,2582.4 2036.2,2583.4 2037.2,2584.5 2038.1,2586.0 2039.1,2587.2 2040.0,2588.1 2040.8,2589.1 2041.7,2590.1 2042.6,2590.9 2043.4,2591.7 2044.3,2592.3 2045.1,2592.6 2046.0,2592.9 2046.8,2593.2 2047.7,2593.5 2048.5,2594.0 2049.4,2594.4 2050.2,2594.8 2051.1,2595.2 2052.0,2595.7 2053.0,2596.2 2054.0,2596.6 2054.9,2597.1 2055.9,2597.6 2056.8,2598.5 2057.8,2599.3 2058.7,2599.8 2059.6,2599.7 2060.4,2599.2 2061.3,2598.4 2062.2,2597.7 2063.1,2596.9 2064.1,2596.2 2065.0,2595.6 2066.0,2594.8 2067.0,2593.6 2068.0,2592.0 2069.0,2589.9 2069.8,2588.0 2070.7,2585.9 2071.5,2584.0 2072.4,2582.4 2073.2,2581.0 2074.1,2579.5 2074.9,2577.8 2075.8,2576.1 2076.6,2575.1 2077.5,2574.8 2078.3,2574.6 2079.2,2574.4 2080.1,2574.1 2081.0,2573.7 2082.0,2573.3 2083.0,2572.8 2083.7,2572.1 2084.5,2571.3 2085.2,2570.6 2085.9,2569.9 2086.6,2569.3 2087.3,2568.9 2088.0,2568.7 2088.7,2568.5 2089.4,2568.5 2090.1,2568.7 2090.8,2568.8 2091.6,2569.0 2092.4,2571.3 2093.3,2575.1 2094.1,2578.5 2095.0,2581.2 2095.7,2582.5 2096.4,2584.0 2097.1,2585.5 2097.9,2587.7 2098.8,2589.4 2099.5,2590.1 2100.2,2590.7 2100.9,2591.2 2101.6,2591.5 2102.4,2591.9 2103.1,2592.1 2103.9,2591.9 2104.8,2590.9 2105.6,2589.9 2106.6,2588.9 2107.6,2587.8 2108.6,2586.8 2109.3,2585.2 2110.0,2582.6 2110.7,2580.0 2111.6,2577.3 2112.4,2574.2 2113.3,2571.5 2114.1,2569.2 2115.0,2567.4 2115.7,2566.2 2116.4,2565.8 2117.1,2565.7 2118.0,2566.1 2118.8,2566.5 2119.5,2567.1 2120.1,2567.5 2121.0,2569.3 2121.8,2572.2 2122.7,2574.7 2123.5,2577.3 2124.4,2579.9 2125.2,2582.4 2126.1,2584.8 2126.9,2587.3 2127.8,2589.7 2128.6,2590.7 2129.5,2590.7 2130.3,2590.6 2131.2,2590.3 2132.2,2590.2 2133.2,2590.5 2134.2,2590.9 2135.2,2590.7 2136.2,2589.8 2137.2,2588.5 2138.0,2587.6 2138.9,2586.7 2139.7,2585.5 2140.6,2584.3 2141.4,2581.3 2142.3,2577.3 2143.1,2573.3 2144.0,2569.7 2144.8,2567.1 2145.7,2565.1 2146.5,2563.5 2147.4,2562.5 2148.2,2564.1 2149.1,2567.0 2149.8,2569.1 2150.5,2571.4 2151.2,2573.7 2151.9,2576.2 2152.6,2578.5 2153.3,2580.7 2154.1,2582.8 2154.8,2584.9 2155.5,2586.6 2156.2,2588.2 2156.9,2589.8 2157.6,2591.3 2158.3,2592.8 2159.0,2594.2 2159.7,2595.3 2160.7,2596.5 2161.7,2597.6 2162.7,2598.5 2163.6,2599.3 2164.4,2599.2 2165.3,2598.9 2166.1,2598.3 2167.0,2597.5 2167.8,2596.7 2168.7,2596.5 2169.5,2596.2 2170.5,2595.7 2171.5,2595.2 2172.5,2595.3 2173.2,2596.0 2173.9,2597.2 2174.7,2598.4 2175.4,2599.6 2176.1,2600.7 2176.8,2601.1 2177.8,2601.1 2178.8,2601.0 2179.8,2600.9 2180.6,2600.5 2181.5,2600.0 2182.3,2599.3 2183.2,2597.3 2184.0,2594.7 2184.7,2592.7 2185.3,2591.6 2186.0,2591.8 2186.7,2591.9 2187.4,2592.1 2188.1,2592.2 2188.9,2592.3 2189.6,2592.5 2190.3,2593.3 2191.0,2594.8 2191.7,2596.3 2192.4,2597.5 2193.1,2598.7 2193.8,2599.8 2194.8,2600.9 2195.8,2601.9 2196.8,2603.0 2197.7,2603.9 2198.5,2604.8 2199.4,2605.6 2200.2,2606.0 2201.1,2606.0 2201.9,2606.0 2202.8,2606.0 2203.6,2605.9 2204.6,2606.7 2205.6,2607.5 2206.6,2608.1 2207.6,2608.1 2208.6,2607.6 2209.6,2607.0 2210.4,2606.5 2211.3,2606.1 2212.2,2605.8 2213.0,2605.6 2213.9,2605.6 2214.7,2605.6 2215.6,2605.7 2216.4,2606.1 2217.3,2606.7 2218.1,2607.3 2219.0,2607.9 2219.8,2608.4 2220.7,2608.3 2221.7,2608.0 2222.7,2607.7 2223.7,2607.4 2224.7,2606.6 2225.6,2605.2 2226.6,2603.8 2227.5,2602.6 2228.3,2601.8 2229.2,2601.3 2230.0,2601.4 2230.9,2601.7 2231.8,2602.2 2232.6,2601.6 2233.5,2601.1 2234.5,2600.6 2235.4,2600.2 2236.4,2600.7 2237.4,2602.1 2238.4,2603.8 2239.4,2605.4 2240.3,2606.4 2241.1,2607.1 2242.0,2607.6 2242.8,2607.7 2243.7,2607.5 2244.5,2606.9 2245.4,2606.3 2246.2,2605.7 2247.2,2605.1 2248.2,2604.6 2249.2,2604.1 2250.2,2603.5 2251.2,2602.6 2252.2,2601.6 2253.1,2600.8 2253.9,2599.9 2254.8,2599.1 2255.6,2598.3 2256.5,2598.1 2257.3,2598.1 2258.2,2598.0 2259.0,2597.9 2260.0,2597.5 2261.0,2596.2 2262.0,2594.9 2263.0,2593.3 2264.0,2591.9 2265.0,2591.4 2265.8,2590.7 2266.7,2590.0 2267.5,2590.0 2268.3,2589.9 2269.0,2589.7 2269.7,2589.5 2270.4,2589.2 2271.1,2589.0 2271.8,2589.0 2272.7,2591.3 2273.5,2594.1 2274.4,2596.6 2275.2,2598.2 2276.1,2596.2 2276.9,2592.5 2277.6,2590.2 2278.3,2588.1 2279.1,2586.3 2279.8,2584.9 2280.5,2584.6 2281.2,2584.6 2281.9,2584.6 2282.6,2584.7 2283.3,2585.0 2284.0,2585.5 2284.7,2586.2 2285.4,2586.8 2286.2,2587.4 2286.9,2588.0 2287.6,2588.6" fill="none" stroke="#000" stroke-width="4.4" stroke-linejoin="bevel" stroke-linecap="round" shape-rendering="crispEdges"/>
<polyline points="507.0,3911.7 508.0,3912.2 509.0,3912.4 509.9,3911.6 510.9,3911.9 511.8,3912.8 512.8,3912.3 513.8,3912.0 514.7,3912.1 515.7,3912.7 516.6,3913.6 517.6,3912.9 518.6,3912.4 519.6,3912.3 520.6,3912.5 521.6,3912.8 522.6,3913.0 523.5,3912.8 524.5,3912.3 525.5,3912.5 526.5,3912.5 527.5,3911.8 528.5,3911.7 529.5,3911.9 530.4,3911.8 531.4,3911.6 532.4,3911.2 533.4,3911.0 534.4,3910.9 535.4,3910.8 536.4,3911.0 537.3,3911.6 538.3,3911.6 539.3,3911.6 540.3,3911.5 541.3,3911.5 542.3,3911.7 543.3,3911.0 544.3,3910.8 545.2,3911.3 546.2,3911.5 547.2,3911.6 548.2,3911.8 549.2,3911.5 550.2,3910.8 551.2,3910.9 552.1,3910.7 553.1,3910.0 554.1,3910.2 555.1,3910.7 556.1,3910.0 557.1,3909.7 558.1,3910.0 559.0,3910.9 560.0,3911.4 561.0,3909.9 562.0,3910.0 563.0,3911.2 564.0,3911.0 565.0,3910.7 566.0,3910.4 566.9,3910.4 567.9,3910.7 568.9,3910.6 569.9,3910.6 570.9,3910.8 571.9,3910.3 572.9,3909.7 573.8,3909.5 574.8,3909.4 575.8,3909.3 576.8,3909.0 577.8,3909.0 578.8,3909.3 579.7,3909.1 580.6,3908.8 581.4,3909.3 582.3,3909.7 583.2,3908.5 584.1,3907.7 585.0,3907.9 585.9,3908.0 586.8,3908.0 587.7,3907.6 588.5,3907.1 589.4,3908.4 590.3,3909.6 591.2,3907.8 592.1,3906.7 593.0,3907.4 593.9,3907.5 594.8,3907.0 595.6,3907.0 596.5,3907.3 597.4,3905.6 598.3,3903.8 599.2,3904.3 600.1,3904.3 601.0,3902.9 602.0,3901.9 602.9,3901.5 603.8,3900.8 604.6,3900.0 605.4,3900.2 606.2,3901.2 607.1,3901.7 607.9,3902.3 608.6,3903.8 609.3,3905.4 610.0,3906.3 610.9,3906.7 611.7,3907.4 612.6,3908.0 613.4,3906.7 614.3,3905.4 615.2,3907.0 616.1,3908.2 617.0,3908.1 617.8,3907.7 618.7,3907.2 619.6,3907.1 620.5,3907.3 621.4,3907.0 622.3,3906.6 623.2,3907.3 624.1,3907.7 624.9,3907.1 625.8,3906.6 626.7,3906.3 627.6,3906.2 628.5,3906.1 629.4,3906.0 630.3,3905.9 631.2,3905.9 632.0,3905.7 633.0,3905.3 634.0,3905.9 635.0,3907.0 636.0,3905.4 637.0,3903.9 638.0,3903.1 639.0,3903.9 639.9,3905.2 640.9,3905.1 641.9,3905.1 642.9,3905.3 643.9,3905.0 644.9,3904.8 645.9,3904.7 646.8,3904.8 647.8,3904.9 648.8,3905.1 649.8,3904.9 650.8,3904.2 651.8,3904.0 652.8,3904.0 653.7,3904.9 654.7,3904.9 655.7,3904.2 656.7,3903.4 657.7,3903.2 658.7,3904.5 659.7,3904.5 660.7,3903.8 661.6,3903.1 662.6,3902.5 663.6,3902.2 664.6,3902.6 665.6,3903.0 666.6,3902.4 667.6,3902.1 668.5,3901.9 669.5,3901.8 670.5,3901.7 671.5,3902.0 672.5,3902.5 673.5,3903.2 674.5,3902.5 675.4,3901.9 676.4,3901.4 677.4,3902.1 678.4,3902.8 679.4,3902.5 680.4,3902.6 681.4,3902.9 682.4,3903.1 683.3,3903.0 684.3,3902.4 685.3,3902.2 686.2,3902.2 687.1,3902.2 688.0,3902.1 688.9,3901.6 689.8,3901.4 690.6,3902.0 691.5,3902.4 692.4,3902.5 693.3,3902.2 694.2,3901.6 695.1,3901.4 696.0,3901.2 696.9,3901.1 697.7,3901.0 698.6,3900.6 699.5,3900.4 700.5,3899.8 701.4,3899.0 702.4,3898.1 703.2,3897.1 704.0,3896.0 704.8,3895.2 705.7,3894.1 706.5,3892.5 707.3,3891.5 708.0,3891.5 708.8,3891.4 709.5,3891.1 710.2,3891.7 710.9,3892.7 711.6,3893.9 712.3,3895.1 713.0,3896.5 713.7,3897.8 714.7,3899.8 715.6,3901.2 716.6,3902.4 717.4,3902.4 718.2,3902.3 719.0,3902.6 719.9,3902.7 720.8,3902.6 721.6,3902.7 722.5,3903.1 723.4,3903.1 724.2,3902.4 725.1,3902.4 726.0,3903.1 726.9,3902.9 727.8,3902.4 728.7,3902.8 729.7,3903.0 730.6,3902.6 731.5,3902.3 732.4,3902.2 733.3,3901.7 734.2,3901.2 735.1,3901.4 736.0,3901.7 737.0,3901.8 737.9,3902.0 738.7,3902.3 739.6,3902.3 740.5,3902.1 741.3,3901.7 742.2,3901.3 743.0,3901.6 743.9,3901.9 744.9,3901.8 745.8,3901.1 746.7,3899.9 747.6,3899.0 748.4,3898.2 749.2,3897.1 749.9,3895.5 750.7,3893.8 751.4,3892.0 752.1,3890.1 752.8,3888.1 753.5,3886.4 754.2,3884.7 754.9,3883.7 755.6,3885.5 756.3,3888.6 757.0,3891.9 757.8,3893.7 758.5,3893.5 759.2,3893.4 759.9,3893.3 760.8,3893.9 761.7,3893.9 762.5,3893.3 763.4,3892.4 764.3,3891.3 765.2,3891.0 766.1,3892.1 767.0,3893.7 767.9,3895.1 768.8,3895.5 769.7,3895.0 770.5,3894.7 771.4,3894.3 772.3,3893.5 773.2,3890.3 774.1,3885.6 775.0,3882.9 775.9,3879.9 776.6,3875.9 777.3,3871.2 777.8,3866.4 778.4,3862.3 779.1,3860.1 779.8,3858.1 780.3,3856.5 780.8,3855.7 781.5,3859.3 782.3,3865.6 782.6,3868.9 783.0,3872.7 783.3,3875.7 784.2,3880.7 785.1,3885.1 785.8,3888.4 786.5,3890.7 787.4,3892.2 788.3,3893.0 789.2,3893.4 790.1,3893.4 790.8,3892.4 791.5,3890.5 792.0,3889.0 792.6,3886.8 792.9,3883.5 793.3,3878.5 793.6,3873.0 793.9,3868.7 794.2,3864.2 794.4,3859.5 794.7,3854.4 794.9,3850.1 795.1,3845.7 795.3,3841.2 795.5,3836.4 795.8,3831.5 795.9,3826.5 796.1,3820.9 796.3,3815.8 796.5,3812.4 797.0,3806.8 797.5,3803.6 798.1,3801.9 798.6,3801.0 799.1,3803.0 799.7,3806.7 800.2,3810.7 800.7,3816.5 800.9,3819.5 801.1,3823.4 801.3,3828.1 801.4,3833.3 801.6,3838.4 801.8,3843.7 801.9,3847.6 802.0,3852.3 802.1,3857.2 802.3,3862.0 802.4,3866.3 802.5,3869.6 802.8,3874.8 803.0,3878.8 803.3,3882.9 803.6,3887.2 803.8,3892.3 804.0,3897.4 804.3,3900.3 805.2,3901.9 806.1,3901.3 806.9,3901.8 807.8,3902.2 808.8,3903.4 809.7,3904.2 810.7,3903.9 811.5,3903.5 812.3,3903.0 813.2,3902.9 814.1,3903.3 815.0,3903.4 816.0,3903.6 816.8,3904.6 817.7,3905.4 818.5,3905.6 819.4,3905.9 820.3,3906.4 821.1,3906.9 822.0,3907.5 822.9,3907.5 823.8,3907.3 824.7,3907.4 825.6,3907.5 826.5,3906.7 827.5,3905.7 828.4,3904.9 829.3,3904.3 830.1,3903.7 830.9,3902.7 831.8,3900.8 832.7,3899.2 833.6,3897.4 834.5,3893.8 835.2,3889.5 835.9,3885.7 836.6,3881.7 837.3,3876.6 838.0,3872.7 838.7,3870.1 839.3,3868.1 839.8,3866.1 840.5,3863.2 841.2,3860.1 841.7,3858.0 842.3,3855.1 842.4,3853.0 842.6,3849.5 842.7,3845.0 842.9,3839.8 843.0,3834.4 843.2,3828.8 843.3,3823.8 843.5,3818.9 843.6,3813.8 843.8,3808.6 843.9,3803.5 844.1,3798.8 844.3,3794.6 844.4,3791.1 844.8,3784.9 845.1,3779.9 845.5,3775.7 845.8,3771.5 846.2,3766.8 846.5,3762.3 846.9,3760.3 847.2,3762.0 847.6,3766.1 848.0,3771.5 848.3,3776.9 848.5,3780.1 848.7,3783.8 848.9,3787.9 849.2,3792.4 849.4,3797.5 849.5,3801.3 849.6,3805.6 849.8,3810.4 849.9,3815.5 850.0,3820.8 850.2,3826.1 850.3,3831.4 850.4,3836.4 850.6,3841.5 850.7,3847.1 850.8,3852.7 851.0,3858.4 851.1,3863.6 851.2,3868.3 851.4,3872.3 851.5,3875.1 851.9,3880.4 852.2,3884.3 852.6,3887.4 852.9,3891.0 853.5,3897.3 854.0,3901.4 854.9,3902.2 855.8,3901.9 856.7,3902.1 857.5,3902.3 858.4,3900.6 859.3,3897.6 860.2,3895.3 861.1,3890.9 861.6,3886.5 862.0,3880.9 862.5,3875.8 862.9,3872.2 863.2,3868.4 863.6,3865.4 864.1,3861.7 864.6,3859.0 865.2,3857.1 865.7,3856.4 866.2,3859.5 866.8,3865.0 867.1,3868.5 867.5,3872.1 867.8,3875.6 868.3,3880.1 868.8,3884.7 869.3,3889.4 869.7,3893.9 870.2,3898.0 870.7,3900.9 871.4,3903.3 872.1,3905.1 872.8,3906.4 873.6,3907.9 874.5,3909.0 875.3,3909.6 876.1,3909.4 877.0,3909.6 877.8,3910.4 878.7,3911.0 879.7,3911.3 880.6,3911.1 881.5,3910.7 882.4,3910.8 883.3,3911.0 884.2,3911.9 885.1,3912.3 886.0,3912.2 886.8,3912.1 887.7,3912.0 888.6,3912.5 889.5,3913.0 890.4,3912.2 891.3,3911.7 892.2,3912.3 893.1,3912.4 893.9,3912.0 894.8,3911.7 895.7,3911.4 896.6,3911.4 897.5,3911.4 898.4,3911.0 899.3,3910.7 900.2,3910.5 901.0,3910.3 901.9,3910.0 902.8,3910.1 903.7,3910.3 904.6,3909.1 905.5,3907.8 906.4,3907.7 907.4,3907.3 908.3,3906.7 909.0,3907.0 909.7,3907.7 910.5,3908.6 911.2,3910.0 911.9,3911.4 912.6,3911.6 913.5,3911.5 914.4,3912.7 915.2,3913.4 916.1,3912.9 917.0,3912.7 917.9,3913.1 918.8,3913.5 919.7,3913.9 920.6,3914.1 921.5,3914.3 922.4,3914.3 923.2,3914.3 924.1,3914.3 925.0,3914.2 925.9,3913.7 926.8,3913.4 927.7,3913.1 928.6,3913.5 929.5,3914.1 930.3,3914.0 931.2,3913.3 932.1,3911.9 933.0,3911.0 933.9,3911.3 934.6,3911.7 935.3,3912.1 936.0,3912.3 936.7,3912.4 937.4,3912.5 938.2,3913.1 938.9,3912.9 939.6,3911.2 940.3,3909.2 941.1,3907.5 941.9,3906.1 942.8,3904.2 943.2,3901.8 943.7,3898.2 944.2,3893.8 944.7,3889.2 945.1,3884.2 945.6,3878.6 945.9,3875.0 946.2,3870.9 946.5,3866.4 946.7,3861.6 947.0,3856.6 947.2,3852.0 947.5,3847.0 947.7,3841.8 947.9,3836.9 948.1,3832.8 948.5,3827.2 948.8,3822.5 949.2,3818.7 949.5,3815.6 950.2,3809.6 950.9,3805.8 951.3,3807.2 951.6,3810.9 952.0,3815.8 952.4,3820.7 952.7,3825.2 953.1,3830.0 953.4,3835.2 953.8,3840.4 954.0,3844.3 954.3,3848.6 954.5,3853.2 954.7,3858.0 955.0,3862.9 955.2,3868.0 955.4,3873.2 955.6,3879.1 955.8,3884.9 956.1,3889.9 956.3,3893.4 956.7,3898.2 957.2,3901.8 957.7,3904.8 958.2,3908.4 958.8,3910.4 959.7,3911.4 960.6,3911.3 961.6,3911.2 962.4,3912.7 963.2,3913.8 964.1,3914.0 964.9,3913.5 965.7,3912.4 966.6,3911.6 967.5,3911.4 968.5,3909.9 969.4,3907.3 970.3,3904.4 971.2,3900.2 972.1,3895.6 973.0,3891.1 973.7,3888.3 974.4,3886.2 975.1,3884.8 975.8,3884.1 976.5,3885.3 977.2,3888.3 977.7,3891.6 978.1,3896.5 978.6,3902.1 979.1,3907.3 979.5,3911.8 980.0,3914.1 980.9,3915.2 981.9,3914.8 982.8,3915.2 983.8,3916.0 984.7,3915.8 985.7,3915.9 986.5,3916.8 987.3,3917.5 988.1,3917.5 988.9,3917.4 989.7,3917.3 990.5,3917.0 991.3,3916.6 992.1,3916.2 993.0,3916.0 994.0,3915.6 994.9,3914.9 995.6,3914.3 996.3,3913.4 997.0,3912.2 997.9,3910.8 998.7,3909.4 999.5,3907.6 1000.4,3903.9 1001.3,3899.3 1002.2,3895.4 1003.1,3893.4 1004.0,3892.5 1004.9,3892.0 1005.7,3892.6 1006.6,3893.0 1007.1,3891.2 1007.6,3887.0 1008.1,3882.1 1008.4,3878.5 1008.8,3874.2 1009.1,3868.7 1009.3,3865.7 1009.4,3861.9 1009.5,3857.5 1009.7,3852.7 1009.8,3847.5 1009.9,3842.4 1010.1,3837.3 1010.2,3832.6 1010.3,3828.0 1010.5,3823.4 1010.6,3818.7 1010.7,3814.0 1010.9,3809.4 1011.0,3805.0 1011.1,3800.8 1011.2,3797.0 1011.4,3792.2 1011.6,3787.6 1011.8,3783.2 1012.0,3778.9 1012.1,3774.8 1012.3,3770.9 1012.5,3767.0 1012.7,3763.3 1012.9,3758.0 1013.1,3752.4 1013.3,3747.3 1013.5,3743.5 1013.7,3741.9 1013.9,3743.2 1014.1,3746.8 1014.3,3752.0 1014.4,3758.1 1014.6,3764.1 1014.8,3769.4 1015.0,3773.8 1015.2,3778.1 1015.3,3782.2 1015.5,3786.4 1015.7,3790.7 1015.9,3795.1 1016.0,3799.9 1016.2,3805.1 1016.3,3808.9 1016.5,3813.1 1016.6,3817.5 1016.7,3822.2 1016.8,3827.0 1016.9,3831.8 1017.1,3836.6 1017.2,3841.3 1017.3,3845.7 1017.4,3850.8 1017.6,3856.2 1017.7,3861.6 1017.8,3867.0 1018.0,3872.0 1018.1,3876.5 1018.2,3880.3 1018.4,3883.1 1018.7,3888.5 1019.1,3892.5 1019.4,3895.6 1019.8,3898.8 1020.1,3902.8 1020.5,3906.6 1020.8,3909.1 1021.7,3911.7 1022.5,3913.3 1023.3,3914.2 1024.3,3915.3 1025.2,3916.3 1026.2,3916.2 1027.1,3915.6 1027.9,3917.0 1028.8,3918.1 1029.7,3918.0 1030.6,3917.5 1031.5,3916.7 1032.4,3916.6 1033.3,3917.0 1034.2,3916.9 1035.2,3916.3 1036.1,3915.4 1036.9,3914.6 1037.8,3913.3 1038.6,3911.8 1039.5,3909.0 1040.4,3904.4 1041.3,3899.5 1042.1,3893.5 1042.5,3890.2 1042.9,3886.2 1043.2,3881.8 1043.6,3877.2 1043.8,3873.4 1044.1,3869.2 1044.4,3865.0 1044.6,3861.4 1045.0,3857.5 1045.3,3854.2 1045.7,3851.4 1046.2,3847.5 1046.8,3845.0 1047.3,3847.7 1047.8,3852.6 1048.3,3856.5 1048.8,3860.7 1049.2,3865.9 1049.5,3870.1 1049.8,3875.3 1050.0,3880.8 1050.3,3885.6 1050.7,3891.5 1051.0,3897.2 1051.4,3902.0 1051.7,3905.1 1052.4,3908.0 1053.2,3910.0 1053.9,3912.0 1054.6,3912.8 1055.5,3912.0 1056.5,3911.0 1057.4,3910.2 1058.2,3909.0 1059.1,3907.8 1059.9,3906.9 1060.7,3906.2 1061.6,3905.2 1062.4,3904.5 1063.3,3904.4 1064.3,3904.2 1065.2,3903.8 1065.9,3903.7 1066.6,3903.8 1067.4,3904.1 1068.1,3904.7 1068.8,3905.2 1069.5,3905.4 1070.0,3904.8 1070.6,3903.6 1071.1,3902.3 1071.6,3901.5 1072.5,3903.9 1073.4,3907.9 1074.3,3910.7 1075.2,3912.2 1076.1,3912.2 1076.9,3911.7 1077.8,3910.6 1078.7,3909.2 1079.4,3905.4 1080.1,3900.2 1080.6,3897.3 1081.1,3894.3 1081.6,3890.7 1081.9,3887.1 1082.3,3883.2 1082.6,3879.2 1083.0,3874.4 1083.3,3871.0 1083.9,3869.7 1084.4,3869.1 1084.9,3868.6 1085.5,3868.3 1086.0,3872.0 1086.5,3878.2 1087.0,3882.7 1087.5,3887.0 1088.0,3891.1 1088.4,3894.8 1088.9,3898.3 1089.4,3901.5 1090.1,3907.0 1090.8,3910.2 1091.7,3909.7 1092.6,3908.9 1093.5,3907.8 1094.3,3906.5 1095.1,3905.7 1095.8,3904.4 1096.5,3903.3 1097.2,3902.2 1097.9,3900.3 1098.6,3898.6 1099.3,3898.8 1100.0,3900.6 1100.7,3902.1 1101.4,3902.8 1102.2,3904.7 1102.9,3907.6 1103.6,3910.4 1104.3,3912.1 1105.2,3911.5 1106.1,3910.2 1107.0,3908.6 1107.8,3907.1 1108.7,3908.3 1109.6,3911.4 1110.5,3913.7 1111.4,3915.4 1112.3,3916.5 1113.2,3917.4 1114.1,3917.8 1114.9,3917.5 1115.7,3917.5 1116.4,3916.9 1117.1,3915.9 1117.8,3914.8 1118.5,3913.6 1119.2,3912.4 1119.9,3910.9 1120.6,3908.1 1121.3,3905.5 1122.0,3904.2 1122.8,3903.3 1123.5,3902.5 1124.4,3903.7 1125.2,3907.3 1126.1,3911.1 1127.0,3913.7 1127.7,3914.9 1128.4,3915.3 1129.1,3915.6 1130.0,3916.4 1130.9,3916.9 1131.8,3917.2 1132.6,3917.5 1133.4,3917.2 1134.4,3916.8 1135.3,3915.7 1136.2,3914.7 1137.1,3913.2 1138.0,3910.1 1138.9,3906.5 1139.8,3903.3 1140.3,3900.6 1140.7,3896.9 1141.2,3892.8 1141.7,3888.4 1142.2,3883.7 1142.6,3879.7 1143.2,3876.5 1143.7,3874.0 1144.2,3872.2 1144.8,3871.4 1145.3,3874.2 1145.8,3878.1 1146.4,3881.9 1146.9,3886.1 1147.4,3890.3 1147.9,3894.7 1148.3,3898.8 1148.8,3903.2 1149.3,3908.0 1149.7,3911.3 1150.5,3913.7 1151.2,3914.7 1151.9,3915.4 1152.6,3917.0 1153.3,3918.3 1154.0,3919.0 1155.0,3919.1 1155.9,3918.8 1156.8,3918.5 1157.7,3918.5 1158.5,3918.3 1159.3,3917.9 1160.2,3916.8 1161.0,3915.0 1161.8,3913.9 1162.5,3913.7 1163.2,3913.4 1163.9,3913.4 1164.7,3913.5 1165.4,3912.3 1166.1,3911.1 1166.8,3910.9 1167.5,3910.9 1168.2,3910.3 1169.1,3907.6 1170.0,3904.4 1170.9,3901.5 1171.8,3900.6 1172.5,3901.4 1173.2,3901.9 1173.9,3902.4 1174.6,3903.2 1175.3,3906.0 1176.0,3910.1 1176.7,3914.4 1177.4,3917.5 1178.2,3917.7 1178.9,3917.6 1179.6,3917.9 1180.3,3918.4 1181.0,3919.0 1181.7,3919.6 1182.5,3919.7 1183.4,3918.8 1184.2,3917.8 1185.0,3916.8 1185.8,3916.2 1186.7,3915.9 1187.4,3915.4 1188.1,3914.5 1188.8,3913.7 1189.6,3913.0 1190.5,3912.1 1191.3,3910.6 1192.2,3907.8 1193.1,3904.5 1194.0,3901.5 1194.8,3899.9 1195.6,3900.8 1196.3,3902.6 1197.0,3904.3 1197.7,3906.1 1198.4,3908.1 1199.1,3910.6 1199.6,3913.0 1200.2,3914.4 1200.9,3914.6 1201.6,3914.8 1202.3,3914.7 1203.0,3914.6 1203.7,3914.2 1204.4,3913.7 1205.3,3912.2 1206.2,3910.0 1207.1,3908.7 1208.0,3906.8 1208.7,3902.8 1209.4,3898.2 1210.1,3894.3 1210.8,3892.2 1211.4,3892.7 1211.9,3893.6 1212.4,3894.6 1213.0,3896.4 1213.7,3899.9 1214.4,3903.6 1215.3,3908.2 1216.2,3910.5 1217.0,3909.3 1217.9,3908.3 1218.8,3907.7 1219.7,3907.4 1220.6,3906.3 1221.5,3905.0 1222.4,3903.4 1223.3,3902.0 1224.1,3902.1 1225.0,3902.1 1225.9,3902.2 1226.8,3902.4 1227.7,3901.6 1228.6,3900.1 1229.5,3898.8 1230.4,3896.8 1230.7,3894.5 1231.1,3890.1 1231.4,3884.8 1231.6,3881.6 1231.8,3877.7 1232.0,3873.3 1232.1,3869.0 1232.3,3864.7 1232.5,3860.5 1232.7,3856.2 1232.8,3851.8 1233.0,3847.1 1233.2,3842.2 1233.3,3837.6 1233.5,3832.4 1233.6,3827.1 1233.8,3822.4 1233.9,3818.8 1234.3,3812.8 1234.6,3808.2 1235.0,3804.1 1235.3,3799.6 1235.7,3797.2 1236.0,3799.4 1236.4,3804.1 1236.7,3808.2 1237.3,3812.9 1237.8,3815.5 1238.3,3813.6 1238.9,3810.0 1239.2,3807.9 1239.6,3804.5 1239.7,3802.3 1239.8,3798.8 1239.9,3794.1 1240.0,3788.8 1240.1,3783.2 1240.2,3777.6 1240.3,3772.4 1240.4,3768.3 1240.5,3764.1 1240.6,3760.0 1240.7,3755.8 1240.7,3751.4 1240.8,3746.8 1240.9,3742.0 1241.0,3736.8 1241.1,3732.9 1241.1,3728.7 1241.2,3724.3 1241.3,3719.7 1241.3,3715.0 1241.4,3710.1 1241.5,3705.1 1241.5,3699.9 1241.6,3694.7 1241.7,3689.3 1241.7,3683.8 1241.8,3679.9 1241.8,3676.0 1241.9,3672.0 1241.9,3667.8 1241.9,3663.4 1242.0,3658.8 1242.0,3653.9 1242.1,3648.6 1242.1,3644.8 1242.1,3640.7 1242.2,3636.3 1242.2,3631.6 1242.2,3626.7 1242.2,3621.6 1242.3,3616.3 1242.3,3611.0 1242.3,3605.5 1242.4,3600.0 1242.4,3594.6 1242.4,3589.1 1242.5,3583.7 1242.5,3578.4 1242.5,3573.3 1242.5,3568.3 1242.6,3563.5 1242.6,3559.0 1242.6,3553.5 1242.7,3548.2 1242.7,3543.0 1242.8,3537.9 1242.8,3532.9 1242.8,3528.0 1242.9,3523.2 1242.9,3518.4 1242.9,3513.6 1243.0,3508.9 1243.0,3504.1 1243.0,3499.3 1243.1,3494.5 1243.1,3489.6 1243.2,3484.6 1243.2,3479.5 1243.2,3474.8 1243.3,3470.3 1243.3,3466.0 1243.3,3461.8 1243.4,3457.7 1243.4,3453.6 1243.4,3449.5 1243.5,3445.4 1243.5,3441.3 1243.6,3437.0 1243.6,3432.6 1243.6,3428.0 1243.7,3423.1 1243.7,3418.1 1243.7,3412.7 1243.8,3406.9 1243.8,3400.8 1243.8,3394.3 1243.9,3387.3 1243.9,3379.8 1243.9,3377.3 1243.9,3374.7 1243.9,3371.8 1243.9,3368.8 1244.0,3365.5 1244.0,3362.2 1244.0,3358.6 1244.0,3354.9 1244.0,3351.0 1244.0,3347.0 1244.0,3342.8 1244.0,3338.5 1244.0,3334.1 1244.1,3329.5 1244.1,3324.8 1244.1,3320.0 1244.1,3315.1 1244.1,3310.1 1244.1,3305.0 1244.1,3299.8 1244.1,3294.5 1244.1,3289.1 1244.1,3283.7 1244.2,3278.2 1244.2,3272.6 1244.2,3266.9 1244.2,3261.3 1244.2,3255.5 1244.2,3249.8 1244.2,3244.0 1244.2,3238.1 1244.2,3232.3 1244.3,3226.4 1244.3,3220.5 1244.3,3214.6 1244.3,3208.8 1244.3,3202.9 1244.3,3197.0 1244.3,3191.2 1244.3,3185.3 1244.3,3179.5 1244.3,3173.8 1244.4,3168.1 1244.4,3162.4 1244.4,3156.8 1244.4,3151.2 1244.4,3145.7 1244.4,3140.3 1244.4,3134.9 1244.4,3129.7 1244.4,3124.5 1244.5,3119.4 1244.5,3114.4 1244.5,3109.5 1244.5,3104.7 1244.5,3100.1 1244.5,3094.7 1244.5,3089.3 1244.5,3083.9 1244.5,3078.4 1244.6,3073.0 1244.6,3067.6 1244.6,3062.1 1244.6,3056.7 1244.6,3051.2 1244.6,3045.8 1244.6,3040.3 1244.7,3034.9 1244.7,3029.5 1244.7,3024.0 1244.7,3018.6 1244.7,3013.3 1244.7,3007.9 1244.7,3002.6 1244.7,2997.4 1244.8,2992.1 1244.8,2986.9 1244.8,2981.8 1244.8,2976.6 1244.8,2971.6 1244.8,2966.6 1244.8,2961.6 1244.8,2956.7 1244.8,2951.9 1244.9,2947.1 1244.9,2942.4 1244.9,2937.8 1244.9,2933.2 1244.9,2928.7 1244.9,2924.3 1244.9,2920.0 1245.0,2915.8 1245.0,2911.6 1245.0,2907.6 1245.0,2903.6 1245.0,2899.8 1245.0,2893.6 1245.0,2887.3 1245.1,2880.8 1245.1,2874.2 1245.1,2867.6 1245.1,2861.0 1245.1,2854.3 1245.2,2847.7 1245.2,2841.2 1245.2,2834.8 1245.2,2828.6 1245.2,2822.5 1245.3,2816.7 1245.3,2811.2 1245.3,2805.9 1245.3,2801.0 1245.3,2796.4 1245.4,2792.2 1245.4,2788.5 1245.4,2785.2 1245.4,2782.5 1245.4,2780.3 1245.5,2778.7 1245.5,2777.7 1245.5,2777.3 1245.5,2777.6 1245.5,2778.7 1245.6,2780.3 1245.6,2782.6 1245.6,2785.4 1245.6,2788.8 1245.6,2792.6 1245.7,2796.9 1245.7,2801.6 1245.7,2806.6 1245.7,2812.0 1245.7,2817.6 1245.8,2823.5 1245.8,2829.6 1245.8,2835.9 1245.8,2842.3 1245.8,2848.8 1245.9,2855.3 1245.9,2861.8 1245.9,2868.3 1245.9,2874.7 1245.9,2881.0 1246.0,2887.2 1246.0,2893.1 1246.0,2898.8 1246.0,2903.1 1246.0,2907.3 1246.0,2911.7 1246.1,2916.0 1246.1,2920.5 1246.1,2925.0 1246.1,2929.5 1246.1,2934.1 1246.1,2938.7 1246.2,2943.4 1246.2,2948.1 1246.2,2952.9 1246.2,2957.7 1246.2,2962.5 1246.2,2967.4 1246.2,2972.3 1246.3,2977.3 1246.3,2982.3 1246.3,2987.3 1246.3,2992.4 1246.3,2997.5 1246.3,3002.7 1246.3,3007.8 1246.4,3013.0 1246.4,3018.2 1246.4,3023.4 1246.4,3028.7 1246.4,3034.0 1246.4,3039.3 1246.4,3044.6 1246.5,3050.0 1246.5,3055.3 1246.5,3060.7 1246.5,3066.1 1246.5,3071.5 1246.5,3076.9 1246.6,3082.3 1246.6,3087.7 1246.6,3093.1 1246.6,3098.6 1246.6,3103.2 1246.6,3107.9 1246.6,3112.6 1246.6,3117.5 1246.7,3122.5 1246.7,3127.5 1246.7,3132.7 1246.7,3137.9 1246.7,3143.2 1246.7,3148.5 1246.7,3153.9 1246.8,3159.3 1246.8,3164.8 1246.8,3170.4 1246.8,3176.0 1246.8,3181.6 1246.8,3187.2 1246.8,3192.9 1246.8,3198.6 1246.8,3204.3 1246.9,3210.0 1246.9,3215.8 1246.9,3221.5 1246.9,3227.2 1246.9,3232.9 1246.9,3238.6 1246.9,3244.3 1246.9,3249.9 1247.0,3255.6 1247.0,3261.1 1247.0,3266.7 1247.0,3272.2 1247.0,3277.7 1247.0,3283.1 1247.0,3288.4 1247.0,3293.7 1247.1,3298.9 1247.1,3304.0 1247.1,3309.1 1247.1,3314.1 1247.1,3319.0 1247.1,3323.8 1247.1,3328.5 1247.1,3333.1 1247.2,3337.6 1247.2,3342.0 1247.2,3346.2 1247.2,3350.4 1247.2,3354.4 1247.2,3358.3 1247.2,3362.0 1247.2,3365.6 1247.3,3369.1 1247.3,3372.4 1247.3,3375.5 1247.3,3378.5 1247.3,3385.3 1247.4,3391.8 1247.4,3397.9 1247.4,3403.7 1247.5,3409.2 1247.5,3414.5 1247.5,3419.6 1247.5,3424.4 1247.6,3429.2 1247.6,3433.7 1247.6,3438.2 1247.7,3442.6 1247.7,3447.0 1247.7,3451.3 1247.8,3455.7 1247.8,3460.0 1247.8,3464.5 1247.8,3469.0 1247.9,3473.7 1247.9,3478.5 1247.9,3483.6 1248.0,3488.5 1248.0,3493.4 1248.0,3498.2 1248.1,3503.0 1248.1,3507.8 1248.1,3512.6 1248.2,3517.3 1248.2,3522.2 1248.2,3527.0 1248.2,3532.0 1248.3,3537.1 1248.3,3542.3 1248.3,3547.6 1248.4,3553.1 1248.4,3558.7 1248.4,3563.2 1248.4,3567.8 1248.5,3572.7 1248.5,3577.7 1248.5,3582.8 1248.5,3588.1 1248.6,3593.5 1248.6,3598.8 1248.6,3604.3 1248.6,3609.7 1248.7,3615.0 1248.7,3620.3 1248.7,3625.5 1248.7,3630.5 1248.8,3635.4 1248.8,3640.2 1248.8,3644.7 1248.8,3648.9 1248.9,3654.4 1248.9,3659.7 1248.9,3664.8 1249.0,3669.7 1249.0,3674.4 1249.0,3679.0 1249.0,3683.6 1249.1,3688.2 1249.1,3692.8 1249.1,3697.5 1249.2,3702.3 1249.2,3707.3 1249.2,3712.5 1249.3,3717.8 1249.3,3723.2 1249.3,3728.6 1249.4,3733.9 1249.4,3738.9 1249.4,3743.7 1249.5,3748.2 1249.5,3752.2 1249.5,3755.7 1249.6,3762.2 1249.7,3767.8 1249.7,3772.8 1249.8,3777.3 1249.9,3781.4 1250.0,3785.5 1250.0,3789.8 1250.1,3794.3 1250.2,3799.4 1250.2,3805.1 1250.3,3809.6 1250.3,3815.0 1250.4,3820.9 1250.4,3826.9 1250.5,3832.7 1250.5,3837.7 1250.6,3841.6 1250.6,3844.1 1250.9,3851.7 1251.1,3856.5 1251.4,3860.0 1251.7,3863.3 1252.0,3867.9 1252.4,3871.9 1252.7,3875.6 1253.2,3880.5 1253.7,3885.0 1254.1,3889.4 1254.7,3893.8 1255.2,3897.3 1255.9,3900.2 1256.6,3903.1 1257.2,3905.9 1257.7,3907.5 1258.4,3907.3 1259.1,3906.7 1259.8,3906.1 1260.7,3905.5 1261.5,3905.3 1262.3,3905.1 1263.1,3904.9 1264.0,3904.7 1264.8,3904.5 1265.5,3904.3 1266.2,3903.6 1266.9,3903.2 1267.6,3904.7 1268.4,3907.4 1268.9,3909.4 1269.4,3911.2 1270.3,3913.6 1271.2,3916.5 1272.1,3919.1 1273.0,3920.0 1273.8,3919.9 1274.6,3920.2 1275.5,3920.6 1276.4,3921.0 1277.3,3920.9 1278.3,3920.6 1279.2,3920.6 1280.2,3920.9 1281.1,3921.1 1282.0,3921.5 1282.8,3922.0 1283.6,3922.3 1284.5,3921.4 1285.4,3919.5 1286.3,3917.6 1287.2,3916.4 1288.1,3916.1 1288.9,3916.2 1289.8,3915.6 1290.7,3914.3 1291.6,3914.9 1292.5,3916.5 1293.4,3917.3 1294.3,3917.9 1295.1,3919.8 1295.9,3921.5 1296.8,3921.9 1297.7,3922.3 1298.7,3922.9 1299.6,3923.3 1300.5,3923.5 1301.4,3923.6 1302.3,3923.7 1303.2,3923.9 1304.0,3923.8 1304.9,3923.2 1305.8,3923.2 1306.7,3923.9 1307.6,3924.2 1308.5,3924.0 1309.4,3923.1 1310.3,3922.0 1311.2,3922.5 1312.1,3922.7 1313.1,3922.0 1313.8,3920.8 1314.5,3918.8 1315.2,3917.0 1315.9,3915.9 1316.6,3914.6 1317.4,3913.1 1318.1,3911.5 1318.8,3909.9 1319.5,3908.4 1320.2,3907.0 1320.9,3905.9 1321.6,3905.3 1322.5,3904.9 1323.4,3905.2 1324.3,3906.1 1325.2,3907.3 1326.1,3909.6 1326.9,3912.6 1327.8,3915.3 1328.7,3917.2 1329.4,3918.3 1330.1,3919.4 1330.9,3920.3 1331.7,3921.7 1332.5,3923.0 1333.3,3922.6 1334.2,3921.3 1335.1,3922.0 1336.0,3922.1 1336.9,3920.5 1337.6,3918.0 1338.3,3914.6 1338.8,3911.5 1339.4,3909.1 1339.9,3907.8 1340.4,3906.9 1341.0,3906.1 1341.5,3905.4 1342.2,3906.2 1342.9,3908.1 1343.6,3909.9 1344.3,3912.3 1345.1,3915.2 1345.8,3917.7 1346.7,3919.8 1347.5,3921.3 1348.4,3921.7 1349.3,3920.9 1350.2,3919.4 1351.1,3917.9 1352.0,3915.1 1352.9,3911.5 1353.8,3908.1 1354.6,3905.2 1355.5,3901.9 1356.4,3898.3 1357.3,3895.2 1358.2,3893.4 1359.0,3893.7 1359.9,3894.7 1360.7,3895.9 1361.4,3897.1 1362.1,3898.7 1362.8,3900.7 1363.7,3904.0 1364.6,3907.6 1365.5,3911.0 1366.4,3914.2 1367.1,3916.1 1367.8,3917.9 1368.5,3919.2 1369.2,3920.3 1369.9,3921.3 1370.6,3921.9 1371.6,3922.7 1372.5,3923.4 1373.5,3923.6 1374.3,3923.8 1375.1,3924.9 1376.0,3925.9 1376.8,3926.7 1377.6,3927.3 1378.4,3927.2 1379.4,3927.2 1380.3,3927.7 1381.3,3927.3 1382.2,3926.5 1383.2,3926.9 1384.1,3927.1 1384.9,3926.4 1385.8,3925.8 1386.6,3925.2 1387.4,3924.6 1388.3,3924.0 1389.1,3923.1 1390.0,3921.5 1391.0,3921.4 1391.9,3921.8 1392.9,3921.9 1393.8,3922.9 1394.8,3924.6 1395.6,3925.0 1396.4,3924.9 1397.3,3924.9 1398.1,3924.7 1399.0,3925.1 1399.9,3925.4 1400.8,3924.5 1401.7,3924.1 1402.6,3924.9 1403.5,3924.9 1404.4,3923.8 1405.2,3923.2 1406.0,3922.8 1406.8,3922.0 1407.8,3921.0 1408.7,3921.1 1409.7,3920.7 1410.6,3918.7 1411.6,3917.8 1412.5,3918.0 1413.4,3916.6 1414.2,3915.0 1415.0,3914.1 1415.8,3913.3 1416.7,3911.6 1417.5,3910.1 1418.2,3909.6 1418.9,3909.2 1419.6,3908.9 1420.3,3909.5 1421.1,3911.1 1421.8,3912.6 1422.5,3914.0 1423.2,3915.2 1423.9,3916.1 1424.8,3916.9 1425.8,3917.6 1426.7,3918.3 1427.6,3918.4 1428.4,3918.2 1429.2,3918.2 1430.0,3918.3 1430.9,3918.6 1431.7,3918.9 1432.7,3919.9 1433.6,3920.8 1434.5,3920.4 1435.3,3919.7 1436.0,3918.8 1436.7,3917.6 1437.4,3915.9 1438.1,3914.0 1438.8,3911.4 1439.3,3908.3 1439.8,3903.9 1440.2,3899.8 1440.7,3895.9 1441.2,3891.6 1441.6,3887.5 1442.1,3883.3 1442.6,3879.3 1443.1,3875.6 1443.8,3869.2 1444.5,3865.4 1445.2,3866.1 1445.9,3867.7 1446.6,3869.7 1447.3,3871.9 1448.0,3873.9 1448.8,3876.2 1449.6,3878.2 1450.5,3879.5 1451.4,3883.2 1452.3,3888.2 1453.2,3893.0 1454.1,3897.8 1455.0,3901.7 1455.9,3905.2 1456.7,3908.7 1457.6,3911.6 1458.5,3913.3 1459.3,3914.8 1460.1,3916.1 1461.1,3917.7 1462.0,3919.3 1463.0,3920.6 1463.9,3921.6 1464.8,3922.8 1465.8,3923.6 1466.6,3923.9 1467.5,3924.6 1468.3,3925.2 1469.1,3925.1 1469.9,3924.8 1470.8,3924.3 1471.7,3923.6 1472.7,3923.4 1473.6,3923.4 1474.4,3923.5 1475.2,3923.6 1476.0,3923.3 1476.8,3923.1 1477.6,3923.0 1478.4,3922.9 1479.2,3922.6 1480.0,3922.4 1481.0,3922.5 1481.9,3921.6 1482.9,3920.2 1483.9,3919.1 1484.9,3918.6 1485.8,3918.7 1486.8,3919.8 1487.7,3921.3 1488.5,3922.8 1489.4,3924.5 1490.2,3924.9 1491.0,3925.1 1491.8,3925.9 1492.7,3926.7 1493.6,3927.9 1494.6,3928.7 1495.5,3928.9 1496.4,3929.1 1497.2,3929.5 1498.1,3929.5 1498.9,3929.3 1499.8,3929.4 1500.7,3929.5 1501.6,3930.0 1502.5,3930.3 1503.5,3930.3 1504.4,3930.3 1505.3,3930.0 1506.2,3929.5 1507.1,3928.9 1507.9,3929.0 1508.8,3928.9 1509.7,3927.9 1510.6,3927.5 1511.5,3927.6 1512.3,3926.8 1513.1,3925.4 1514.0,3924.3 1514.9,3923.4 1515.9,3922.7 1516.8,3922.6 1517.5,3922.9 1518.2,3923.7 1518.9,3924.0 1519.7,3924.2 1520.4,3925.2 1521.1,3926.3 1521.8,3927.3 1522.5,3928.3 1523.2,3928.9 1524.0,3929.0 1524.9,3929.1 1525.7,3928.8 1526.5,3928.4 1527.4,3928.4 1528.2,3928.0 1529.1,3927.2 1530.1,3926.4 1531.0,3925.9 1531.9,3925.2 1532.8,3924.6 1533.7,3924.1 1534.6,3923.9 1535.5,3924.7 1536.3,3926.3 1537.2,3928.1 1538.1,3928.8 1539.0,3928.3 1539.9,3928.2 1540.8,3927.9 1541.7,3927.3 1542.6,3927.1 1543.5,3927.6 1544.3,3927.4 1545.2,3926.6 1545.9,3926.0 1546.6,3924.9 1547.4,3923.2 1548.1,3920.9 1548.8,3918.7 1549.5,3917.9 1550.4,3916.9 1551.3,3915.3 1552.2,3913.8 1553.0,3912.9 1553.9,3914.2 1554.8,3916.7 1555.7,3918.4 1556.6,3919.8 1557.3,3920.8 1558.0,3921.7 1558.7,3922.6 1559.6,3923.5 1560.4,3925.1 1561.2,3926.6 1562.1,3926.9 1563.0,3926.8 1563.9,3926.9 1564.8,3927.0 1565.6,3926.7 1566.5,3926.8 1567.4,3927.8 1568.3,3928.1 1569.2,3927.6 1570.1,3926.7 1571.0,3925.7 1571.9,3925.1 1572.7,3924.4 1573.6,3923.2 1574.5,3922.5 1575.4,3923.1 1576.3,3923.4 1577.2,3923.1 1578.1,3923.9 1579.0,3925.0 1579.9,3924.9 1580.7,3924.8 1581.6,3924.9 1582.5,3925.3 1583.3,3925.9 1584.2,3926.3 1585.0,3926.5 1585.9,3926.3 1586.9,3925.9 1587.8,3926.2 1588.8,3926.0 1589.7,3924.8 1590.7,3923.4 1591.5,3921.6 1592.3,3919.8 1593.2,3918.7 1594.1,3919.0 1594.9,3919.6 1595.8,3919.6 1596.7,3919.6 1597.6,3919.9 1598.5,3920.4 1599.4,3920.8 1600.3,3921.0 1601.1,3920.8 1601.9,3920.5 1602.8,3920.1 1603.7,3919.5 1604.6,3918.7 1605.6,3919.2 1606.5,3918.9 1607.5,3917.3 1608.4,3915.8 1609.3,3914.5 1610.1,3913.5 1610.9,3913.2 1611.6,3914.4 1612.3,3916.4 1613.1,3917.5 1613.9,3917.8 1614.7,3918.7 1615.5,3919.9 1616.5,3921.6 1617.4,3923.5 1618.4,3923.7 1619.2,3924.0 1620.0,3925.3 1620.8,3926.2 1621.6,3925.6 1622.5,3924.9 1623.4,3925.0 1624.2,3925.2 1625.1,3925.6 1626.0,3925.7 1626.9,3925.6 1627.8,3925.3 1628.7,3924.8 1629.6,3923.7 1630.5,3921.9 1631.3,3920.1 1632.2,3918.3 1632.8,3917.2 1633.3,3916.4 1634.0,3916.0 1634.7,3915.8 1635.6,3917.2 1636.5,3919.6 1637.4,3921.2 1638.3,3922.5 1639.0,3923.2 1639.7,3923.8 1640.4,3924.6 1641.2,3925.6 1642.1,3926.6 1642.9,3927.2 1643.8,3927.2 1644.7,3926.9 1645.5,3926.0 1646.4,3925.1 1647.3,3924.7 1648.2,3924.3 1649.1,3924.1 1650.0,3924.6 1650.9,3925.5 1651.8,3925.0 1652.6,3924.2 1653.5,3924.7 1654.4,3924.9 1655.3,3924.0 1656.2,3923.8 1657.1,3924.7 1658.0,3924.5 1658.9,3923.4 1659.8,3923.1 1660.6,3923.0 1661.5,3923.1 1662.4,3923.1 1663.3,3923.1 1664.2,3923.0 1665.0,3922.6 1665.8,3921.9 1666.7,3921.2 1667.6,3920.4 1668.6,3919.7 1669.5,3918.4 1670.4,3916.5 1671.3,3915.3 1672.2,3913.5 1673.1,3910.2 1674.0,3906.9 1674.8,3903.6 1675.7,3901.0 1676.6,3896.8 1676.8,3894.3 1677.0,3890.6 1677.3,3885.9 1677.5,3880.6 1677.7,3875.0 1677.8,3870.9 1678.0,3866.3 1678.1,3861.2 1678.3,3855.6 1678.4,3849.9 1678.5,3846.0 1678.6,3841.8 1678.7,3837.4 1678.8,3832.8 1678.8,3828.2 1678.9,3823.4 1679.0,3818.8 1679.1,3814.2 1679.2,3809.9 1679.3,3805.9 1679.4,3801.9 1679.5,3797.9 1679.5,3793.7 1679.6,3789.2 1679.7,3784.2 1679.8,3778.6 1679.9,3775.4 1679.9,3772.0 1680.0,3768.6 1680.0,3764.9 1680.1,3761.0 1680.1,3757.0 1680.1,3752.7 1680.2,3748.2 1680.2,3743.3 1680.3,3738.2 1680.3,3732.8 1680.4,3727.0 1680.4,3720.9 1680.5,3714.4 1680.5,3707.5 1680.5,3704.2 1680.6,3700.3 1680.6,3695.8 1680.6,3690.8 1680.6,3685.5 1680.6,3679.8 1680.7,3673.9 1680.7,3667.9 1680.7,3661.9 1680.7,3655.9 1680.7,3649.9 1680.8,3644.2 1680.8,3638.8 1680.8,3633.7 1680.8,3629.1 1680.8,3625.0 1680.9,3621.5 1680.9,3618.7 1680.9,3611.4 1681.0,3605.4 1681.1,3600.4 1681.1,3596.0 1681.2,3592.2 1681.3,3588.5 1681.3,3584.9 1681.4,3581.0 1681.5,3576.6 1681.5,3571.5 1681.6,3565.5 1681.6,3561.7 1681.7,3557.4 1681.7,3552.5 1681.7,3547.2 1681.8,3541.7 1681.8,3536.2 1681.8,3530.7 1681.8,3525.4 1681.9,3520.5 1681.9,3516.1 1681.9,3512.4 1682.0,3506.2 1682.1,3500.7 1682.1,3495.8 1682.2,3491.4 1682.3,3487.2 1682.3,3483.2 1682.4,3479.2 1682.5,3474.9 1682.5,3470.4 1682.6,3465.3 1682.7,3459.6 1682.7,3455.2 1682.7,3449.8 1682.8,3443.7 1682.8,3437.4 1682.9,3431.2 1682.9,3425.7 1682.9,3421.3 1683.0,3418.3 1683.0,3417.3 1683.0,3417.9 1683.1,3419.6 1683.1,3422.2 1683.1,3425.8 1683.1,3430.1 1683.2,3435.0 1683.2,3440.4 1683.2,3446.3 1683.3,3452.4 1683.3,3458.7 1683.3,3465.0 1683.3,3471.2 1683.4,3477.2 1683.4,3480.9 1683.4,3484.7 1683.4,3488.9 1683.4,3493.2 1683.4,3497.7 1683.5,3502.4 1683.5,3507.3 1683.5,3512.3 1683.5,3517.4 1683.5,3522.6 1683.5,3527.8 1683.6,3533.1 1683.6,3538.4 1683.6,3543.7 1683.6,3549.0 1683.6,3554.2 1683.6,3559.4 1683.7,3564.4 1683.7,3569.4 1683.7,3574.2 1683.7,3578.8 1683.7,3583.3 1683.7,3588.7 1683.8,3594.0 1683.8,3599.2 1683.8,3604.4 1683.8,3609.6 1683.8,3614.7 1683.9,3619.8 1683.9,3624.8 1683.9,3629.7 1683.9,3634.6 1683.9,3639.5 1684.0,3644.3 1684.0,3649.0 1684.0,3653.7 1684.0,3658.3 1684.0,3662.8 1684.1,3667.3 1684.1,3671.6 1684.1,3677.1 1684.1,3682.9 1684.1,3689.0 1684.2,3695.3 1684.2,3701.6 1684.2,3707.8 1684.2,3713.9 1684.3,3719.6 1684.3,3725.0 1684.3,3729.8 1684.3,3734.0 1684.4,3737.4 1684.4,3740.0 1684.4,3741.7 1684.4,3742.2 1684.5,3740.9 1684.6,3737.7 1684.7,3733.0 1684.8,3727.5 1684.9,3721.5 1685.0,3715.7 1685.1,3710.5 1685.1,3706.5 1685.3,3700.7 1685.4,3694.8 1685.6,3689.1 1685.8,3684.1 1685.9,3680.0 1686.1,3677.3 1686.2,3676.3 1686.3,3677.3 1686.4,3679.8 1686.5,3683.7 1686.6,3688.6 1686.7,3694.3 1686.8,3700.5 1686.9,3706.8 1687.0,3710.2 1687.0,3714.4 1687.1,3719.2 1687.1,3724.4 1687.1,3729.6 1687.2,3734.5 1687.2,3738.9 1687.3,3742.5 1687.4,3748.1 1687.5,3752.8 1687.5,3756.8 1687.6,3760.4 1687.7,3764.1 1687.8,3768.1 1687.9,3772.7 1688.0,3778.2 1688.0,3781.7 1688.1,3786.1 1688.1,3791.1 1688.2,3796.3 1688.2,3801.4 1688.2,3806.1 1688.3,3810.2 1688.3,3813.3 1688.5,3820.2 1688.6,3825.9 1688.7,3830.6 1688.9,3834.7 1689.0,3838.5 1689.1,3842.4 1689.3,3846.5 1689.4,3851.4 1689.5,3855.9 1689.6,3861.0 1689.7,3866.3 1689.8,3871.5 1689.9,3876.3 1690.0,3880.5 1690.1,3883.7 1690.4,3889.7 1690.6,3894.4 1690.9,3898.3 1691.2,3902.1 1691.5,3907.4 1691.9,3912.2 1692.2,3915.4 1693.0,3917.9 1693.7,3918.9 1694.4,3920.0 1695.3,3922.5 1696.2,3924.0 1697.0,3923.8 1697.8,3922.8 1698.6,3921.2 1699.3,3920.2 1700.1,3919.6 1700.8,3918.6 1701.7,3916.1 1702.5,3913.4 1703.4,3910.9 1704.3,3909.0 1705.0,3908.2 1705.7,3907.7 1706.6,3907.0 1707.5,3906.6 1708.4,3907.2 1709.3,3908.2 1710.0,3908.8 1710.7,3909.7 1711.4,3910.7 1712.1,3911.3 1712.8,3911.6 1713.6,3911.8 1714.3,3911.7 1715.0,3911.6 1715.7,3911.6 1716.4,3911.7 1717.1,3912.0 1717.8,3912.2 1718.5,3912.5 1719.2,3913.0 1719.9,3913.3 1720.7,3912.7 1721.4,3911.6 1722.1,3911.0 1723.0,3910.3 1723.8,3910.0 1724.6,3910.9 1725.3,3912.3 1726.0,3913.8 1726.7,3914.8 1727.4,3915.7 1728.1,3916.6 1728.9,3917.8 1729.8,3919.1 1730.6,3920.6 1731.3,3922.0 1732.0,3923.3 1732.7,3923.9 1733.7,3923.9 1734.6,3923.8 1735.6,3923.7 1736.4,3922.9 1737.2,3921.8 1738.0,3921.7 1738.8,3922.1 1739.6,3920.6 1740.4,3918.1 1741.2,3916.7 1742.0,3915.9 1742.7,3914.9 1743.4,3913.8 1744.1,3912.6 1744.8,3911.3 1745.5,3910.0 1746.2,3908.6 1746.9,3907.3 1747.6,3907.2 1748.4,3908.1 1749.1,3908.3 1749.8,3907.9 1750.5,3907.9 1751.2,3908.8 1751.9,3909.6 1752.8,3909.4 1753.7,3909.4 1754.6,3910.0 1755.5,3910.2 1756.3,3908.5 1757.2,3906.9 1758.1,3906.2 1759.0,3903.3 1759.9,3899.3 1760.8,3895.8 1761.7,3892.8 1762.6,3892.1 1763.3,3893.2 1764.0,3894.0 1764.7,3894.8 1765.5,3896.2 1766.3,3897.6 1767.2,3899.0 1768.0,3901.1 1768.8,3903.7 1769.7,3906.5 1770.4,3909.1 1771.1,3911.8 1771.8,3914.3 1772.6,3916.4 1773.4,3918.2 1774.3,3919.9 1775.1,3920.7 1775.9,3921.3 1776.8,3922.1 1777.7,3923.0 1778.7,3924.3 1779.6,3924.8 1780.5,3924.7 1781.4,3926.0 1782.3,3927.4 1783.2,3927.0 1784.0,3926.5 1784.9,3926.1 1785.8,3926.1 1786.7,3926.5 1787.6,3926.6 1788.5,3926.4 1789.4,3925.9 1790.3,3925.3 1791.1,3925.2 1792.0,3925.0 1792.9,3924.8 1793.8,3924.5 1794.7,3924.3 1795.6,3923.4 1796.5,3922.1 1797.4,3920.9 1798.2,3919.8 1799.0,3920.8 1799.8,3921.9 1800.6,3921.0 1801.4,3919.6 1802.2,3918.9 1803.0,3918.4 1803.8,3918.4 1804.7,3919.1 1805.6,3919.5 1806.6,3920.2 1807.4,3921.1 1808.2,3921.5 1809.0,3921.1 1809.8,3921.3 1810.6,3922.4 1811.4,3923.4 1812.3,3923.8 1813.2,3925.2 1814.2,3927.2 1815.1,3927.0 1816.0,3926.6 1816.9,3927.2 1817.8,3927.6 1818.7,3927.8 1819.6,3927.3 1820.4,3926.3 1821.3,3926.4 1822.2,3926.8 1823.1,3927.2 1824.0,3927.6 1824.9,3927.4 1825.8,3927.2 1826.7,3927.2 1827.5,3927.4 1828.4,3927.8 1829.3,3928.0 1830.2,3928.0 1831.1,3927.4 1832.0,3926.8 1832.9,3926.9 1833.8,3927.0 1834.6,3927.2 1835.5,3927.1 1836.4,3926.8 1837.3,3926.7 1838.2,3926.5 1839.1,3925.9 1840.0,3925.5 1840.9,3926.5 1841.7,3926.8 1842.6,3925.9 1843.5,3925.5 1844.4,3925.5 1845.3,3925.3 1846.2,3925.0 1847.1,3924.9 1848.0,3924.7 1848.8,3924.6 1849.7,3924.4 1850.6,3923.9 1851.5,3923.9 1852.4,3924.2 1853.3,3924.5 1854.2,3924.6 1855.1,3924.0 1856.0,3923.2 1856.8,3922.7 1857.7,3922.1 1858.6,3921.5 1859.5,3920.8 1860.4,3920.1 1861.3,3920.1 1862.2,3920.3 1863.2,3918.8 1864.1,3917.8 1864.9,3917.8 1865.8,3917.9 1866.6,3918.0 1867.4,3918.7 1868.3,3919.9 1869.1,3920.9 1870.0,3921.8 1871.0,3923.1 1871.9,3923.9 1872.9,3924.9 1873.8,3925.0 1874.8,3923.8 1875.6,3923.6 1876.4,3923.9 1877.3,3923.9 1878.1,3923.8 1878.9,3923.3 1879.7,3922.8 1880.7,3921.8 1881.6,3920.9 1882.6,3920.7 1883.5,3921.5 1884.5,3923.2 1885.4,3924.2 1886.3,3924.9 1887.1,3926.1 1887.9,3927.2 1888.7,3928.0 1889.6,3928.7 1890.4,3929.2 1891.1,3929.7 1891.8,3929.6 1892.5,3929.3 1893.5,3929.0 1894.5,3928.8 1895.5,3929.4 1896.4,3929.0 1897.4,3928.0 1898.4,3927.4 1899.4,3926.8 1900.3,3926.1 1901.2,3926.3 1902.0,3926.9 1902.9,3926.3 1903.8,3925.4 1904.6,3925.1 1905.5,3925.0 1906.4,3925.5 1907.4,3925.6 1908.3,3925.2 1909.2,3924.8 1910.0,3923.9 1910.9,3921.9 1911.7,3919.5 1912.4,3917.2 1913.1,3914.7 1913.8,3913.2 1914.5,3912.8 1915.3,3912.4 1916.0,3912.0 1916.7,3911.7 1917.4,3911.2 1918.1,3910.9 1918.8,3911.9 1919.5,3913.8 1920.2,3915.5 1920.9,3916.8 1921.6,3918.3 1922.4,3919.2 1923.3,3920.2 1924.3,3921.9 1925.2,3923.0 1926.1,3923.8 1927.1,3924.8 1928.0,3925.4 1929.0,3926.1 1930.0,3925.7 1931.0,3924.5 1931.9,3925.5 1932.8,3926.3 1933.6,3926.2 1934.4,3925.9 1935.2,3924.7 1935.9,3923.6 1936.7,3924.0 1937.5,3924.3 1938.3,3924.0 1939.1,3923.7 1939.8,3923.1 1940.6,3922.4 1941.4,3922.2 1942.2,3921.9 1943.0,3921.3 1943.8,3920.7 1944.5,3920.5 1945.3,3920.3 1946.1,3919.6 1946.9,3918.8 1947.7,3917.6 1948.5,3916.3 1949.4,3916.5 1950.1,3916.8 1950.8,3916.2 1951.6,3915.1 1952.3,3913.0 1953.1,3910.3 1953.9,3908.6 1954.7,3907.0 1955.3,3904.3 1955.9,3901.4 1956.6,3899.1 1957.2,3896.9 1957.8,3897.1 1958.4,3898.4 1959.2,3901.0 1960.0,3903.2 1960.9,3904.5 1961.9,3905.8 1962.6,3907.0 1963.3,3907.8 1964.1,3908.2 1964.9,3908.5 1965.7,3908.6 1966.6,3909.1 1967.5,3910.6 1968.4,3911.0 1969.4,3910.5 1970.3,3910.5 1971.2,3910.4 1972.0,3910.4 1972.7,3910.3 1973.4,3908.7 1974.4,3906.7 1975.3,3905.9 1976.2,3905.4 1977.2,3905.5 1978.0,3906.3 1978.8,3907.3 1979.7,3908.5 1980.6,3910.1 1981.6,3911.6 1982.5,3913.5 1983.4,3916.4 1984.4,3917.4 1985.2,3916.7 1985.9,3916.3 1986.7,3916.1 1987.5,3915.9 1988.3,3915.7 1989.1,3915.5 1989.8,3915.4 1990.6,3915.0 1991.4,3914.2 1992.2,3913.9 1993.0,3914.3 1993.8,3914.7 1994.5,3914.9 1995.3,3914.8 1996.1,3914.1 1996.9,3913.7 1997.8,3914.5 1998.8,3915.4 1999.7,3916.0 2000.6,3916.7 2001.4,3918.0 2002.2,3920.7 2003.0,3923.4 2003.8,3924.4 2004.7,3924.8 2005.6,3925.4 2006.4,3925.8 2007.1,3925.9 2007.8,3925.8 2008.6,3926.1 2009.4,3926.5 2010.2,3926.4 2011.1,3926.4 2011.9,3926.5 2012.8,3926.7 2013.8,3926.9 2014.7,3927.5 2015.6,3928.5 2016.6,3928.3 2017.5,3927.8 2018.4,3927.8 2019.4,3927.8 2020.2,3927.6 2021.0,3927.6 2021.8,3928.1 2022.6,3927.7 2023.4,3926.5 2024.2,3925.8 2025.0,3925.8 2025.8,3926.1 2026.6,3926.8 2027.3,3927.3 2028.1,3927.5 2028.9,3927.6 2029.7,3927.6 2030.6,3927.3 2031.6,3926.7 2032.5,3926.6 2033.3,3926.7 2034.2,3926.7 2035.0,3926.6 2035.8,3924.8 2036.6,3922.4 2037.3,3920.5 2038.1,3917.4 2038.4,3914.7 2038.6,3909.9 2038.8,3904.3 2039.1,3899.2 2039.3,3894.9 2039.5,3890.8 2039.8,3886.3 2040.0,3880.8 2040.1,3876.9 2040.2,3872.3 2040.4,3867.4 2040.5,3862.6 2040.6,3858.5 2040.8,3853.4 2041.0,3848.8 2041.2,3844.5 2041.4,3840.3 2041.6,3836.1 2041.8,3831.0 2042.0,3826.1 2042.2,3822.0 2042.5,3817.3 2042.8,3813.4 2043.1,3811.1 2043.8,3809.4 2044.4,3808.9 2044.6,3811.1 2044.8,3815.7 2045.0,3820.5 2045.2,3823.4 2045.3,3826.3 2045.5,3830.0 2045.6,3835.4 2045.7,3838.0 2045.7,3841.7 2045.8,3846.3 2045.8,3851.4 2045.8,3856.7 2045.9,3861.8 2045.9,3866.3 2046.0,3871.8 2046.0,3877.9 2046.1,3883.9 2046.1,3889.1 2046.2,3892.7 2046.2,3894.1 2046.5,3892.7 2046.7,3888.9 2047.0,3884.1 2047.2,3880.2 2047.5,3875.4 2047.8,3871.0 2048.1,3868.6 2048.8,3868.4 2049.4,3869.1 2049.6,3871.6 2049.8,3876.7 2050.0,3883.3 2050.1,3886.7 2050.2,3891.1 2050.2,3895.6 2050.3,3899.0 2050.5,3904.8 2050.7,3909.2 2050.9,3913.2 2051.1,3917.7 2051.4,3921.8 2051.6,3924.1 2052.3,3926.1 2053.1,3927.2 2053.9,3928.1 2054.7,3928.4 2055.5,3928.2 2056.2,3928.7 2057.0,3929.9 2057.8,3930.5 2058.6,3930.3 2059.4,3930.2 2060.2,3930.3 2060.9,3930.6 2061.7,3931.4 2062.5,3931.2 2063.3,3929.2 2064.1,3927.8 2064.8,3928.1 2065.6,3928.2 2066.4,3927.5 2067.2,3926.8 2067.9,3925.8 2068.6,3924.8 2069.4,3925.4 2070.2,3926.1 2071.0,3924.4 2071.9,3922.7 2072.7,3923.0 2073.4,3923.4 2074.2,3923.1 2075.0,3922.8 2075.8,3922.7 2076.6,3922.7 2077.3,3922.2 2078.1,3921.6 2079.1,3921.9 2080.0,3921.7 2080.9,3920.5 2081.9,3919.2 2082.8,3917.8 2083.8,3917.3 2084.7,3918.3 2085.6,3920.5 2086.6,3922.3 2087.5,3923.2 2088.3,3924.1 2089.1,3925.2 2089.8,3926.0 2090.6,3926.6 2091.4,3927.0 2092.2,3927.3 2093.0,3927.5 2093.8,3927.4 2094.7,3927.7 2095.6,3928.3 2096.6,3929.2 2097.5,3930.0 2098.4,3929.9 2099.4,3930.3 2100.3,3931.5 2101.2,3931.5 2102.2,3930.7 2103.1,3931.0 2104.0,3931.3 2104.9,3931.4 2105.8,3931.4 2106.7,3931.1 2107.6,3931.1 2108.5,3931.2 2109.4,3931.4 2110.3,3931.7 2111.2,3931.2 2112.1,3930.8 2112.9,3931.0 2113.8,3930.9 2114.7,3930.6 2115.6,3931.0 2116.5,3931.9 2117.4,3931.4 2118.3,3930.7 2119.2,3930.9 2120.1,3930.6 2121.0,3929.1 2121.9,3928.7 2122.8,3929.7 2123.7,3929.8 2124.6,3929.5 2125.4,3929.8 2126.3,3930.2 2127.2,3929.9 2128.1,3929.7 2128.9,3929.4 2129.7,3929.1 2130.5,3929.2 2131.2,3929.3 2132.0,3929.5 2132.8,3929.6 2133.6,3929.5 2134.4,3929.2 2135.2,3927.8 2136.0,3926.3 2136.9,3925.7 2137.6,3924.9 2138.3,3923.2 2139.1,3921.8 2139.8,3921.6 2140.5,3921.4 2141.2,3920.7 2142.2,3919.7 2143.1,3920.2 2144.1,3921.0 2145.0,3921.7 2145.9,3921.8 2146.9,3921.3 2147.7,3922.8 2148.4,3925.1 2149.2,3926.4 2150.0,3926.8 2150.8,3927.2 2151.6,3927.8 2152.3,3928.9 2153.1,3930.2 2153.9,3930.3 2154.7,3929.6 2155.5,3929.4 2156.2,3929.7 2157.2,3929.2 2158.1,3928.3 2159.1,3928.6 2160.0,3928.9 2160.9,3928.4 2161.9,3928.4 2162.8,3929.0 2163.8,3928.4 2164.7,3927.6 2165.6,3928.8 2166.6,3929.2 2167.5,3927.7 2168.4,3927.6 2169.4,3928.3 2170.3,3927.5 2171.2,3927.0 2172.2,3927.7 2173.1,3928.5 2174.1,3929.2 2175.0,3928.9 2175.9,3928.3 2176.9,3927.7 2177.8,3927.4 2178.8,3927.9 2179.7,3928.0 2180.6,3927.9 2181.6,3927.4 2182.5,3927.0 2183.4,3927.0 2184.4,3926.4 2185.3,3925.5 2186.2,3926.8 2187.2,3928.2 2188.1,3928.0 2188.9,3927.6 2189.8,3926.8 2190.6,3927.0 2191.4,3928.7 2192.2,3929.5 2193.0,3928.9 2193.9,3929.0 2194.8,3929.7 2195.6,3929.5 2196.6,3928.8 2197.5,3929.6 2198.4,3930.3 2199.4,3930.0 2200.2,3930.1 2201.1,3930.8 2202.0,3930.6 2202.9,3929.7 2203.8,3929.1 2204.6,3928.4 2205.4,3928.1 2206.2,3927.9 2207.0,3928.0 2207.8,3928.3 2208.7,3927.5 2209.6,3926.8 2210.5,3927.2 2211.4,3927.3 2212.2,3926.5 2213.1,3926.0 2214.1,3925.7 2215.0,3925.9 2215.9,3926.3 2216.9,3926.3 2217.8,3926.3 2218.8,3926.4 2219.7,3926.5 2220.6,3926.7 2221.6,3926.0 2222.5,3925.5 2223.4,3925.4 2224.4,3925.6 2225.3,3926.0 2226.2,3925.9 2227.2,3925.7 2228.1,3925.4 2229.1,3925.5 2230.0,3925.9 2230.9,3925.6 2231.9,3925.1 2232.8,3926.1 2233.8,3926.8 2234.7,3926.7 2235.6,3927.3 2236.6,3928.1 2237.5,3928.7 2238.3,3929.1 2239.1,3928.2 2239.8,3927.3 2240.6,3928.2 2241.4,3929.1 2242.2,3928.7 2243.0,3928.1 2243.8,3928.2 2244.7,3928.3 2245.6,3928.0 2246.6,3927.9 2247.5,3928.1 2248.4,3927.7 2249.4,3926.9 2250.3,3926.0 2251.2,3925.4 2252.2,3926.1 2253.1,3926.4 2254.1,3926.3 2255.0,3926.7 2255.9,3927.2 2256.9,3927.4 2257.8,3927.4 2258.8,3926.9 2259.7,3927.3 2260.6,3928.1 2261.6,3928.3 2262.5,3928.6 2263.4,3928.7 2264.4,3929.0 2265.3,3929.3 2266.2,3929.6 2267.1,3929.8 2267.9,3929.7 2268.7,3929.5 2269.5,3929.8 2270.3,3930.0 2271.1,3930.2 2271.9,3930.1 2272.7,3928.9 2273.4,3927.8 2274.2,3927.7 2275.0,3927.7 2275.8,3927.0 2276.6,3926.2 2277.5,3925.5 2278.4,3924.8 2279.4,3924.3 2280.2,3923.9 2281.0,3923.5 2281.9,3923.6 2282.8,3924.2 2283.8,3924.0 2284.5,3923.6 2285.2,3923.8 2285.9,3924.3 2286.7,3924.5 2287.4,3924.6 2288.1,3924.7" fill="none" stroke="#000" stroke-width="4.0" stroke-linejoin="bevel" stroke-linecap="round" shape-rendering="crispEdges"/>
<polyline points="507.0,3912.8 508.0,3913.1 509.0,3913.2 509.9,3912.9 510.9,3913.1 511.8,3913.5 512.8,3913.8 513.8,3914.0 514.7,3913.8 515.7,3914.1 516.6,3914.6 517.6,3913.5 518.6,3913.0 519.6,3913.4 520.6,3913.3 521.6,3913.0 522.6,3913.0 523.5,3913.1 524.5,3913.3 525.5,3913.5 526.5,3913.7 527.5,3913.7 528.5,3913.7 529.5,3913.7 530.4,3914.4 531.4,3914.6 532.4,3914.0 533.4,3913.0 534.4,3912.1 535.4,3912.9 536.4,3913.0 537.3,3912.6 538.3,3912.6 539.3,3912.8 540.3,3913.5 541.3,3913.3 542.3,3912.6 543.3,3911.9 544.3,3911.8 545.2,3912.7 546.2,3912.7 547.2,3912.4 548.2,3911.9 549.2,3911.8 550.2,3911.9 551.2,3911.9 552.1,3912.1 553.1,3912.3 554.1,3912.2 555.1,3912.0 556.1,3912.2 557.1,3912.6 558.1,3913.4 559.0,3912.5 560.0,3911.6 561.0,3911.5 562.0,3911.6 563.0,3911.8 564.0,3912.2 565.0,3912.3 566.0,3911.4 566.9,3911.8 567.9,3912.4 568.9,3911.2 569.9,3910.5 570.9,3910.5 571.9,3910.8 572.9,3911.0 573.8,3910.6 574.8,3910.4 575.8,3910.5 576.8,3910.8 577.8,3911.1 578.8,3911.1 579.7,3910.9 580.6,3910.6 581.4,3910.3 582.3,3910.2 583.2,3910.7 584.1,3911.0 585.0,3910.5 585.9,3910.1 586.8,3909.8 587.7,3910.0 588.5,3910.5 589.4,3909.8 590.3,3909.0 591.2,3909.3 592.1,3909.5 593.0,3909.6 593.9,3909.3 594.8,3908.6 595.6,3907.8 596.5,3907.1 597.4,3906.8 598.3,3906.5 599.2,3905.5 600.1,3904.6 601.0,3903.8 602.0,3903.0 602.9,3902.1 603.8,3902.2 604.6,3902.5 605.4,3901.7 606.2,3901.5 607.1,3903.3 607.9,3905.1 608.6,3906.0 609.3,3907.0 610.0,3907.6 610.9,3907.6 611.7,3908.0 612.6,3908.4 613.4,3908.4 614.3,3908.4 615.2,3908.4 616.1,3908.3 617.0,3907.8 617.8,3907.8 618.7,3908.4 619.6,3908.7 620.5,3908.9 621.4,3908.7 622.3,3908.5 623.2,3908.6 624.1,3908.7 624.9,3908.7 625.8,3908.6 626.7,3908.1 627.6,3908.2 628.5,3908.7 629.4,3907.6 630.3,3906.2 631.2,3906.6 632.0,3906.7 633.0,3905.7 634.0,3906.0 635.0,3907.4 636.0,3907.0 637.0,3907.0 638.0,3907.6 639.0,3907.1 639.9,3906.1 640.9,3905.4 641.9,3905.6 642.9,3906.9 643.9,3906.1 644.9,3905.2 645.9,3905.1 646.8,3905.3 647.8,3905.7 648.8,3906.0 649.8,3905.9 650.8,3905.4 651.8,3905.3 652.8,3905.4 653.7,3904.3 654.7,3904.5 655.7,3906.0 656.7,3905.4 657.7,3904.7 658.7,3904.7 659.7,3904.7 660.7,3904.8 661.6,3904.6 662.6,3904.4 663.6,3904.3 664.6,3903.9 665.6,3903.4 666.6,3903.7 667.6,3904.0 668.5,3904.1 669.5,3904.3 670.5,3904.3 671.5,3903.8 672.5,3903.6 673.5,3903.7 674.5,3903.8 675.4,3903.8 676.4,3903.9 677.4,3903.8 678.4,3903.7 679.4,3903.5 680.4,3903.3 681.4,3903.2 682.4,3903.8 683.3,3904.2 684.3,3903.9 685.3,3903.7 686.2,3903.6 687.1,3904.8 688.0,3905.7 688.9,3904.6 689.8,3903.8 690.6,3903.7 691.5,3903.4 692.4,3903.0 693.3,3902.5 694.2,3902.0 695.1,3902.7 696.0,3903.3 696.9,3902.8 697.7,3902.4 698.6,3902.3 699.5,3902.4 700.5,3902.3 701.4,3901.4 702.4,3900.3 703.2,3899.2 704.0,3898.0 704.8,3896.9 705.7,3895.9 706.5,3895.5 707.3,3894.9 708.0,3893.8 708.8,3892.7 709.5,3892.0 710.2,3892.1 710.9,3894.0 711.6,3896.1 712.3,3897.7 713.0,3899.3 713.7,3900.4 714.7,3901.4 715.6,3902.4 716.6,3903.3 717.4,3903.8 718.2,3904.2 719.0,3905.0 719.9,3905.6 720.8,3904.9 721.6,3904.3 722.5,3904.3 723.4,3904.3 724.2,3904.6 725.1,3904.4 726.0,3903.6 726.9,3903.9 727.8,3904.4 728.7,3904.0 729.7,3903.7 730.6,3904.2 731.5,3904.0 732.4,3903.1 733.3,3903.2 734.2,3903.7 735.1,3902.9 736.0,3902.3 737.0,3902.7 737.9,3903.0 738.7,3903.1 739.6,3903.2 740.5,3903.4 741.3,3903.8 742.2,3904.3 743.0,3904.3 743.9,3904.0 744.9,3902.4 745.8,3901.0 746.7,3900.5 747.6,3900.3 748.4,3900.3 749.2,3899.2 749.9,3897.4 750.7,3895.0 751.4,3892.3 752.1,3890.0 752.8,3888.6 753.5,3887.5 754.2,3885.8 754.9,3884.7 755.6,3886.3 756.3,3889.1 757.0,3892.3 757.8,3894.2 758.5,3894.2 759.2,3894.6 759.9,3894.9 760.8,3895.6 761.7,3895.7 762.5,3894.5 763.4,3893.4 764.3,3892.8 765.2,3893.1 766.1,3894.9 767.0,3895.5 767.9,3895.7 768.8,3896.6 769.7,3896.5 770.5,3895.9 771.4,3895.4 772.3,3894.5 773.2,3891.7 774.1,3887.8 775.0,3885.0 775.9,3881.8 776.6,3877.2 777.3,3871.9 777.8,3867.0 778.4,3863.2 779.1,3861.3 779.8,3859.8 780.3,3858.6 780.8,3857.8 781.5,3860.5 782.3,3866.0 782.6,3869.4 783.0,3873.4 783.3,3876.6 784.2,3881.8 785.1,3886.0 785.8,3888.8 786.5,3890.4 787.4,3891.8 788.3,3893.6 789.2,3894.7 790.1,3895.1 790.8,3894.2 791.5,3892.3 792.0,3890.6 792.6,3888.0 792.9,3884.4 793.3,3879.2 793.6,3873.7 793.9,3869.7 794.2,3865.5 794.4,3861.0 794.7,3856.1 794.9,3852.0 795.1,3847.7 795.3,3843.0 795.5,3838.1 795.8,3832.9 795.9,3827.8 796.1,3822.0 796.3,3816.8 796.5,3813.2 797.0,3807.5 797.5,3804.6 798.1,3803.1 798.6,3802.1 799.1,3803.7 799.7,3807.1 800.2,3810.9 800.7,3816.7 800.9,3819.7 801.1,3823.6 801.3,3828.3 801.4,3833.4 801.6,3838.6 801.8,3843.9 801.9,3847.9 802.0,3852.6 802.1,3857.5 802.3,3862.4 802.4,3866.7 802.5,3870.0 802.8,3875.2 803.0,3879.3 803.3,3883.3 803.6,3887.6 803.8,3892.6 804.0,3897.6 804.3,3900.5 805.2,3902.7 806.1,3903.3 806.9,3904.2 807.8,3904.7 808.8,3904.5 809.7,3904.5 810.7,3905.2 811.5,3904.9 812.3,3903.9 813.2,3903.5 814.1,3903.8 815.0,3905.0 816.0,3906.2 816.8,3906.7 817.7,3907.2 818.5,3907.5 819.4,3907.6 820.3,3907.4 821.1,3907.4 822.0,3907.7 822.9,3908.3 823.8,3909.0 824.7,3908.4 825.6,3907.9 826.5,3908.2 827.5,3907.8 828.4,3906.9 829.3,3906.0 830.1,3905.0 830.9,3903.6 831.8,3901.4 832.7,3900.3 833.6,3899.1 834.5,3895.6 835.2,3891.3 835.9,3886.6 836.6,3881.8 837.3,3877.2 838.0,3874.1 838.7,3871.2 839.3,3868.6 839.8,3866.0 840.5,3863.7 841.2,3861.4 841.7,3859.3 842.3,3855.9 842.4,3853.8 842.6,3850.1 842.7,3845.5 842.9,3840.2 843.0,3834.6 843.2,3829.0 843.3,3824.0 843.5,3819.2 843.6,3814.1 843.8,3808.9 843.9,3803.9 844.1,3799.2 844.3,3795.0 844.4,3791.6 844.8,3785.4 845.1,3780.6 845.5,3776.4 845.8,3772.4 846.2,3767.7 846.5,3763.4 846.9,3761.5 847.2,3763.3 847.6,3767.5 848.0,3773.0 848.3,3778.5 848.5,3781.8 848.7,3785.5 848.9,3789.7 849.2,3794.3 849.4,3799.5 849.5,3803.2 849.6,3807.6 849.8,3812.3 849.9,3817.4 850.0,3822.7 850.2,3828.0 850.3,3833.3 850.4,3838.3 850.6,3843.4 850.7,3848.9 850.8,3854.6 851.0,3860.2 851.1,3865.6 851.2,3870.4 851.4,3874.4 851.5,3877.4 851.9,3883.0 852.2,3887.2 852.6,3890.7 852.9,3894.0 853.5,3899.4 854.0,3902.8 854.9,3903.8 855.8,3904.2 856.7,3903.8 857.5,3903.3 858.4,3901.0 859.3,3897.6 860.2,3895.6 861.1,3891.9 861.6,3888.1 862.0,3883.1 862.5,3878.0 862.9,3874.0 863.2,3869.8 863.6,3866.4 864.1,3862.7 864.6,3860.3 865.2,3858.8 865.7,3858.0 866.2,3860.7 866.8,3865.7 867.1,3869.1 867.5,3873.1 867.8,3876.9 868.3,3881.8 868.8,3886.8 869.3,3891.7 869.7,3896.4 870.2,3900.8 870.7,3902.7 871.4,3903.7 872.1,3904.8 872.8,3906.7 873.6,3908.6 874.5,3909.7 875.3,3910.7 876.1,3911.7 877.0,3912.3 877.8,3912.2 878.7,3912.4 879.7,3912.9 880.6,3912.7 881.5,3912.3 882.4,3912.7 883.3,3912.8 884.2,3912.0 885.1,3911.9 886.0,3912.5 886.8,3913.0 887.7,3913.2 888.6,3913.3 889.5,3913.3 890.4,3913.3 891.3,3913.3 892.2,3913.9 893.1,3913.6 893.9,3912.4 894.8,3912.2 895.7,3912.6 896.6,3912.3 897.5,3912.0 898.4,3911.9 899.3,3911.8 900.2,3911.6 901.0,3911.7 901.9,3912.1 902.8,3911.3 903.7,3909.6 904.6,3909.8 905.5,3910.2 906.4,3909.5 907.4,3908.6 908.3,3907.6 909.0,3907.7 909.7,3908.6 910.5,3909.5 911.2,3910.3 911.9,3911.2 912.6,3912.0 913.5,3912.7 914.4,3914.2 915.2,3915.0 916.1,3913.6 917.0,3913.4 917.9,3914.6 918.8,3914.9 919.7,3914.5 920.6,3915.3 921.5,3916.2 922.4,3915.6 923.2,3915.0 924.1,3914.4 925.0,3914.1 925.9,3914.4 926.8,3914.7 927.7,3915.0 928.6,3915.0 929.5,3915.0 930.3,3914.6 931.2,3913.8 932.1,3913.1 933.0,3912.4 933.9,3911.8 934.6,3912.2 935.3,3913.1 936.0,3913.8 936.7,3914.2 937.4,3914.6 938.2,3914.7 938.9,3914.1 939.6,3912.5 940.3,3910.7 941.1,3909.5 941.9,3908.4 942.8,3905.9 943.2,3903.0 943.7,3898.9 944.2,3894.6 944.7,3890.4 945.1,3885.7 945.6,3880.3 945.9,3876.5 946.2,3872.3 946.5,3867.6 946.7,3862.6 947.0,3857.4 947.2,3853.0 947.5,3848.1 947.7,3843.1 947.9,3838.4 948.1,3834.4 948.5,3829.0 948.8,3824.3 949.2,3820.2 949.5,3816.7 950.2,3810.1 950.9,3806.3 951.3,3807.6 951.6,3811.2 952.0,3816.3 952.4,3821.6 952.7,3826.5 953.1,3831.6 953.4,3837.2 953.8,3842.6 954.0,3846.6 954.3,3851.0 954.5,3855.6 954.7,3860.5 955.0,3865.5 955.2,3870.7 955.4,3875.9 955.6,3881.7 955.8,3887.4 956.1,3892.3 956.3,3895.8 956.7,3900.5 957.2,3903.4 957.7,3905.8 958.2,3908.7 958.8,3911.0 959.7,3912.7 960.6,3913.3 961.6,3913.6 962.4,3914.0 963.2,3914.6 964.1,3915.4 964.9,3915.2 965.7,3913.7 966.6,3912.5 967.5,3912.1 968.5,3910.6 969.4,3908.1 970.3,3905.6 971.2,3901.8 972.1,3896.4 973.0,3891.2 973.7,3888.1 974.4,3885.8 975.1,3884.5 975.8,3884.0 976.5,3885.4 977.2,3888.7 977.7,3892.2 978.1,3897.5 978.6,3903.4 979.1,3909.0 979.5,3913.3 980.0,3915.4 980.9,3916.1 981.9,3915.3 982.8,3916.2 983.8,3918.0 984.7,3918.3 985.7,3918.3 986.5,3917.8 987.3,3917.4 988.1,3917.2 988.9,3917.1 989.7,3917.0 990.5,3916.9 991.3,3916.7 992.1,3916.6 993.0,3916.5 994.0,3917.0 994.9,3917.7 995.6,3916.3 996.3,3914.1 997.0,3912.7 997.9,3912.0 998.7,3911.0 999.5,3909.3 1000.4,3905.3 1001.3,3900.2 1002.2,3895.7 1003.1,3893.1 1004.0,3893.2 1004.9,3893.2 1005.7,3892.9 1006.6,3893.1 1007.1,3891.7 1007.6,3888.0 1008.1,3883.6 1008.4,3880.4 1008.8,3876.6 1009.1,3871.5 1009.3,3868.8 1009.4,3865.2 1009.5,3860.8 1009.7,3855.9 1009.8,3850.7 1009.9,3845.4 1010.1,3840.3 1010.2,3835.4 1010.3,3830.8 1010.5,3826.1 1010.6,3821.3 1010.7,3816.6 1010.9,3811.9 1011.0,3807.4 1011.1,3803.1 1011.2,3799.0 1011.4,3794.0 1011.6,3789.1 1011.8,3784.3 1012.0,3779.8 1012.1,3775.4 1012.3,3771.1 1012.5,3767.0 1012.7,3763.1 1012.9,3758.1 1013.1,3752.8 1013.3,3747.9 1013.5,3744.4 1013.7,3743.1 1013.9,3744.7 1014.1,3748.5 1014.3,3753.9 1014.4,3759.9 1014.6,3765.9 1014.8,3771.1 1015.0,3775.5 1015.2,3779.7 1015.3,3783.8 1015.5,3787.9 1015.7,3792.1 1015.9,3796.5 1016.0,3801.2 1016.2,3806.3 1016.3,3810.1 1016.5,3814.2 1016.6,3818.7 1016.7,3823.3 1016.8,3828.1 1016.9,3832.9 1017.1,3837.6 1017.2,3842.2 1017.3,3846.6 1017.4,3851.7 1017.6,3857.0 1017.7,3862.5 1017.8,3867.9 1018.0,3872.9 1018.1,3877.4 1018.2,3881.2 1018.4,3884.1 1018.7,3889.5 1019.1,3893.5 1019.4,3896.9 1019.8,3900.3 1020.1,3904.5 1020.5,3908.6 1020.8,3911.1 1021.7,3913.5 1022.5,3915.0 1023.3,3916.3 1024.3,3917.2 1025.2,3917.4 1026.2,3917.5 1027.1,3917.5 1027.9,3917.6 1028.8,3917.9 1029.7,3919.3 1030.6,3919.8 1031.5,3918.9 1032.4,3918.5 1033.3,3918.5 1034.2,3919.1 1035.2,3919.1 1036.1,3917.4 1036.9,3916.3 1037.8,3915.7 1038.6,3914.0 1039.5,3909.7 1040.4,3904.7 1041.3,3900.1 1042.1,3894.6 1042.5,3891.5 1042.9,3887.6 1043.2,3883.3 1043.6,3878.9 1043.8,3875.2 1044.1,3871.1 1044.4,3867.0 1044.6,3863.5 1045.0,3859.4 1045.3,3855.8 1045.7,3852.8 1046.2,3848.5 1046.8,3846.3 1047.3,3849.3 1047.8,3854.5 1048.3,3858.5 1048.8,3862.8 1049.2,3868.0 1049.5,3872.2 1049.8,3877.3 1050.0,3882.7 1050.3,3887.4 1050.7,3893.1 1051.0,3898.7 1051.4,3903.2 1051.7,3905.9 1052.4,3908.2 1053.2,3910.2 1053.9,3912.6 1054.6,3913.8 1055.5,3913.5 1056.5,3912.4 1057.4,3910.9 1058.2,3911.0 1059.1,3911.0 1059.9,3909.6 1060.7,3908.5 1061.6,3908.1 1062.4,3907.7 1063.3,3906.3 1064.3,3905.4 1065.2,3904.9 1065.9,3905.4 1066.6,3906.1 1067.4,3906.4 1068.1,3906.3 1068.8,3906.2 1069.5,3906.1 1070.0,3905.4 1070.6,3904.3 1071.1,3903.3 1071.6,3902.7 1072.5,3904.9 1073.4,3908.3 1074.3,3911.2 1075.2,3912.9 1076.1,3912.6 1076.9,3912.4 1077.8,3912.2 1078.7,3911.8 1079.4,3909.1 1080.1,3903.9 1080.6,3900.3 1081.1,3896.5 1081.6,3892.2 1081.9,3888.5 1082.3,3884.3 1082.6,3880.1 1083.0,3875.1 1083.3,3871.9 1083.9,3871.1 1084.4,3871.0 1084.9,3870.4 1085.5,3869.6 1086.0,3872.8 1086.5,3878.6 1087.0,3882.6 1087.5,3886.5 1088.0,3890.4 1088.4,3894.4 1088.9,3898.4 1089.4,3901.9 1090.1,3907.0 1090.8,3909.6 1091.7,3910.4 1092.6,3911.4 1093.5,3910.1 1094.3,3908.4 1095.1,3907.0 1095.8,3905.0 1096.5,3903.5 1097.2,3902.1 1097.9,3900.7 1098.6,3900.1 1099.3,3900.6 1100.0,3901.2 1100.7,3901.8 1101.4,3903.3 1102.2,3905.9 1102.9,3909.0 1103.6,3911.9 1104.3,3913.6 1105.2,3913.1 1106.1,3911.4 1107.0,3909.0 1107.8,3908.4 1108.7,3910.5 1109.6,3913.0 1110.5,3915.0 1111.4,3916.7 1112.3,3917.5 1113.2,3917.9 1114.1,3918.3 1114.9,3918.4 1115.7,3918.4 1116.4,3917.7 1117.1,3916.6 1117.8,3915.2 1118.5,3913.7 1119.2,3911.9 1119.9,3910.1 1120.6,3908.4 1121.3,3906.9 1122.0,3905.8 1122.8,3904.8 1123.5,3904.6 1124.4,3907.1 1125.2,3910.2 1126.1,3912.5 1127.0,3915.5 1127.7,3917.4 1128.4,3917.8 1129.1,3917.9 1130.0,3918.8 1130.9,3919.4 1131.8,3919.3 1132.6,3918.9 1133.4,3918.6 1134.4,3918.3 1135.3,3916.7 1136.2,3915.6 1137.1,3914.5 1138.0,3912.5 1138.9,3910.2 1139.8,3905.6 1140.3,3901.9 1140.7,3897.5 1141.2,3893.7 1141.7,3889.4 1142.2,3884.9 1142.6,3881.1 1143.2,3878.0 1143.7,3875.6 1144.2,3873.7 1144.8,3872.9 1145.3,3875.5 1145.8,3879.9 1146.4,3884.2 1146.9,3889.0 1147.4,3893.3 1147.9,3897.6 1148.3,3901.6 1148.8,3906.0 1149.3,3910.6 1149.7,3913.8 1150.5,3915.8 1151.2,3916.1 1151.9,3916.3 1152.6,3917.4 1153.3,3918.4 1154.0,3919.6 1155.0,3920.6 1155.9,3920.2 1156.8,3919.5 1157.7,3918.5 1158.5,3918.0 1159.3,3918.4 1160.2,3918.2 1161.0,3917.4 1161.8,3916.6 1162.5,3915.8 1163.2,3914.9 1163.9,3913.9 1164.7,3913.0 1165.4,3912.3 1166.1,3911.6 1166.8,3911.0 1167.5,3910.5 1168.2,3910.1 1169.1,3908.3 1170.0,3905.5 1170.9,3902.8 1171.8,3901.2 1172.5,3901.3 1173.2,3901.8 1173.9,3902.4 1174.6,3903.7 1175.3,3907.4 1176.0,3911.8 1176.7,3915.2 1177.4,3917.3 1178.2,3918.3 1178.9,3919.0 1179.6,3920.0 1180.3,3921.2 1181.0,3921.5 1181.7,3920.8 1182.5,3919.9 1183.4,3919.3 1184.2,3919.0 1185.0,3919.0 1185.8,3918.1 1186.7,3916.2 1187.4,3915.5 1188.1,3915.8 1188.8,3915.5 1189.6,3913.4 1190.5,3911.6 1191.3,3910.3 1192.2,3907.8 1193.1,3904.8 1194.0,3902.1 1194.8,3900.7 1195.6,3901.7 1196.3,3903.3 1197.0,3905.3 1197.7,3907.7 1198.4,3910.0 1199.1,3911.6 1199.6,3913.3 1200.2,3914.7 1200.9,3915.4 1201.6,3915.8 1202.3,3915.7 1203.0,3915.4 1203.7,3914.7 1204.4,3913.9 1205.3,3912.8 1206.2,3911.4 1207.1,3909.5 1208.0,3907.0 1208.7,3903.5 1209.4,3899.3 1210.1,3895.4 1210.8,3893.3 1211.4,3894.1 1211.9,3895.6 1212.4,3897.1 1213.0,3898.8 1213.7,3902.0 1214.4,3905.1 1215.3,3908.0 1216.2,3909.8 1217.0,3910.3 1217.9,3910.1 1218.8,3909.6 1219.7,3909.6 1220.6,3908.9 1221.5,3906.2 1222.4,3903.3 1223.3,3902.0 1224.1,3902.5 1225.0,3903.2 1225.9,3903.8 1226.8,3904.4 1227.7,3903.0 1228.6,3900.7 1229.5,3899.9 1230.4,3898.5 1230.7,3896.0 1231.1,3891.5 1231.4,3886.1 1231.6,3882.8 1231.8,3878.8 1232.0,3874.4 1232.1,3870.1 1232.3,3865.9 1232.5,3861.7 1232.7,3857.5 1232.8,3853.0 1233.0,3848.4 1233.2,3843.5 1233.3,3839.0 1233.5,3833.8 1233.6,3828.6 1233.8,3823.9 1233.9,3820.4 1234.3,3814.5 1234.6,3810.0 1235.0,3806.1 1235.3,3801.5 1235.7,3798.9 1236.0,3801.0 1236.4,3805.4 1236.7,3809.4 1237.3,3814.2 1237.8,3816.8 1238.3,3815.0 1238.9,3811.2 1239.2,3809.0 1239.6,3805.5 1239.7,3803.3 1239.8,3799.6 1239.9,3795.0 1240.0,3789.9 1240.1,3784.4 1240.2,3778.9 1240.3,3773.9 1240.4,3769.9 1240.5,3765.9 1240.6,3761.9 1240.7,3757.8 1240.7,3753.5 1240.8,3749.1 1240.9,3744.4 1241.0,3739.3 1241.1,3735.5 1241.1,3731.4 1241.2,3727.1 1241.3,3722.6 1241.3,3718.0 1241.4,3713.2 1241.5,3708.2 1241.5,3702.9 1241.6,3697.6 1241.7,3692.1 1241.7,3686.4 1241.8,3682.5 1241.8,3678.6 1241.9,3674.5 1241.9,3670.2 1241.9,3665.8 1242.0,3661.0 1242.0,3656.0 1242.1,3650.7 1242.1,3646.9 1242.1,3642.7 1242.2,3638.2 1242.2,3633.5 1242.2,3628.5 1242.2,3623.4 1242.3,3618.1 1242.3,3612.7 1242.3,3607.2 1242.4,3601.7 1242.4,3596.1 1242.4,3590.6 1242.5,3585.2 1242.5,3579.9 1242.5,3574.7 1242.5,3569.7 1242.6,3564.9 1242.6,3560.3 1242.6,3554.7 1242.7,3549.3 1242.7,3544.0 1242.8,3538.9 1242.8,3533.9 1242.8,3528.9 1242.9,3524.0 1242.9,3519.2 1242.9,3514.3 1243.0,3509.5 1243.0,3504.7 1243.0,3499.9 1243.1,3495.0 1243.1,3490.0 1243.2,3485.0 1243.2,3479.9 1243.2,3475.1 1243.3,3470.6 1243.3,3466.2 1243.3,3462.0 1243.4,3457.8 1243.4,3453.7 1243.4,3449.6 1243.5,3445.5 1243.5,3441.2 1243.6,3436.9 1243.6,3432.5 1243.6,3427.8 1243.7,3423.0 1243.7,3417.8 1243.7,3412.4 1243.8,3406.6 1243.8,3400.4 1243.8,3393.9 1243.9,3386.8 1243.9,3379.3 1243.9,3376.8 1243.9,3374.1 1243.9,3371.3 1243.9,3368.2 1244.0,3365.0 1244.0,3361.6 1244.0,3358.0 1244.0,3354.3 1244.0,3350.4 1244.0,3346.3 1244.0,3342.2 1244.0,3337.8 1244.0,3333.4 1244.1,3328.8 1244.1,3324.1 1244.1,3319.3 1244.1,3314.4 1244.1,3309.3 1244.1,3304.2 1244.1,3299.0 1244.1,3293.7 1244.1,3288.3 1244.1,3282.9 1244.2,3277.3 1244.2,3271.8 1244.2,3266.1 1244.2,3260.4 1244.2,3254.7 1244.2,3248.9 1244.2,3243.1 1244.2,3237.2 1244.2,3231.4 1244.3,3225.5 1244.3,3219.6 1244.3,3213.7 1244.3,3207.8 1244.3,3201.9 1244.3,3196.0 1244.3,3190.1 1244.3,3184.3 1244.3,3178.5 1244.3,3172.7 1244.4,3167.0 1244.4,3161.3 1244.4,3155.7 1244.4,3150.1 1244.4,3144.6 1244.4,3139.1 1244.4,3133.8 1244.4,3128.5 1244.4,3123.3 1244.5,3118.2 1244.5,3113.2 1244.5,3108.3 1244.5,3103.5 1244.5,3098.8 1244.5,3093.4 1244.5,3088.0 1244.5,3082.6 1244.5,3077.1 1244.6,3071.7 1244.6,3066.2 1244.6,3060.8 1244.6,3055.3 1244.6,3049.8 1244.6,3044.4 1244.6,3038.9 1244.7,3033.5 1244.7,3028.1 1244.7,3022.7 1244.7,3017.3 1244.7,3012.0 1244.7,3006.6 1244.7,3001.3 1244.7,2996.1 1244.8,2990.9 1244.8,2985.7 1244.8,2980.5 1244.8,2975.5 1244.8,2970.4 1244.8,2965.4 1244.8,2960.5 1244.8,2955.6 1244.8,2950.8 1244.9,2946.0 1244.9,2941.4 1244.9,2936.7 1244.9,2932.2 1244.9,2927.7 1244.9,2923.4 1244.9,2919.1 1245.0,2914.9 1245.0,2910.7 1245.0,2906.7 1245.0,2902.8 1245.0,2899.0 1245.0,2892.8 1245.0,2886.5 1245.1,2880.1 1245.1,2873.5 1245.1,2866.9 1245.1,2860.3 1245.1,2853.7 1245.2,2847.2 1245.2,2840.7 1245.2,2834.3 1245.2,2828.1 1245.2,2822.1 1245.3,2816.3 1245.3,2810.8 1245.3,2805.5 1245.3,2800.6 1245.3,2796.1 1245.4,2792.0 1245.4,2788.3 1245.4,2785.1 1245.4,2782.3 1245.4,2780.2 1245.5,2778.6 1245.5,2777.6 1245.5,2777.3 1245.5,2777.7 1245.5,2778.7 1245.6,2780.4 1245.6,2782.7 1245.6,2785.6 1245.6,2788.9 1245.6,2792.8 1245.7,2797.1 1245.7,2801.8 1245.7,2806.9 1245.7,2812.3 1245.7,2818.0 1245.8,2823.9 1245.8,2830.1 1245.8,2836.4 1245.8,2842.8 1245.8,2849.3 1245.9,2855.8 1245.9,2862.4 1245.9,2868.9 1245.9,2875.4 1245.9,2881.7 1246.0,2887.9 1246.0,2893.9 1246.0,2899.6 1246.0,2903.9 1246.0,2908.2 1246.0,2912.5 1246.1,2916.9 1246.1,2921.4 1246.1,2925.9 1246.1,2930.5 1246.1,2935.1 1246.1,2939.7 1246.2,2944.4 1246.2,2949.2 1246.2,2954.0 1246.2,2958.8 1246.2,2963.7 1246.2,2968.6 1246.2,2973.5 1246.3,2978.5 1246.3,2983.5 1246.3,2988.6 1246.3,2993.6 1246.3,2998.8 1246.3,3003.9 1246.3,3009.1 1246.4,3014.3 1246.4,3019.5 1246.4,3024.7 1246.4,3030.0 1246.4,3035.3 1246.4,3040.6 1246.4,3045.9 1246.5,3051.3 1246.5,3056.6 1246.5,3062.0 1246.5,3067.4 1246.5,3072.8 1246.5,3078.2 1246.6,3083.7 1246.6,3089.1 1246.6,3094.5 1246.6,3100.0 1246.6,3104.6 1246.6,3109.3 1246.6,3114.1 1246.6,3119.0 1246.7,3123.9 1246.7,3129.0 1246.7,3134.1 1246.7,3139.4 1246.7,3144.6 1246.7,3150.0 1246.7,3155.4 1246.8,3160.8 1246.8,3166.4 1246.8,3171.9 1246.8,3177.5 1246.8,3183.1 1246.8,3188.8 1246.8,3194.5 1246.8,3200.2 1246.8,3205.9 1246.9,3211.6 1246.9,3217.3 1246.9,3223.1 1246.9,3228.8 1246.9,3234.5 1246.9,3240.2 1246.9,3245.9 1246.9,3251.5 1247.0,3257.2 1247.0,3262.8 1247.0,3268.3 1247.0,3273.8 1247.0,3279.3 1247.0,3284.7 1247.0,3290.1 1247.0,3295.4 1247.1,3300.6 1247.1,3305.7 1247.1,3310.8 1247.1,3315.8 1247.1,3320.7 1247.1,3325.5 1247.1,3330.2 1247.1,3334.8 1247.2,3339.3 1247.2,3343.7 1247.2,3348.0 1247.2,3352.1 1247.2,3356.2 1247.2,3360.1 1247.2,3363.8 1247.2,3367.4 1247.3,3370.9 1247.3,3374.2 1247.3,3377.4 1247.3,3380.4 1247.3,3387.2 1247.4,3393.6 1247.4,3399.8 1247.4,3405.6 1247.5,3411.1 1247.5,3416.4 1247.5,3421.5 1247.5,3426.4 1247.6,3431.2 1247.6,3435.8 1247.6,3440.3 1247.7,3444.7 1247.7,3449.1 1247.7,3453.4 1247.8,3457.8 1247.8,3462.2 1247.8,3466.6 1247.8,3471.2 1247.9,3475.8 1247.9,3480.6 1247.9,3485.7 1248.0,3490.6 1248.0,3495.4 1248.0,3500.2 1248.1,3505.0 1248.1,3509.7 1248.1,3514.5 1248.2,3519.2 1248.2,3524.0 1248.2,3528.9 1248.2,3533.8 1248.3,3538.8 1248.3,3544.0 1248.3,3549.3 1248.4,3554.8 1248.4,3560.4 1248.4,3564.8 1248.4,3569.4 1248.5,3574.3 1248.5,3579.3 1248.5,3584.4 1248.5,3589.6 1248.6,3595.0 1248.6,3600.3 1248.6,3605.7 1248.6,3611.1 1248.7,3616.4 1248.7,3621.7 1248.7,3626.9 1248.7,3631.9 1248.8,3636.8 1248.8,3641.5 1248.8,3645.9 1248.8,3650.2 1248.9,3655.7 1248.9,3660.9 1248.9,3666.0 1249.0,3670.8 1249.0,3675.5 1249.0,3680.1 1249.0,3684.7 1249.1,3689.3 1249.1,3693.8 1249.1,3698.5 1249.2,3703.3 1249.2,3708.2 1249.2,3713.4 1249.3,3718.7 1249.3,3724.1 1249.3,3729.4 1249.4,3734.6 1249.4,3739.7 1249.4,3744.5 1249.5,3748.9 1249.5,3752.9 1249.5,3756.4 1249.6,3762.9 1249.7,3768.6 1249.7,3773.6 1249.8,3778.1 1249.9,3782.3 1250.0,3786.4 1250.0,3790.7 1250.1,3795.2 1250.2,3800.3 1250.2,3806.1 1250.3,3810.6 1250.3,3816.0 1250.4,3821.9 1250.4,3828.0 1250.5,3833.7 1250.5,3838.8 1250.6,3842.7 1250.6,3845.2 1250.9,3852.9 1251.1,3857.7 1251.4,3861.0 1251.7,3864.2 1252.0,3868.5 1252.4,3872.2 1252.7,3875.8 1253.2,3881.0 1253.7,3885.8 1254.1,3890.5 1254.7,3895.2 1255.2,3899.0 1255.9,3902.0 1256.6,3904.3 1257.2,3906.5 1257.7,3908.0 1258.4,3908.2 1259.1,3908.1 1259.8,3908.1 1260.7,3908.3 1261.5,3907.5 1262.3,3906.6 1263.1,3905.4 1264.0,3904.4 1264.8,3904.3 1265.5,3904.1 1266.2,3904.0 1266.9,3904.0 1267.6,3906.2 1268.4,3909.7 1268.9,3911.9 1269.4,3913.6 1270.3,3915.9 1271.2,3918.5 1272.1,3920.8 1273.0,3921.7 1273.8,3921.5 1274.6,3921.6 1275.5,3921.5 1276.4,3921.1 1277.3,3920.8 1278.3,3920.7 1279.2,3920.9 1280.2,3921.5 1281.1,3922.2 1282.0,3923.0 1282.8,3924.0 1283.6,3924.0 1284.5,3922.6 1285.4,3921.3 1286.3,3920.2 1287.2,3918.8 1288.1,3918.0 1288.9,3917.3 1289.8,3916.6 1290.7,3916.1 1291.6,3917.3 1292.5,3919.5 1293.4,3920.2 1294.3,3920.7 1295.1,3921.6 1295.9,3922.5 1296.8,3923.7 1297.7,3924.7 1298.7,3925.0 1299.6,3924.9 1300.5,3924.6 1301.4,3924.8 1302.3,3925.0 1303.2,3925.2 1304.0,3925.5 1304.9,3926.3 1305.8,3926.2 1306.7,3925.0 1307.6,3924.2 1308.5,3923.6 1309.4,3923.6 1310.3,3923.8 1311.2,3923.6 1312.1,3923.3 1313.1,3922.4 1313.8,3921.7 1314.5,3920.9 1315.2,3919.8 1315.9,3918.2 1316.6,3916.6 1317.4,3914.8 1318.1,3913.0 1318.8,3911.4 1319.5,3910.0 1320.2,3908.8 1320.9,3907.9 1321.6,3907.7 1322.5,3908.0 1323.4,3908.5 1324.3,3908.9 1325.2,3909.3 1326.1,3910.6 1326.9,3913.7 1327.8,3916.8 1328.7,3918.1 1329.4,3918.7 1330.1,3919.6 1330.9,3920.4 1331.7,3922.5 1332.5,3924.7 1333.3,3925.1 1334.2,3924.5 1335.1,3924.0 1336.0,3923.3 1336.9,3922.5 1337.6,3920.5 1338.3,3917.4 1338.8,3914.7 1339.4,3912.0 1339.9,3910.2 1340.4,3908.9 1341.0,3908.0 1341.5,3907.7 1342.2,3908.8 1342.9,3911.0 1343.6,3912.9 1344.3,3915.0 1345.1,3917.5 1345.8,3919.7 1346.7,3921.8 1347.5,3922.5 1348.4,3921.7 1349.3,3922.2 1350.2,3922.9 1351.1,3920.4 1352.0,3916.7 1352.9,3913.0 1353.8,3909.3 1354.6,3905.9 1355.5,3902.5 1356.4,3899.3 1357.3,3896.7 1358.2,3895.4 1359.0,3896.5 1359.9,3898.3 1360.7,3899.2 1361.4,3900.1 1362.1,3900.9 1362.8,3902.0 1363.7,3905.0 1364.6,3908.7 1365.5,3911.8 1366.4,3914.6 1367.1,3917.0 1367.8,3919.2 1368.5,3920.2 1369.2,3920.9 1369.9,3921.8 1370.6,3922.8 1371.6,3923.6 1372.5,3924.1 1373.5,3925.5 1374.3,3927.0 1375.1,3927.6 1376.0,3928.0 1376.8,3928.4 1377.6,3928.8 1378.4,3929.0 1379.4,3928.9 1380.3,3928.2 1381.3,3928.2 1382.2,3928.3 1383.2,3927.6 1384.1,3927.2 1384.9,3927.7 1385.8,3927.6 1386.6,3927.0 1387.4,3925.9 1388.3,3924.4 1389.1,3923.9 1390.0,3924.2 1391.0,3923.9 1391.9,3923.5 1392.9,3923.8 1393.8,3924.5 1394.8,3925.3 1395.6,3925.6 1396.4,3925.7 1397.3,3925.9 1398.1,3926.0 1399.0,3925.8 1399.9,3925.6 1400.8,3925.5 1401.7,3925.3 1402.6,3925.0 1403.5,3925.2 1404.4,3925.8 1405.2,3925.4 1406.0,3924.6 1406.8,3923.6 1407.8,3922.7 1408.7,3921.6 1409.7,3920.9 1410.6,3921.7 1411.6,3921.0 1412.5,3919.0 1413.4,3917.9 1414.2,3916.9 1415.0,3915.9 1415.8,3914.9 1416.7,3914.0 1417.5,3913.2 1418.2,3911.7 1418.9,3910.2 1419.6,3909.2 1420.3,3909.2 1421.1,3910.8 1421.8,3912.9 1422.5,3914.6 1423.2,3916.0 1423.9,3917.0 1424.8,3917.6 1425.8,3918.3 1426.7,3919.6 1427.6,3919.8 1428.4,3919.5 1429.2,3919.8 1430.0,3920.4 1430.9,3920.6 1431.7,3920.5 1432.7,3921.3 1433.6,3922.0 1434.5,3921.5 1435.3,3920.7 1436.0,3919.8 1436.7,3918.7 1437.4,3917.1 1438.1,3915.3 1438.8,3912.9 1439.3,3910.0 1439.8,3905.9 1440.2,3901.6 1440.7,3897.2 1441.2,3892.6 1441.6,3888.0 1442.1,3883.2 1442.6,3878.6 1443.1,3874.4 1443.8,3869.0 1444.5,3866.2 1445.2,3867.5 1445.9,3869.5 1446.6,3871.6 1447.3,3873.6 1448.0,3875.5 1448.8,3877.6 1449.6,3879.7 1450.5,3881.5 1451.4,3885.2 1452.3,3889.5 1453.2,3894.2 1454.1,3899.3 1455.0,3903.0 1455.9,3906.3 1456.7,3910.1 1457.6,3913.2 1458.5,3915.4 1459.3,3917.0 1460.1,3917.5 1461.1,3918.5 1462.0,3919.9 1463.0,3921.3 1463.9,3922.7 1464.8,3923.6 1465.8,3924.1 1466.6,3924.4 1467.5,3925.2 1468.3,3926.4 1469.1,3926.5 1469.9,3925.8 1470.8,3925.4 1471.7,3924.9 1472.7,3924.5 1473.6,3924.4 1474.4,3924.6 1475.2,3924.6 1476.0,3924.0 1476.8,3923.7 1477.6,3924.1 1478.4,3924.3 1479.2,3924.1 1480.0,3923.9 1481.0,3923.4 1481.9,3922.3 1482.9,3920.9 1483.9,3920.6 1484.9,3920.6 1485.8,3919.4 1486.8,3919.9 1487.7,3921.6 1488.5,3923.0 1489.4,3924.5 1490.2,3925.2 1491.0,3925.8 1491.8,3926.6 1492.7,3927.4 1493.6,3929.1 1494.6,3930.2 1495.5,3930.0 1496.4,3930.1 1497.2,3930.5 1498.1,3930.8 1498.9,3931.2 1499.8,3931.0 1500.7,3930.8 1501.6,3930.9 1502.5,3931.0 1503.5,3931.3 1504.4,3931.7 1505.3,3931.9 1506.2,3931.1 1507.1,3930.1 1507.9,3930.3 1508.8,3930.3 1509.7,3929.7 1510.6,3929.0 1511.5,3928.4 1512.3,3927.3 1513.1,3925.9 1514.0,3925.5 1514.9,3925.7 1515.9,3924.5 1516.8,3923.6 1517.5,3923.9 1518.2,3924.7 1518.9,3925.4 1519.7,3926.0 1520.4,3927.3 1521.1,3928.7 1521.8,3929.4 1522.5,3929.5 1523.2,3929.5 1524.0,3930.0 1524.9,3930.5 1525.7,3930.8 1526.5,3930.6 1527.4,3930.0 1528.2,3929.3 1529.1,3928.6 1530.1,3927.1 1531.0,3925.4 1531.9,3925.7 1532.8,3925.9 1533.7,3925.5 1534.6,3925.3 1535.5,3926.4 1536.3,3927.6 1537.2,3928.4 1538.1,3929.6 1539.0,3930.2 1539.9,3930.2 1540.8,3930.0 1541.7,3928.8 1542.6,3928.1 1543.5,3928.1 1544.3,3928.2 1545.2,3928.4 1545.9,3927.9 1546.6,3926.6 1547.4,3925.0 1548.1,3923.1 1548.8,3921.3 1549.5,3920.1 1550.4,3918.6 1551.3,3916.1 1552.2,3914.4 1553.0,3914.6 1553.9,3915.9 1554.8,3917.6 1555.7,3919.4 1556.6,3921.4 1557.3,3922.4 1558.0,3923.4 1558.7,3924.3 1559.6,3925.5 1560.4,3926.3 1561.2,3926.6 1562.1,3927.4 1563.0,3928.4 1563.9,3927.4 1564.8,3926.5 1565.6,3927.7 1566.5,3928.4 1567.4,3928.2 1568.3,3928.6 1569.2,3929.4 1570.1,3928.3 1571.0,3926.4 1571.9,3926.1 1572.7,3925.9 1573.6,3925.1 1574.5,3924.6 1575.4,3924.7 1576.3,3924.9 1577.2,3925.0 1578.1,3925.0 1579.0,3925.0 1579.9,3925.6 1580.7,3926.2 1581.6,3927.0 1582.5,3927.6 1583.3,3927.7 1584.2,3927.6 1585.0,3927.3 1585.9,3927.0 1586.9,3927.0 1587.8,3927.0 1588.8,3926.4 1589.7,3925.5 1590.7,3924.2 1591.5,3922.8 1592.3,3921.3 1593.2,3920.5 1594.1,3920.5 1594.9,3920.7 1595.8,3921.1 1596.7,3921.6 1597.6,3922.3 1598.5,3922.8 1599.4,3922.9 1600.3,3922.6 1601.1,3922.0 1601.9,3921.7 1602.8,3921.9 1603.7,3921.5 1604.6,3920.9 1605.6,3921.2 1606.5,3920.8 1607.5,3919.3 1608.4,3917.9 1609.3,3916.7 1610.1,3915.9 1610.9,3915.9 1611.6,3916.3 1612.3,3917.3 1613.1,3918.6 1613.9,3920.1 1614.7,3921.7 1615.5,3923.1 1616.5,3923.6 1617.4,3923.5 1618.4,3924.6 1619.2,3925.4 1620.0,3926.0 1620.8,3926.5 1621.6,3927.0 1622.5,3927.3 1623.4,3926.9 1624.2,3926.4 1625.1,3925.7 1626.0,3925.6 1626.9,3925.6 1627.8,3925.7 1628.7,3925.6 1629.6,3924.4 1630.5,3922.6 1631.3,3921.0 1632.2,3919.2 1632.8,3918.0 1633.3,3917.0 1634.0,3916.8 1634.7,3917.1 1635.6,3918.0 1636.5,3919.2 1637.4,3921.1 1638.3,3923.0 1639.0,3923.8 1639.7,3924.6 1640.4,3925.4 1641.2,3926.4 1642.1,3927.7 1642.9,3928.7 1643.8,3928.1 1644.7,3927.0 1645.5,3926.6 1646.4,3926.0 1647.3,3924.8 1648.2,3924.1 1649.1,3924.3 1650.0,3924.7 1650.9,3925.1 1651.8,3925.1 1652.6,3925.0 1653.5,3925.6 1654.4,3926.0 1655.3,3925.6 1656.2,3925.7 1657.1,3926.1 1658.0,3926.1 1658.9,3925.7 1659.8,3925.7 1660.6,3925.8 1661.5,3925.1 1662.4,3924.6 1663.3,3924.9 1664.2,3924.7 1665.0,3923.7 1665.8,3922.6 1666.7,3921.7 1667.6,3921.4 1668.6,3921.4 1669.5,3919.5 1670.4,3916.9 1671.3,3914.7 1672.2,3913.0 1673.1,3911.5 1674.0,3908.6 1674.8,3904.7 1675.7,3901.5 1676.6,3896.9 1676.8,3894.5 1677.0,3890.8 1677.3,3886.2 1677.5,3881.0 1677.7,3875.5 1677.8,3871.5 1678.0,3866.9 1678.1,3861.8 1678.3,3856.3 1678.4,3850.6 1678.5,3846.7 1678.6,3842.6 1678.7,3838.2 1678.8,3833.6 1678.8,3828.9 1678.9,3824.2 1679.0,3819.5 1679.1,3815.0 1679.2,3810.7 1679.3,3806.7 1679.4,3802.7 1679.5,3798.7 1679.5,3794.5 1679.6,3790.0 1679.7,3785.0 1679.8,3779.4 1679.9,3776.2 1679.9,3772.9 1680.0,3769.5 1680.0,3765.8 1680.1,3762.0 1680.1,3758.0 1680.1,3753.8 1680.2,3749.3 1680.2,3744.5 1680.3,3739.5 1680.3,3734.1 1680.4,3728.4 1680.4,3722.3 1680.5,3715.8 1680.5,3709.0 1680.5,3705.7 1680.6,3701.8 1680.6,3697.3 1680.6,3692.4 1680.6,3687.0 1680.6,3681.4 1680.7,3675.6 1680.7,3669.6 1680.7,3663.5 1680.7,3657.5 1680.7,3651.6 1680.8,3645.9 1680.8,3640.5 1680.8,3635.5 1680.8,3630.8 1680.8,3626.8 1680.9,3623.3 1680.9,3620.5 1680.9,3613.3 1681.0,3607.4 1681.1,3602.4 1681.1,3598.1 1681.2,3594.3 1681.3,3590.7 1681.3,3587.2 1681.4,3583.3 1681.5,3579.0 1681.5,3573.8 1681.6,3567.6 1681.6,3563.9 1681.7,3559.4 1681.7,3554.5 1681.7,3549.2 1681.8,3543.6 1681.8,3538.0 1681.8,3532.5 1681.8,3527.2 1681.9,3522.2 1681.9,3517.8 1681.9,3514.0 1682.0,3507.7 1682.1,3502.1 1682.1,3497.2 1682.2,3492.6 1682.3,3488.4 1682.3,3484.3 1682.4,3480.1 1682.5,3475.8 1682.5,3471.1 1682.6,3466.0 1682.7,3460.2 1682.7,3455.7 1682.7,3450.2 1682.8,3444.0 1682.8,3437.7 1682.9,3431.5 1682.9,3425.9 1682.9,3421.4 1683.0,3418.4 1683.0,3417.3 1683.0,3417.8 1683.1,3419.6 1683.1,3422.3 1683.1,3425.9 1683.1,3430.2 1683.2,3435.2 1683.2,3440.7 1683.2,3446.6 1683.3,3452.7 1683.3,3459.1 1683.3,3465.4 1683.3,3471.7 1683.4,3477.8 1683.4,3481.5 1683.4,3485.4 1683.4,3489.5 1683.4,3493.9 1683.4,3498.5 1683.5,3503.2 1683.5,3508.1 1683.5,3513.1 1683.5,3518.2 1683.5,3523.4 1683.5,3528.7 1683.6,3534.0 1683.6,3539.4 1683.6,3544.7 1683.6,3550.0 1683.6,3555.2 1683.6,3560.4 1683.7,3565.5 1683.7,3570.5 1683.7,3575.4 1683.7,3580.0 1683.7,3584.6 1683.7,3589.9 1683.8,3595.3 1683.8,3600.5 1683.8,3605.8 1683.8,3611.0 1683.8,3616.1 1683.9,3621.2 1683.9,3626.3 1683.9,3631.3 1683.9,3636.2 1683.9,3641.1 1684.0,3645.9 1684.0,3650.7 1684.0,3655.4 1684.0,3660.0 1684.0,3664.6 1684.1,3669.1 1684.1,3673.5 1684.1,3679.0 1684.1,3684.9 1684.1,3691.1 1684.2,3697.4 1684.2,3703.7 1684.2,3710.0 1684.2,3716.1 1684.3,3721.9 1684.3,3727.3 1684.3,3732.1 1684.3,3736.4 1684.4,3739.9 1684.4,3742.5 1684.4,3744.2 1684.4,3744.8 1684.5,3743.7 1684.6,3740.6 1684.7,3735.9 1684.8,3730.3 1684.9,3724.3 1685.0,3718.4 1685.1,3713.2 1685.1,3709.1 1685.3,3703.2 1685.4,3697.2 1685.6,3691.4 1685.8,3686.3 1685.9,3682.1 1686.1,3679.3 1686.2,3678.2 1686.3,3679.1 1686.4,3681.6 1686.5,3685.4 1686.6,3690.2 1686.7,3695.8 1686.8,3701.9 1686.9,3708.2 1687.0,3711.5 1687.0,3715.7 1687.1,3720.5 1687.1,3725.6 1687.1,3730.8 1687.2,3735.7 1687.2,3740.0 1687.3,3743.6 1687.4,3749.1 1687.5,3753.7 1687.5,3757.6 1687.6,3761.2 1687.7,3764.9 1687.8,3768.8 1687.9,3773.4 1688.0,3779.0 1688.0,3782.6 1688.1,3787.0 1688.1,3792.0 1688.2,3797.2 1688.2,3802.4 1688.2,3807.2 1688.3,3811.4 1688.3,3814.5 1688.5,3821.6 1688.6,3827.4 1688.7,3832.2 1688.9,3836.5 1689.0,3840.5 1689.1,3844.5 1689.3,3848.8 1689.4,3853.8 1689.5,3858.3 1689.6,3863.3 1689.7,3868.6 1689.8,3873.8 1689.9,3878.6 1690.0,3882.7 1690.1,3885.9 1690.4,3891.7 1690.6,3896.3 1690.9,3900.1 1691.2,3903.9 1691.5,3909.3 1691.9,3914.3 1692.2,3917.5 1693.0,3920.0 1693.7,3920.5 1694.4,3921.1 1695.3,3923.8 1696.2,3925.1 1697.0,3924.0 1697.8,3923.1 1698.6,3922.9 1699.3,3922.3 1700.1,3921.0 1700.8,3919.6 1701.7,3917.6 1702.5,3915.3 1703.4,3912.9 1704.3,3910.8 1705.0,3909.6 1705.7,3908.8 1706.6,3908.3 1707.5,3908.0 1708.4,3908.7 1709.3,3910.0 1710.0,3911.0 1710.7,3911.6 1711.4,3911.7 1712.1,3911.8 1712.8,3912.0 1713.6,3912.1 1714.3,3911.8 1715.0,3911.6 1715.7,3912.3 1716.4,3913.3 1717.1,3913.9 1717.8,3914.1 1718.5,3914.3 1719.2,3914.4 1719.9,3914.5 1720.7,3914.7 1721.4,3914.3 1722.1,3913.4 1723.0,3912.1 1723.8,3911.1 1724.6,3911.5 1725.3,3912.9 1726.0,3914.4 1726.7,3915.3 1727.4,3916.1 1728.1,3916.9 1728.9,3917.8 1729.8,3919.2 1730.6,3921.4 1731.3,3923.0 1732.0,3923.8 1732.7,3924.0 1733.7,3924.7 1734.6,3924.7 1735.6,3923.8 1736.4,3923.5 1737.2,3923.3 1738.0,3922.7 1738.8,3921.9 1739.6,3921.2 1740.4,3920.6 1741.2,3919.7 1742.0,3918.9 1742.7,3917.7 1743.4,3916.4 1744.1,3914.9 1744.8,3913.7 1745.5,3912.4 1746.2,3910.8 1746.9,3909.2 1747.6,3908.3 1748.4,3908.2 1749.1,3908.2 1749.8,3908.2 1750.5,3908.5 1751.2,3909.5 1751.9,3910.5 1752.8,3910.4 1753.7,3910.3 1754.6,3910.6 1755.5,3910.6 1756.3,3909.0 1757.2,3906.7 1758.1,3904.7 1759.0,3903.5 1759.9,3901.5 1760.8,3898.4 1761.7,3895.3 1762.6,3893.4 1763.3,3894.0 1764.0,3895.7 1764.7,3897.2 1765.5,3897.1 1766.3,3897.3 1767.2,3899.9 1768.0,3902.8 1768.8,3904.9 1769.7,3907.3 1770.4,3910.1 1771.1,3913.0 1771.8,3915.8 1772.6,3918.1 1773.4,3919.5 1774.3,3920.7 1775.1,3921.2 1775.9,3921.6 1776.8,3922.3 1777.7,3923.0 1778.7,3923.9 1779.6,3924.9 1780.5,3926.2 1781.4,3927.3 1782.3,3928.3 1783.2,3928.9 1784.0,3929.1 1784.9,3928.4 1785.8,3927.7 1786.7,3927.0 1787.6,3926.6 1788.5,3926.4 1789.4,3926.6 1790.3,3926.8 1791.1,3926.7 1792.0,3926.2 1792.9,3924.7 1793.8,3923.9 1794.7,3924.4 1795.6,3924.1 1796.5,3923.3 1797.4,3923.2 1798.2,3923.3 1799.0,3922.1 1799.8,3920.8 1800.6,3921.1 1801.4,3921.5 1802.2,3921.2 1803.0,3920.8 1803.8,3920.7 1804.7,3921.0 1805.6,3921.8 1806.6,3922.3 1807.4,3922.2 1808.2,3922.4 1809.0,3922.8 1809.8,3923.1 1810.6,3923.4 1811.4,3924.3 1812.3,3925.5 1813.2,3926.4 1814.2,3926.9 1815.1,3927.8 1816.0,3928.4 1816.9,3928.5 1817.8,3928.4 1818.7,3928.1 1819.6,3928.4 1820.4,3929.1 1821.3,3928.4 1822.2,3927.3 1823.1,3927.6 1824.0,3928.0 1824.9,3929.0 1825.8,3929.3 1826.7,3928.6 1827.5,3928.5 1828.4,3928.9 1829.3,3928.1 1830.2,3926.8 1831.1,3928.2 1832.0,3929.3 1832.9,3928.4 1833.8,3927.7 1834.6,3927.6 1835.5,3927.8 1836.4,3928.4 1837.3,3928.1 1838.2,3927.7 1839.1,3926.9 1840.0,3926.3 1840.9,3927.4 1841.7,3927.7 1842.6,3926.7 1843.5,3926.2 1844.4,3926.3 1845.3,3926.1 1846.2,3925.8 1847.1,3925.7 1848.0,3925.5 1848.8,3925.4 1849.7,3925.3 1850.6,3925.2 1851.5,3925.1 1852.4,3925.0 1853.3,3925.7 1854.2,3926.6 1855.1,3925.6 1856.0,3924.3 1856.8,3923.8 1857.7,3923.1 1858.6,3922.1 1859.5,3921.8 1860.4,3922.2 1861.3,3921.6 1862.2,3920.6 1863.2,3919.9 1864.1,3919.3 1864.9,3918.7 1865.8,3918.5 1866.6,3918.9 1867.4,3919.4 1868.3,3920.0 1869.1,3921.1 1870.0,3923.0 1871.0,3924.7 1871.9,3925.5 1872.9,3925.7 1873.8,3925.7 1874.8,3925.5 1875.6,3924.9 1876.4,3924.3 1877.3,3924.5 1878.1,3925.0 1878.9,3924.4 1879.7,3923.7 1880.7,3923.3 1881.6,3923.0 1882.6,3923.2 1883.5,3923.6 1884.5,3924.4 1885.4,3925.4 1886.3,3926.3 1887.1,3927.4 1887.9,3928.3 1888.7,3929.4 1889.6,3930.2 1890.4,3930.5 1891.1,3930.8 1891.8,3931.3 1892.5,3931.5 1893.5,3931.0 1894.5,3930.6 1895.5,3930.9 1896.4,3930.5 1897.4,3929.7 1898.4,3929.0 1899.4,3928.6 1900.3,3929.1 1901.2,3928.4 1902.0,3927.2 1902.9,3926.9 1903.8,3926.9 1904.6,3927.1 1905.5,3927.4 1906.4,3926.7 1907.4,3926.1 1908.3,3925.9 1909.2,3925.5 1910.0,3924.5 1910.9,3923.0 1911.7,3921.4 1912.4,3919.8 1913.1,3917.9 1913.8,3916.5 1914.5,3915.5 1915.3,3914.5 1916.0,3913.5 1916.7,3912.7 1917.4,3912.3 1918.1,3912.2 1918.8,3912.5 1919.5,3913.4 1920.2,3915.0 1920.9,3917.0 1921.6,3919.1 1922.4,3920.8 1923.3,3922.2 1924.3,3923.1 1925.2,3924.2 1926.1,3925.9 1927.1,3926.5 1928.0,3926.6 1929.0,3926.8 1930.0,3927.1 1931.0,3927.3 1931.9,3926.6 1932.8,3926.1 1933.6,3926.9 1934.4,3927.3 1935.2,3926.3 1935.9,3925.2 1936.7,3925.4 1937.5,3925.4 1938.3,3924.6 1939.1,3923.8 1939.8,3924.0 1940.6,3924.1 1941.4,3923.5 1942.2,3922.8 1943.0,3922.9 1943.8,3923.1 1944.5,3921.8 1945.3,3920.2 1946.1,3920.2 1946.9,3920.4 1947.7,3919.9 1948.5,3919.2 1949.4,3918.4 1950.1,3917.8 1950.8,3917.1 1951.6,3916.2 1952.3,3914.6 1953.1,3912.5 1953.9,3910.2 1954.7,3907.4 1955.3,3904.3 1955.9,3901.5 1956.6,3899.3 1957.2,3897.6 1957.8,3898.4 1958.4,3900.1 1959.2,3902.3 1960.0,3904.2 1960.9,3905.8 1961.9,3906.9 1962.6,3907.7 1963.3,3908.4 1964.1,3909.0 1964.9,3909.7 1965.7,3910.9 1966.6,3911.5 1967.5,3911.5 1968.4,3911.3 1969.4,3910.6 1970.3,3910.6 1971.2,3910.4 1972.0,3910.0 1972.7,3909.7 1973.4,3910.0 1974.4,3909.9 1975.3,3908.1 1976.2,3906.7 1977.2,3906.0 1978.0,3906.9 1978.8,3908.6 1979.7,3909.2 1980.6,3909.3 1981.6,3912.5 1982.5,3915.2 1983.4,3916.2 1984.4,3916.8 1985.2,3916.6 1985.9,3916.8 1986.7,3917.3 1987.5,3917.1 1988.3,3916.4 1989.1,3915.9 1989.8,3915.7 1990.6,3915.8 1991.4,3916.3 1992.2,3916.8 1993.0,3917.1 1993.8,3917.0 1994.5,3916.1 1995.3,3915.5 1996.1,3915.5 1996.9,3915.6 1997.8,3915.9 1998.8,3916.6 1999.7,3917.4 2000.6,3918.1 2001.4,3919.2 2002.2,3921.1 2003.0,3923.0 2003.8,3924.2 2004.7,3924.9 2005.6,3926.0 2006.4,3926.7 2007.1,3927.5 2007.8,3928.0 2008.6,3927.4 2009.4,3926.6 2010.2,3927.4 2011.1,3928.3 2011.9,3928.7 2012.8,3928.9 2013.8,3928.0 2014.7,3927.7 2015.6,3927.8 2016.6,3928.0 2017.5,3928.1 2018.4,3927.9 2019.4,3927.6 2020.2,3927.2 2021.0,3927.2 2021.8,3927.8 2022.6,3928.1 2023.4,3928.0 2024.2,3928.1 2025.0,3928.4 2025.8,3928.6 2026.6,3928.7 2027.3,3928.6 2028.1,3928.4 2028.9,3928.3 2029.7,3928.5 2030.6,3928.4 2031.6,3927.8 2032.5,3928.3 2033.3,3929.1 2034.2,3928.0 2035.0,3926.3 2035.8,3925.4 2036.6,3924.0 2037.3,3922.5 2038.1,3919.7 2038.4,3916.9 2038.6,3911.8 2038.8,3905.9 2039.1,3900.5 2039.3,3895.9 2039.5,3891.4 2039.8,3886.7 2040.0,3881.2 2040.1,3877.4 2040.2,3872.9 2040.4,3868.1 2040.5,3863.4 2040.6,3859.4 2040.8,3854.4 2041.0,3850.0 2041.2,3845.8 2041.4,3841.8 2041.6,3837.7 2041.8,3832.6 2042.0,3827.7 2042.2,3823.6 2042.5,3819.0 2042.8,3815.1 2043.1,3812.8 2043.8,3811.3 2044.4,3811.0 2044.6,3813.1 2044.8,3817.7 2045.0,3822.5 2045.2,3825.4 2045.3,3828.3 2045.5,3832.0 2045.6,3837.4 2045.7,3840.0 2045.7,3843.7 2045.8,3848.3 2045.8,3853.4 2045.8,3858.7 2045.9,3863.7 2045.9,3868.3 2046.0,3873.7 2046.0,3879.8 2046.1,3885.9 2046.1,3891.1 2046.2,3894.7 2046.2,3896.0 2046.5,3894.4 2046.7,3890.3 2047.0,3885.3 2047.2,3881.0 2047.5,3875.9 2047.8,3871.1 2048.1,3869.0 2048.8,3869.3 2049.4,3870.6 2049.6,3873.1 2049.8,3878.2 2050.0,3884.7 2050.1,3888.1 2050.2,3892.5 2050.2,3896.9 2050.3,3900.3 2050.5,3906.0 2050.7,3910.4 2050.9,3914.4 2051.1,3918.8 2051.4,3922.8 2051.6,3925.0 2052.3,3926.7 2053.1,3927.9 2053.9,3929.4 2054.7,3930.2 2055.5,3930.4 2056.2,3930.3 2057.0,3930.0 2057.8,3929.9 2058.6,3930.1 2059.4,3930.7 2060.2,3931.9 2060.9,3932.3 2061.7,3931.2 2062.5,3930.1 2063.3,3929.3 2064.1,3928.8 2064.8,3929.1 2065.6,3929.1 2066.4,3928.2 2067.2,3927.4 2067.9,3927.3 2068.6,3927.1 2069.4,3926.7 2070.2,3926.3 2071.0,3925.3 2071.9,3924.4 2072.7,3923.9 2073.4,3923.5 2074.2,3924.4 2075.0,3925.3 2075.8,3924.2 2076.6,3923.0 2077.3,3922.8 2078.1,3922.6 2079.1,3922.5 2080.0,3922.1 2080.9,3921.4 2081.9,3920.7 2082.8,3919.7 2083.8,3919.1 2084.7,3919.7 2085.6,3922.0 2086.6,3923.9 2087.5,3924.5 2088.3,3925.1 2089.1,3925.8 2089.8,3926.6 2090.6,3927.7 2091.4,3928.6 2092.2,3929.3 2093.0,3929.9 2093.8,3930.1 2094.7,3930.5 2095.6,3931.0 2096.6,3931.2 2097.5,3931.3 2098.4,3931.7 2099.4,3931.8 2100.3,3931.5 2101.2,3931.5 2102.2,3931.6 2103.1,3932.2 2104.0,3932.6 2104.9,3932.8 2105.8,3932.7 2106.7,3932.1 2107.6,3931.8 2108.5,3931.7 2109.4,3931.9 2110.3,3932.1 2111.2,3932.5 2112.1,3932.7 2112.9,3932.2 2113.8,3931.9 2114.7,3931.8 2115.6,3931.7 2116.5,3931.7 2117.4,3931.6 2118.3,3931.6 2119.2,3931.8 2120.1,3931.9 2121.0,3931.5 2121.9,3931.4 2122.8,3931.5 2123.7,3931.5 2124.6,3931.3 2125.4,3931.1 2126.3,3930.9 2127.2,3931.1 2128.1,3931.3 2128.9,3931.3 2129.7,3931.0 2130.5,3930.1 2131.2,3929.6 2132.0,3930.1 2132.8,3930.4 2133.6,3930.2 2134.4,3929.8 2135.2,3929.0 2136.0,3927.6 2136.9,3926.1 2137.6,3924.8 2138.3,3923.8 2139.1,3923.0 2139.8,3922.8 2140.5,3922.7 2141.2,3921.9 2142.2,3920.9 2143.1,3921.3 2144.1,3921.9 2145.0,3921.5 2145.9,3921.8 2146.9,3922.7 2147.7,3923.2 2148.4,3923.9 2149.2,3926.3 2150.0,3928.8 2150.8,3929.5 2151.6,3929.7 2152.3,3929.5 2153.1,3929.1 2153.9,3929.6 2154.7,3930.7 2155.5,3931.0 2156.2,3930.5 2157.2,3930.1 2158.1,3929.7 2159.1,3930.4 2160.0,3931.1 2160.9,3931.0 2161.9,3930.7 2162.8,3930.3 2163.8,3930.0 2164.7,3929.7 2165.6,3929.8 2166.6,3929.5 2167.5,3928.4 2168.4,3928.4 2169.4,3929.1 2170.3,3929.8 2171.2,3930.3 2172.2,3930.1 2173.1,3929.9 2174.1,3929.8 2175.0,3929.7 2175.9,3929.4 2176.9,3929.3 2177.8,3928.9 2178.8,3928.5 2179.7,3928.4 2180.6,3928.4 2181.6,3927.0 2182.5,3926.3 2183.4,3927.6 2184.4,3928.0 2185.3,3927.7 2186.2,3926.9 2187.2,3926.3 2188.1,3927.8 2188.9,3928.7 2189.8,3929.0 2190.6,3929.3 2191.4,3929.4 2192.2,3929.7 2193.0,3930.3 2193.9,3930.8 2194.8,3931.2 2195.6,3931.4 2196.6,3931.7 2197.5,3931.3 2198.4,3930.8 2199.4,3930.8 2200.2,3930.8 2201.1,3931.1 2202.0,3931.3 2202.9,3931.5 2203.8,3930.4 2204.6,3929.0 2205.4,3928.9 2206.2,3929.0 2207.0,3928.6 2207.8,3928.3 2208.7,3928.4 2209.6,3928.3 2210.5,3927.6 2211.4,3927.5 2212.2,3928.2 2213.1,3928.3 2214.1,3927.9 2215.0,3928.1 2215.9,3928.4 2216.9,3928.0 2217.8,3927.7 2218.8,3927.5 2219.7,3927.6 2220.6,3927.9 2221.6,3927.9 2222.5,3927.8 2223.4,3927.4 2224.4,3926.9 2225.3,3926.3 2226.2,3926.5 2227.2,3926.9 2228.1,3927.1 2229.1,3927.4 2230.0,3927.5 2230.9,3928.1 2231.9,3928.9 2232.8,3929.1 2233.8,3929.1 2234.7,3928.9 2235.6,3929.7 2236.6,3931.0 2237.5,3930.6 2238.3,3930.2 2239.1,3930.2 2239.8,3930.2 2240.6,3930.0 2241.4,3929.8 2242.2,3929.4 2243.0,3928.9 2243.8,3928.6 2244.7,3928.3 2245.6,3929.2 2246.6,3929.7 2247.5,3929.6 2248.4,3929.6 2249.4,3929.6 2250.3,3928.4 2251.2,3927.3 2252.2,3927.4 2253.1,3927.4 2254.1,3927.3 2255.0,3927.8 2255.9,3928.4 2256.9,3928.0 2257.8,3927.9 2258.8,3928.1 2259.7,3928.2 2260.6,3928.2 2261.6,3928.9 2262.5,3929.7 2263.4,3930.4 2264.4,3930.4 2265.3,3929.7 2266.2,3930.1 2267.1,3930.5 2267.9,3931.3 2268.7,3932.1 2269.5,3931.4 2270.3,3930.7 2271.1,3930.1 2271.9,3929.2 2272.7,3929.1 2273.4,3929.0 2274.2,3929.2 2275.0,3929.5 2275.8,3928.9 2276.6,3928.2 2277.5,3927.1 2278.4,3926.1 2279.4,3925.4 2280.2,3925.1 2281.0,3925.2 2281.9,3924.8 2282.8,3923.8 2283.8,3924.6 2284.5,3925.6 2285.2,3925.4 2285.9,3925.0 2286.7,3925.1 2287.4,3925.6 2288.1,3925.8" fill="none" stroke="#000" stroke-width="4.0" stroke-linejoin="bevel" stroke-linecap="round" shape-rendering="crispEdges"/>
<polyline points="507.0,3913.2 508.0,3913.3 509.0,3913.6 509.9,3914.5 510.9,3914.0 511.8,3912.9 512.8,3913.8 513.8,3914.2 514.7,3913.4 515.7,3914.0 516.6,3915.4 517.6,3915.1 518.6,3915.0 519.6,3915.5 520.6,3915.0 521.6,3914.4 522.6,3914.8 523.5,3914.8 524.5,3914.5 525.5,3914.3 526.5,3914.3 527.5,3914.6 528.5,3914.3 529.5,3913.7 530.4,3914.1 531.4,3914.4 532.4,3914.8 533.4,3914.7 534.4,3914.4 535.4,3914.1 536.4,3914.6 537.3,3915.6 538.3,3914.9 539.3,3914.1 540.3,3913.8 541.3,3913.9 542.3,3914.1 543.3,3913.8 544.3,3913.6 545.2,3913.6 546.2,3913.6 547.2,3913.8 548.2,3914.7 549.2,3914.7 550.2,3913.8 551.2,3913.7 552.1,3913.8 553.1,3914.0 554.1,3914.4 555.1,3914.9 556.1,3913.9 557.1,3913.2 558.1,3913.0 559.0,3914.0 560.0,3914.7 561.0,3913.0 562.0,3912.5 563.0,3912.9 564.0,3913.2 565.0,3913.7 566.0,3914.3 566.9,3913.4 567.9,3912.0 568.9,3911.3 569.9,3911.5 570.9,3912.7 571.9,3912.4 572.9,3912.0 573.8,3912.0 574.8,3912.1 575.8,3912.4 576.8,3912.2 577.8,3912.1 578.8,3912.0 579.7,3911.8 580.6,3911.4 581.4,3911.9 582.3,3912.4 583.2,3912.4 584.1,3912.2 585.0,3911.5 585.9,3911.1 586.8,3910.8 587.7,3911.0 588.5,3911.4 589.4,3911.3 590.3,3911.1 591.2,3910.4 592.1,3909.9 593.0,3910.0 593.9,3910.1 594.8,3910.3 595.6,3909.6 596.5,3908.6 597.4,3908.0 598.3,3907.3 599.2,3906.8 600.1,3906.3 601.0,3905.5 602.0,3904.7 602.9,3904.0 603.8,3902.8 604.6,3901.6 605.4,3902.5 606.2,3904.3 607.1,3904.9 607.9,3905.6 608.6,3906.4 609.3,3907.4 610.0,3908.5 610.9,3909.4 611.7,3909.5 612.6,3909.4 613.4,3909.4 614.3,3909.4 615.2,3909.9 616.1,3910.5 617.0,3911.0 617.8,3911.0 618.7,3910.3 619.6,3910.3 620.5,3910.6 621.4,3910.8 622.3,3910.8 623.2,3909.5 624.1,3908.4 624.9,3908.5 625.8,3908.8 626.7,3909.2 627.6,3908.7 628.5,3907.6 629.4,3907.8 630.3,3908.3 631.2,3908.8 632.0,3909.2 633.0,3909.0 634.0,3908.7 635.0,3908.5 636.0,3907.4 637.0,3907.2 638.0,3908.9 639.0,3908.8 639.9,3908.1 640.9,3908.1 641.9,3908.0 642.9,3907.8 643.9,3906.9 644.9,3906.1 645.9,3906.2 646.8,3906.2 647.8,3906.2 648.8,3907.5 649.8,3907.8 650.8,3906.5 651.8,3906.3 652.8,3906.4 653.7,3906.2 654.7,3906.3 655.7,3906.5 656.7,3906.4 657.7,3906.2 658.7,3906.0 659.7,3905.5 660.7,3904.7 661.6,3903.8 662.6,3903.8 663.6,3905.2 664.6,3905.4 665.6,3905.5 666.6,3905.8 667.6,3905.7 668.5,3905.0 669.5,3904.7 670.5,3904.6 671.5,3905.0 672.5,3904.6 673.5,3903.7 674.5,3903.9 675.4,3904.0 676.4,3904.0 677.4,3904.5 678.4,3905.1 679.4,3905.9 680.4,3905.9 681.4,3905.3 682.4,3905.4 683.3,3905.4 684.3,3905.0 685.3,3904.9 686.2,3904.9 687.1,3904.6 688.0,3904.3 688.9,3904.2 689.8,3903.9 690.6,3902.9 691.5,3902.7 692.4,3903.1 693.3,3903.1 694.2,3903.0 695.1,3903.7 696.0,3904.4 696.9,3904.2 697.7,3904.1 698.6,3904.2 699.5,3904.2 700.5,3903.9 701.4,3902.3 702.4,3900.7 703.2,3900.3 704.0,3899.8 704.8,3899.1 705.7,3898.1 706.5,3896.2 707.3,3894.9 708.0,3894.6 708.8,3894.3 709.5,3893.7 710.2,3893.9 710.9,3894.9 711.6,3896.0 712.3,3897.7 713.0,3900.0 713.7,3901.5 714.7,3902.2 715.6,3903.0 716.6,3904.1 717.4,3904.6 718.2,3904.9 719.0,3905.4 719.9,3905.6 720.8,3904.6 721.6,3904.2 722.5,3905.7 723.4,3906.6 724.2,3906.2 725.1,3905.7 726.0,3905.0 726.9,3904.6 727.8,3904.3 728.7,3904.6 729.7,3904.9 730.6,3905.1 731.5,3905.2 732.4,3905.0 733.3,3904.9 734.2,3904.9 735.1,3903.9 736.0,3903.2 737.0,3903.5 737.9,3904.1 738.7,3905.0 739.6,3905.0 740.5,3904.5 741.3,3903.9 742.2,3903.2 743.0,3903.3 743.9,3903.4 744.9,3902.8 745.8,3902.1 746.7,3901.5 747.6,3901.4 748.4,3901.4 749.2,3900.2 749.9,3898.3 750.7,3896.3 751.4,3894.6 752.1,3892.7 752.8,3890.4 753.5,3888.5 754.2,3886.8 754.9,3885.7 755.6,3887.3 756.3,3890.3 757.0,3894.2 757.8,3897.2 758.5,3897.6 759.2,3896.6 759.9,3895.7 760.8,3895.3 761.7,3895.0 762.5,3895.4 763.4,3895.1 764.3,3894.2 765.2,3893.8 766.1,3894.5 767.0,3896.4 767.9,3898.2 768.8,3897.7 769.7,3896.7 770.5,3897.1 771.4,3896.7 772.3,3895.0 773.2,3892.0 774.1,3888.1 775.0,3885.0 775.9,3881.5 776.6,3878.0 777.3,3873.8 777.8,3868.9 778.4,3864.6 779.1,3862.0 779.8,3860.1 780.3,3858.5 780.8,3857.7 781.5,3861.0 782.3,3867.0 782.6,3870.9 783.0,3875.3 783.3,3878.9 784.2,3884.5 785.1,3888.2 785.8,3890.8 786.5,3892.4 787.4,3894.0 788.3,3896.3 789.2,3896.9 790.1,3896.2 790.8,3894.8 791.5,3892.7 792.0,3890.9 792.6,3888.6 792.9,3885.3 793.3,3880.3 793.6,3874.9 793.9,3871.0 794.2,3866.8 794.4,3862.4 794.7,3857.7 794.9,3853.6 795.1,3849.3 795.3,3844.8 795.5,3840.0 795.8,3835.0 795.9,3830.0 796.1,3824.3 796.3,3819.2 796.5,3815.6 797.0,3809.9 797.5,3806.6 798.1,3804.7 798.6,3803.7 799.1,3805.5 799.7,3809.0 800.2,3812.6 800.7,3817.7 800.9,3820.5 801.1,3824.2 801.3,3828.6 801.4,3833.6 801.6,3838.9 801.8,3844.2 801.9,3848.2 802.0,3853.0 802.1,3858.0 802.3,3862.8 802.4,3867.2 802.5,3870.5 802.8,3875.9 803.0,3880.1 803.3,3884.1 803.6,3888.4 803.8,3893.4 804.0,3898.4 804.3,3901.3 805.2,3903.6 806.1,3904.4 806.9,3905.5 807.8,3906.3 808.8,3905.7 809.7,3905.2 810.7,3905.3 811.5,3905.2 812.3,3905.0 813.2,3904.8 814.1,3905.0 815.0,3905.7 816.0,3906.4 816.8,3907.0 817.7,3907.5 818.5,3907.9 819.4,3908.3 820.3,3909.2 821.1,3909.5 822.0,3909.5 822.9,3909.1 823.8,3908.7 824.7,3909.4 825.6,3910.1 826.5,3909.6 827.5,3908.9 828.4,3908.5 829.3,3907.5 830.1,3906.1 830.9,3905.0 831.8,3903.2 832.7,3900.9 833.6,3898.6 834.5,3896.1 835.2,3892.5 835.9,3887.9 836.6,3883.2 837.3,3878.7 838.0,3875.7 838.7,3872.8 839.3,3870.2 839.8,3867.6 840.5,3865.4 841.2,3863.2 841.7,3861.0 842.3,3857.4 842.4,3855.1 842.6,3851.5 842.7,3846.7 842.9,3841.3 843.0,3835.7 843.2,3830.2 843.3,3825.3 843.5,3820.5 843.6,3815.5 843.8,3810.4 843.9,3805.5 844.1,3800.8 844.3,3796.8 844.4,3793.4 844.8,3787.3 845.1,3782.1 845.5,3777.6 845.8,3773.3 846.2,3768.2 846.5,3763.8 846.9,3762.0 847.2,3763.8 847.6,3768.1 848.0,3773.5 848.3,3778.9 848.5,3782.2 848.7,3785.9 848.9,3790.0 849.2,3794.6 849.4,3799.7 849.5,3803.4 849.6,3807.8 849.8,3812.6 849.9,3817.8 850.0,3823.1 850.2,3828.4 850.3,3833.7 850.4,3838.8 850.6,3843.9 850.7,3849.5 850.8,3855.2 851.0,3860.9 851.1,3866.2 851.2,3871.0 851.4,3875.1 851.5,3878.1 851.9,3883.6 852.2,3887.8 852.6,3891.3 852.9,3894.8 853.5,3900.8 854.0,3904.6 854.9,3905.5 855.8,3905.5 856.7,3905.4 857.5,3905.1 858.4,3903.1 859.3,3899.8 860.2,3897.2 861.1,3893.5 861.6,3889.9 862.0,3885.2 862.5,3880.2 862.9,3876.2 863.2,3872.1 863.6,3868.7 864.1,3864.8 864.6,3861.8 865.2,3859.8 865.7,3858.9 866.2,3861.8 866.8,3867.2 867.1,3870.8 867.5,3874.6 867.8,3878.4 868.3,3883.3 868.8,3888.0 869.3,3892.5 869.7,3896.7 870.2,3900.5 870.7,3903.0 871.4,3904.9 872.1,3906.2 872.8,3907.6 873.6,3908.9 874.5,3909.2 875.3,3909.7 876.1,3910.8 877.0,3911.8 877.8,3912.9 878.7,3913.4 879.7,3913.2 880.6,3913.8 881.5,3914.4 882.4,3913.7 883.3,3913.4 884.2,3913.8 885.1,3914.2 886.0,3914.5 886.8,3914.3 887.7,3913.8 888.6,3913.9 889.5,3914.2 890.4,3915.5 891.3,3916.1 892.2,3914.8 893.1,3914.0 893.9,3913.8 894.8,3913.6 895.7,3913.4 896.6,3913.4 897.5,3913.4 898.4,3913.2 899.3,3913.1 900.2,3913.2 901.0,3913.2 901.9,3912.8 902.8,3912.1 903.7,3911.2 904.6,3910.7 905.5,3910.2 906.4,3909.0 907.4,3908.0 908.3,3907.6 909.0,3908.2 909.7,3909.4 910.5,3910.8 911.2,3912.2 911.9,3913.8 912.6,3914.3 913.5,3914.6 914.4,3915.2 915.2,3915.7 916.1,3916.0 917.0,3916.1 917.9,3915.9 918.8,3916.5 919.7,3917.5 920.6,3916.8 921.5,3915.7 922.4,3915.7 923.2,3915.7 924.1,3915.8 925.0,3916.1 925.9,3916.7 926.8,3916.6 927.7,3916.1 928.6,3915.8 929.5,3915.6 930.3,3916.1 931.2,3916.0 932.1,3915.3 933.0,3914.4 933.9,3913.4 934.6,3913.4 935.3,3914.0 936.0,3914.6 936.7,3915.5 937.4,3916.3 938.2,3916.5 938.9,3915.8 939.6,3914.4 940.3,3912.9 941.1,3911.1 941.9,3908.9 942.8,3906.6 943.2,3904.2 943.7,3900.6 944.2,3896.4 944.7,3892.3 945.1,3887.7 945.6,3882.1 945.9,3878.0 946.2,3873.5 946.5,3868.5 946.7,3863.2 947.0,3857.7 947.2,3853.5 947.5,3848.9 947.7,3844.1 947.9,3839.7 948.1,3836.0 948.5,3831.1 948.8,3826.5 949.2,3822.2 949.5,3818.5 950.2,3811.6 950.9,3808.1 951.3,3809.6 951.6,3813.4 952.0,3818.6 952.4,3823.8 952.7,3828.6 953.1,3833.6 953.4,3839.1 953.8,3844.3 954.0,3848.1 954.3,3852.3 954.5,3856.9 954.7,3861.6 955.0,3866.4 955.2,3871.4 955.4,3876.5 955.6,3882.1 955.8,3887.7 956.1,3892.5 956.3,3895.9 956.7,3900.3 957.2,3903.7 957.7,3906.7 958.2,3910.1 958.8,3912.3 959.7,3913.8 960.6,3914.7 961.6,3915.2 962.4,3915.4 963.2,3915.5 964.1,3915.3 964.9,3914.9 965.7,3914.2 966.6,3913.5 967.5,3912.5 968.5,3911.4 969.4,3909.7 970.3,3906.8 971.2,3902.6 972.1,3897.3 973.0,3892.4 973.7,3889.7 974.4,3887.7 975.1,3886.0 975.8,3885.0 976.5,3886.9 977.2,3890.6 977.7,3894.3 978.1,3899.5 978.6,3905.3 979.1,3910.8 979.5,3914.8 980.0,3916.6 980.9,3917.5 981.9,3918.5 982.8,3918.5 983.8,3917.9 984.7,3918.6 985.7,3919.1 986.5,3919.1 987.3,3919.0 988.1,3918.7 988.9,3918.6 989.7,3919.2 990.5,3919.5 991.3,3919.1 992.1,3918.5 993.0,3917.3 994.0,3917.1 994.9,3917.8 995.6,3917.3 996.3,3916.2 997.0,3914.7 997.9,3912.7 998.7,3911.5 999.5,3910.6 1000.4,3907.0 1001.3,3902.1 1002.2,3897.0 1003.1,3893.7 1004.0,3894.1 1004.9,3894.4 1005.7,3894.2 1006.6,3894.0 1007.1,3892.0 1007.6,3887.7 1008.1,3882.8 1008.4,3879.3 1008.8,3875.3 1009.1,3870.0 1009.3,3867.1 1009.4,3863.4 1009.5,3859.1 1009.7,3854.4 1009.8,3849.5 1009.9,3844.5 1010.1,3839.6 1010.2,3835.1 1010.3,3830.8 1010.5,3826.3 1010.6,3821.8 1010.7,3817.3 1010.9,3812.9 1011.0,3808.7 1011.1,3804.5 1011.2,3800.4 1011.4,3795.3 1011.6,3790.4 1011.8,3785.7 1012.0,3781.1 1012.1,3776.7 1012.3,3772.4 1012.5,3768.3 1012.7,3764.3 1012.9,3759.4 1013.1,3754.0 1013.3,3749.2 1013.5,3745.7 1013.7,3744.4 1013.9,3745.9 1014.1,3749.8 1014.3,3755.1 1014.4,3761.2 1014.6,3767.2 1014.8,3772.3 1015.0,3776.7 1015.2,3780.9 1015.3,3785.0 1015.5,3789.1 1015.7,3793.3 1015.9,3797.8 1016.0,3802.5 1016.2,3807.6 1016.3,3811.4 1016.5,3815.5 1016.6,3820.0 1016.7,3824.6 1016.8,3829.4 1016.9,3834.2 1017.1,3838.9 1017.2,3843.6 1017.3,3848.0 1017.4,3853.0 1017.6,3858.4 1017.7,3863.8 1017.8,3869.1 1018.0,3874.1 1018.1,3878.6 1018.2,3882.4 1018.4,3885.2 1018.7,3890.5 1019.1,3894.4 1019.4,3898.1 1019.8,3901.9 1020.1,3906.4 1020.5,3910.8 1020.8,3913.5 1021.7,3915.7 1022.5,3916.9 1023.3,3917.6 1024.3,3918.2 1025.2,3918.6 1026.2,3918.9 1027.1,3918.9 1027.9,3919.4 1028.8,3919.9 1029.7,3920.7 1030.6,3921.0 1031.5,3920.5 1032.4,3920.2 1033.3,3919.9 1034.2,3919.1 1035.2,3917.8 1036.1,3917.3 1036.9,3916.6 1037.8,3915.1 1038.6,3913.5 1039.5,3910.5 1040.4,3906.4 1041.3,3902.3 1042.1,3896.9 1042.5,3893.8 1042.9,3889.9 1043.2,3885.5 1043.6,3880.8 1043.8,3876.8 1044.1,3872.5 1044.4,3868.1 1044.6,3864.4 1045.0,3860.2 1045.3,3856.6 1045.7,3853.5 1046.2,3849.2 1046.8,3847.1 1047.3,3850.2 1047.8,3855.5 1048.3,3859.5 1048.8,3863.7 1049.2,3869.0 1049.5,3873.1 1049.8,3878.2 1050.0,3883.4 1050.3,3888.1 1050.7,3893.7 1051.0,3899.2 1051.4,3903.8 1051.7,3906.6 1052.4,3909.1 1053.2,3911.5 1053.9,3914.3 1054.6,3915.6 1055.5,3914.7 1056.5,3914.6 1057.4,3915.0 1058.2,3912.7 1059.1,3910.3 1059.9,3909.5 1060.7,3909.0 1061.6,3908.3 1062.4,3907.8 1063.3,3907.6 1064.3,3907.1 1065.2,3906.6 1065.9,3906.3 1066.6,3906.2 1067.4,3906.1 1068.1,3906.1 1068.8,3906.3 1069.5,3906.9 1070.0,3906.7 1070.6,3905.7 1071.1,3904.5 1071.6,3903.7 1072.5,3905.7 1073.4,3909.0 1074.3,3912.9 1075.2,3915.4 1076.1,3914.8 1076.9,3914.2 1077.8,3913.9 1078.7,3912.6 1079.4,3908.7 1080.1,3903.1 1080.6,3900.0 1081.1,3896.7 1081.6,3892.9 1081.9,3889.3 1082.3,3885.3 1082.6,3881.3 1083.0,3876.4 1083.3,3873.0 1083.9,3871.6 1084.4,3870.9 1084.9,3870.5 1085.5,3870.5 1086.0,3874.5 1086.5,3880.8 1087.0,3885.0 1087.5,3889.1 1088.0,3893.1 1088.4,3897.0 1088.9,3900.9 1089.4,3904.3 1090.1,3909.5 1090.8,3912.3 1091.7,3911.8 1092.6,3910.9 1093.5,3910.6 1094.3,3910.0 1095.1,3909.0 1095.8,3907.4 1096.5,3905.5 1097.2,3903.6 1097.9,3901.9 1098.6,3901.1 1099.3,3901.6 1100.0,3902.9 1100.7,3904.1 1101.4,3904.9 1102.2,3907.0 1102.9,3909.8 1103.6,3912.6 1104.3,3914.5 1105.2,3914.4 1106.1,3912.8 1107.0,3910.6 1107.8,3910.1 1108.7,3912.4 1109.6,3914.6 1110.5,3916.4 1111.4,3918.1 1112.3,3919.2 1113.2,3920.1 1114.1,3919.9 1114.9,3919.0 1115.7,3918.8 1116.4,3918.2 1117.1,3916.9 1117.8,3915.3 1118.5,3913.8 1119.2,3912.7 1119.9,3911.4 1120.6,3909.9 1121.3,3908.6 1122.0,3907.4 1122.8,3906.4 1123.5,3905.7 1124.4,3907.2 1125.2,3910.8 1126.1,3914.4 1127.0,3916.2 1127.7,3916.6 1128.4,3917.5 1129.1,3918.5 1130.0,3919.7 1130.9,3920.4 1131.8,3920.5 1132.6,3920.4 1133.4,3919.6 1134.4,3918.8 1135.3,3918.0 1136.2,3917.1 1137.1,3915.5 1138.0,3912.8 1138.9,3909.6 1139.8,3906.8 1140.3,3904.2 1140.7,3900.6 1141.2,3896.3 1141.7,3891.6 1142.2,3886.6 1142.6,3882.5 1143.2,3879.2 1143.7,3876.7 1144.2,3874.5 1144.8,3873.4 1145.3,3875.8 1145.8,3879.9 1146.4,3884.1 1146.9,3888.8 1147.4,3893.2 1147.9,3897.9 1148.3,3902.3 1148.8,3906.8 1149.3,3911.3 1149.7,3914.3 1150.5,3916.3 1151.2,3917.1 1151.9,3917.7 1152.6,3918.9 1153.3,3920.0 1154.0,3921.1 1155.0,3922.0 1155.9,3921.8 1156.8,3921.4 1157.7,3920.6 1158.5,3920.0 1159.3,3919.6 1160.2,3919.0 1161.0,3918.2 1161.8,3917.5 1162.5,3917.2 1163.2,3916.6 1163.9,3915.3 1164.7,3914.2 1165.4,3913.9 1166.1,3913.6 1166.8,3913.4 1167.5,3913.1 1168.2,3912.7 1169.1,3910.8 1170.0,3907.5 1170.9,3904.1 1171.8,3902.6 1172.5,3903.0 1173.2,3903.3 1173.9,3903.8 1174.6,3904.7 1175.3,3907.9 1176.0,3912.1 1176.7,3916.1 1177.4,3918.8 1178.2,3919.9 1178.9,3920.7 1179.6,3921.3 1180.3,3921.9 1181.0,3922.1 1181.7,3921.7 1182.5,3921.1 1183.4,3920.6 1184.2,3920.0 1185.0,3919.4 1185.8,3918.9 1186.7,3918.4 1187.4,3917.8 1188.1,3917.1 1188.8,3916.1 1189.6,3914.4 1190.5,3912.9 1191.3,3912.1 1192.2,3909.7 1193.1,3906.4 1194.0,3903.8 1194.8,3903.0 1195.6,3903.6 1196.3,3904.7 1197.0,3906.1 1197.7,3907.9 1198.4,3909.8 1199.1,3911.9 1199.6,3914.0 1200.2,3915.4 1200.9,3915.8 1201.6,3916.0 1202.3,3915.7 1203.0,3915.4 1203.7,3915.6 1204.4,3915.8 1205.3,3914.7 1206.2,3912.7 1207.1,3911.0 1208.0,3908.7 1208.7,3905.2 1209.4,3901.0 1210.1,3897.1 1210.8,3895.0 1211.4,3895.6 1211.9,3896.6 1212.4,3897.7 1213.0,3899.4 1213.7,3902.7 1214.4,3906.2 1215.3,3910.0 1216.2,3911.9 1217.0,3910.9 1217.9,3910.6 1218.8,3911.1 1219.7,3910.4 1220.6,3908.4 1221.5,3906.4 1222.4,3904.2 1223.3,3902.9 1224.1,3903.5 1225.0,3904.4 1225.9,3905.0 1226.8,3905.3 1227.7,3904.5 1228.6,3903.0 1229.5,3901.5 1230.4,3899.4 1230.7,3897.1 1231.1,3892.8 1231.4,3887.6 1231.6,3884.4 1231.8,3880.5 1232.0,3876.2 1232.1,3871.8 1232.3,3867.6 1232.5,3863.4 1232.7,3859.1 1232.8,3854.6 1233.0,3850.0 1233.2,3845.1 1233.3,3840.5 1233.5,3835.3 1233.6,3830.1 1233.8,3825.4 1233.9,3821.8 1234.3,3815.8 1234.6,3811.3 1235.0,3807.2 1235.3,3802.7 1235.7,3800.2 1236.0,3802.4 1236.4,3806.9 1236.7,3811.0 1237.3,3815.8 1237.8,3818.5 1238.3,3816.8 1238.9,3813.2 1239.2,3811.1 1239.6,3807.8 1239.7,3805.6 1239.8,3802.1 1239.9,3797.4 1240.0,3792.1 1240.1,3786.5 1240.2,3781.0 1240.3,3775.8 1240.4,3771.7 1240.5,3767.6 1240.6,3763.5 1240.7,3759.3 1240.7,3754.9 1240.8,3750.4 1240.9,3745.6 1241.0,3740.4 1241.1,3736.4 1241.1,3732.3 1241.2,3727.9 1241.3,3723.4 1241.3,3718.7 1241.4,3713.8 1241.5,3708.7 1241.5,3703.5 1241.6,3698.2 1241.7,3692.7 1241.7,3687.1 1241.8,3683.2 1241.8,3679.3 1241.9,3675.2 1241.9,3671.0 1241.9,3666.5 1242.0,3661.8 1242.0,3656.9 1242.1,3651.5 1242.1,3647.7 1242.1,3643.6 1242.2,3639.1 1242.2,3634.4 1242.2,3629.5 1242.2,3624.3 1242.3,3619.0 1242.3,3613.7 1242.3,3608.2 1242.4,3602.7 1242.4,3597.1 1242.4,3591.6 1242.5,3586.2 1242.5,3580.9 1242.5,3575.7 1242.5,3570.7 1242.6,3565.9 1242.6,3561.4 1242.6,3555.8 1242.7,3550.4 1242.7,3545.2 1242.8,3540.0 1242.8,3535.0 1242.8,3530.1 1242.9,3525.2 1242.9,3520.4 1242.9,3515.6 1243.0,3510.8 1243.0,3506.0 1243.0,3501.2 1243.1,3496.3 1243.1,3491.4 1243.2,3486.4 1243.2,3481.3 1243.2,3476.7 1243.3,3472.2 1243.3,3467.8 1243.3,3463.6 1243.4,3459.5 1243.4,3455.4 1243.4,3451.4 1243.5,3447.3 1243.5,3443.1 1243.6,3438.8 1243.6,3434.4 1243.6,3429.8 1243.7,3425.0 1243.7,3419.9 1243.7,3414.5 1243.8,3408.8 1243.8,3402.7 1243.8,3396.1 1243.9,3389.1 1243.9,3381.7 1243.9,3379.2 1243.9,3376.5 1243.9,3373.7 1243.9,3370.6 1244.0,3367.4 1244.0,3364.0 1244.0,3360.5 1244.0,3356.7 1244.0,3352.9 1244.0,3348.8 1244.0,3344.7 1244.0,3340.4 1244.0,3335.9 1244.1,3331.4 1244.1,3326.7 1244.1,3321.9 1244.1,3317.0 1244.1,3311.9 1244.1,3306.8 1244.1,3301.6 1244.1,3296.3 1244.1,3291.0 1244.1,3285.5 1244.2,3280.0 1244.2,3274.4 1244.2,3268.8 1244.2,3263.1 1244.2,3257.4 1244.2,3251.6 1244.2,3245.8 1244.2,3240.0 1244.2,3234.1 1244.3,3228.3 1244.3,3222.4 1244.3,3216.5 1244.3,3210.6 1244.3,3204.7 1244.3,3198.9 1244.3,3193.0 1244.3,3187.2 1244.3,3181.4 1244.3,3175.6 1244.4,3169.9 1244.4,3164.2 1244.4,3158.6 1244.4,3153.1 1244.4,3147.6 1244.4,3142.1 1244.4,3136.8 1244.4,3131.5 1244.4,3126.3 1244.5,3121.2 1244.5,3116.3 1244.5,3111.4 1244.5,3106.6 1244.5,3101.9 1244.5,3096.6 1244.5,3091.2 1244.5,3085.7 1244.5,3080.3 1244.6,3074.9 1244.6,3069.4 1244.6,3064.0 1244.6,3058.5 1244.6,3053.1 1244.6,3047.6 1244.6,3042.2 1244.7,3036.8 1244.7,3031.3 1244.7,3026.0 1244.7,3020.6 1244.7,3015.2 1244.7,3009.9 1244.7,3004.6 1244.7,2999.4 1244.8,2994.1 1244.8,2988.9 1244.8,2983.8 1244.8,2978.7 1244.8,2973.7 1244.8,2968.7 1244.8,2963.7 1244.8,2958.9 1244.8,2954.0 1244.9,2949.3 1244.9,2944.6 1244.9,2940.0 1244.9,2935.4 1244.9,2931.0 1244.9,2926.6 1244.9,2922.3 1245.0,2918.1 1245.0,2914.0 1245.0,2909.9 1245.0,2906.0 1245.0,2902.2 1245.0,2896.0 1245.0,2889.7 1245.1,2883.3 1245.1,2876.7 1245.1,2870.1 1245.1,2863.5 1245.1,2856.9 1245.2,2850.3 1245.2,2843.9 1245.2,2837.5 1245.2,2831.3 1245.2,2825.3 1245.3,2819.5 1245.3,2813.9 1245.3,2808.7 1245.3,2803.8 1245.3,2799.3 1245.4,2795.1 1245.4,2791.4 1245.4,2788.2 1245.4,2785.5 1245.4,2783.3 1245.5,2781.7 1245.5,2780.7 1245.5,2780.4 1245.5,2780.8 1245.5,2781.8 1245.6,2783.5 1245.6,2785.8 1245.6,2788.7 1245.6,2792.0 1245.6,2795.9 1245.7,2800.2 1245.7,2804.9 1245.7,2810.0 1245.7,2815.4 1245.7,2821.1 1245.8,2827.0 1245.8,2833.1 1245.8,2839.4 1245.8,2845.8 1245.8,2852.3 1245.9,2858.9 1245.9,2865.4 1245.9,2872.0 1245.9,2878.4 1245.9,2884.7 1246.0,2890.9 1246.0,2896.9 1246.0,2902.6 1246.0,2906.9 1246.0,2911.2 1246.0,2915.5 1246.1,2919.9 1246.1,2924.4 1246.1,2928.9 1246.1,2933.5 1246.1,2938.1 1246.1,2942.7 1246.2,2947.4 1246.2,2952.2 1246.2,2956.9 1246.2,2961.8 1246.2,2966.6 1246.2,2971.5 1246.2,2976.5 1246.3,2981.5 1246.3,2986.5 1246.3,2991.5 1246.3,2996.5 1246.3,3001.6 1246.3,3006.8 1246.3,3011.9 1246.4,3017.1 1246.4,3022.3 1246.4,3027.5 1246.4,3032.8 1246.4,3038.0 1246.4,3043.3 1246.4,3048.6 1246.5,3054.0 1246.5,3059.3 1246.5,3064.7 1246.5,3070.0 1246.5,3075.4 1246.5,3080.8 1246.6,3086.2 1246.6,3091.6 1246.6,3097.1 1246.6,3102.5 1246.6,3107.1 1246.6,3111.7 1246.6,3116.5 1246.6,3121.4 1246.7,3126.4 1246.7,3131.4 1246.7,3136.5 1246.7,3141.7 1246.7,3147.0 1246.7,3152.3 1246.7,3157.7 1246.8,3163.1 1246.8,3168.6 1246.8,3174.2 1246.8,3179.7 1246.8,3185.4 1246.8,3191.0 1246.8,3196.7 1246.8,3202.3 1246.8,3208.0 1246.9,3213.7 1246.9,3219.5 1246.9,3225.2 1246.9,3230.9 1246.9,3236.6 1246.9,3242.3 1246.9,3247.9 1246.9,3253.6 1247.0,3259.2 1247.0,3264.8 1247.0,3270.3 1247.0,3275.8 1247.0,3281.3 1247.0,3286.7 1247.0,3292.0 1247.0,3297.3 1247.1,3302.5 1247.1,3307.6 1247.1,3312.7 1247.1,3317.6 1247.1,3322.5 1247.1,3327.3 1247.1,3332.0 1247.1,3336.6 1247.2,3341.1 1247.2,3345.5 1247.2,3349.7 1247.2,3353.8 1247.2,3357.9 1247.2,3361.7 1247.2,3365.5 1247.2,3369.1 1247.3,3372.5 1247.3,3375.8 1247.3,3379.0 1247.3,3381.9 1247.3,3388.7 1247.4,3395.1 1247.4,3401.2 1247.4,3407.0 1247.5,3412.5 1247.5,3417.8 1247.5,3422.8 1247.5,3427.7 1247.6,3432.4 1247.6,3436.9 1247.6,3441.4 1247.7,3445.8 1247.7,3450.1 1247.7,3454.4 1247.8,3458.7 1247.8,3463.1 1247.8,3467.5 1247.8,3472.1 1247.9,3476.7 1247.9,3481.5 1247.9,3486.5 1248.0,3491.4 1248.0,3496.2 1248.0,3501.0 1248.1,3505.8 1248.1,3510.5 1248.1,3515.2 1248.2,3520.0 1248.2,3524.7 1248.2,3529.6 1248.2,3534.5 1248.3,3539.5 1248.3,3544.7 1248.3,3550.0 1248.4,3555.4 1248.4,3561.0 1248.4,3565.4 1248.4,3570.0 1248.5,3574.9 1248.5,3579.9 1248.5,3585.0 1248.5,3590.2 1248.6,3595.5 1248.6,3600.9 1248.6,3606.3 1248.6,3611.6 1248.7,3617.0 1248.7,3622.2 1248.7,3627.4 1248.7,3632.4 1248.8,3637.3 1248.8,3642.0 1248.8,3646.4 1248.8,3650.6 1248.9,3656.1 1248.9,3661.4 1248.9,3666.4 1249.0,3671.2 1249.0,3675.9 1249.0,3680.5 1249.0,3685.1 1249.1,3689.6 1249.1,3694.2 1249.1,3698.8 1249.2,3703.6 1249.2,3708.5 1249.2,3713.7 1249.3,3719.0 1249.3,3724.4 1249.3,3729.7 1249.4,3734.9 1249.4,3739.9 1249.4,3744.7 1249.5,3749.1 1249.5,3753.2 1249.5,3756.7 1249.6,3763.4 1249.7,3769.2 1249.7,3774.2 1249.8,3778.8 1249.9,3783.2 1250.0,3787.4 1250.0,3791.7 1250.1,3796.4 1250.2,3801.6 1250.2,3807.5 1250.3,3812.0 1250.3,3817.5 1250.4,3823.5 1250.4,3829.6 1250.5,3835.4 1250.5,3840.5 1250.6,3844.5 1250.6,3847.1 1250.9,3855.1 1251.1,3860.3 1251.4,3863.5 1251.7,3866.6 1252.0,3871.0 1252.4,3874.7 1252.7,3878.0 1253.2,3882.3 1253.7,3886.2 1254.1,3890.0 1254.7,3894.5 1255.2,3898.4 1255.9,3901.7 1256.6,3905.5 1257.2,3908.8 1257.7,3910.8 1258.4,3910.7 1259.1,3910.3 1259.8,3909.7 1260.7,3909.2 1261.5,3908.2 1262.3,3907.4 1263.1,3907.6 1264.0,3907.6 1264.8,3906.5 1265.5,3905.7 1266.2,3905.1 1266.9,3904.7 1267.6,3906.5 1268.4,3909.7 1268.9,3911.9 1269.4,3914.1 1270.3,3917.0 1271.2,3919.4 1272.1,3921.7 1273.0,3923.1 1273.8,3922.7 1274.6,3921.8 1275.5,3922.0 1276.4,3923.6 1277.3,3923.3 1278.3,3922.5 1279.2,3923.2 1280.2,3923.8 1281.1,3923.6 1282.0,3923.9 1282.8,3924.5 1283.6,3924.7 1284.5,3923.6 1285.4,3921.6 1286.3,3919.5 1287.2,3919.0 1288.1,3919.0 1288.9,3918.6 1289.8,3917.9 1290.7,3917.0 1291.6,3917.2 1292.5,3917.9 1293.4,3919.2 1294.3,3920.6 1295.1,3921.4 1295.9,3922.3 1296.8,3923.4 1297.7,3924.4 1298.7,3924.9 1299.6,3925.7 1300.5,3926.6 1301.4,3926.6 1302.3,3926.4 1303.2,3926.2 1304.0,3926.0 1304.9,3926.3 1305.8,3926.0 1306.7,3924.8 1307.6,3924.8 1308.5,3925.3 1309.4,3925.1 1310.3,3924.7 1311.2,3924.7 1312.1,3924.5 1313.1,3924.1 1313.8,3923.3 1314.5,3921.9 1315.2,3920.6 1315.9,3919.4 1316.6,3918.0 1317.4,3915.9 1318.1,3913.8 1318.8,3912.3 1319.5,3911.2 1320.2,3909.8 1320.9,3908.2 1321.6,3907.5 1322.5,3907.8 1323.4,3908.4 1324.3,3909.0 1325.2,3909.8 1326.1,3911.7 1326.9,3914.6 1327.8,3917.3 1328.7,3919.4 1329.4,3920.7 1330.1,3922.2 1330.9,3923.5 1331.7,3924.4 1332.5,3924.9 1333.3,3925.4 1334.2,3925.3 1335.1,3925.7 1336.0,3925.7 1336.9,3923.8 1337.6,3921.1 1338.3,3917.9 1338.8,3915.1 1339.4,3912.6 1339.9,3911.3 1340.4,3910.4 1341.0,3909.5 1341.5,3908.6 1342.2,3909.1 1342.9,3911.7 1343.6,3914.1 1344.3,3916.3 1345.1,3918.7 1345.8,3920.9 1346.7,3923.1 1347.5,3924.4 1348.4,3924.3 1349.3,3923.8 1350.2,3923.0 1351.1,3921.8 1352.0,3919.1 1352.9,3914.7 1353.8,3910.5 1354.6,3907.0 1355.5,3903.5 1356.4,3900.2 1357.3,3897.9 1358.2,3897.1 1359.0,3897.2 1359.9,3897.9 1360.7,3898.6 1361.4,3899.4 1362.1,3901.1 1362.8,3903.3 1363.7,3906.1 1364.6,3909.1 1365.5,3912.9 1366.4,3916.4 1367.1,3917.9 1367.8,3919.3 1368.5,3920.3 1369.2,3921.1 1369.9,3922.5 1370.6,3924.0 1371.6,3925.7 1372.5,3927.0 1373.5,3927.6 1374.3,3928.0 1375.1,3928.3 1376.0,3928.5 1376.8,3929.3 1377.6,3929.9 1378.4,3930.0 1379.4,3930.3 1380.3,3930.8 1381.3,3930.8 1382.2,3930.4 1383.2,3929.8 1384.1,3929.0 1384.9,3928.2 1385.8,3927.6 1386.6,3927.5 1387.4,3927.1 1388.3,3926.4 1389.1,3925.9 1390.0,3925.3 1391.0,3925.0 1391.9,3924.9 1392.9,3924.5 1393.8,3924.9 1394.8,3926.2 1395.6,3926.9 1396.4,3927.3 1397.3,3927.6 1398.1,3927.7 1399.0,3927.5 1399.9,3927.2 1400.8,3927.0 1401.7,3926.9 1402.6,3926.9 1403.5,3926.9 1404.4,3926.9 1405.2,3926.2 1406.0,3925.2 1406.8,3924.6 1407.8,3924.3 1408.7,3923.3 1409.7,3922.5 1410.6,3922.1 1411.6,3921.3 1412.5,3920.1 1413.4,3918.6 1414.2,3917.1 1415.0,3916.8 1415.8,3916.4 1416.7,3914.4 1417.5,3912.7 1418.2,3912.1 1418.9,3911.5 1419.6,3910.8 1420.3,3911.1 1421.1,3912.3 1421.8,3913.6 1422.5,3915.0 1423.2,3917.1 1423.9,3918.7 1424.8,3918.6 1425.8,3918.5 1426.7,3918.7 1427.6,3919.4 1428.4,3920.4 1429.2,3920.6 1430.0,3920.5 1430.9,3921.1 1431.7,3921.9 1432.7,3923.0 1433.6,3923.9 1434.5,3923.1 1435.3,3922.1 1436.0,3920.9 1436.7,3919.6 1437.4,3918.2 1438.1,3916.7 1438.8,3914.3 1439.3,3911.4 1439.8,3907.2 1440.2,3902.7 1440.7,3898.3 1441.2,3893.6 1441.6,3889.2 1442.1,3885.1 1442.6,3881.2 1443.1,3877.7 1443.8,3871.5 1444.5,3867.9 1445.2,3868.9 1445.9,3870.8 1446.6,3872.9 1447.3,3875.1 1448.0,3876.7 1448.8,3878.0 1449.6,3879.4 1450.5,3881.9 1451.4,3886.2 1452.3,3891.0 1453.2,3895.6 1454.1,3900.2 1455.0,3904.3 1455.9,3908.1 1456.7,3911.9 1457.6,3914.8 1458.5,3915.5 1459.3,3916.4 1460.1,3918.3 1461.1,3920.0 1462.0,3921.4 1463.0,3922.4 1463.9,3923.3 1464.8,3924.8 1465.8,3925.9 1466.6,3926.5 1467.5,3927.2 1468.3,3927.5 1469.1,3927.0 1469.9,3925.9 1470.8,3925.4 1471.7,3925.3 1472.7,3925.2 1473.6,3925.3 1474.4,3925.1 1475.2,3925.0 1476.0,3925.0 1476.8,3925.0 1477.6,3925.1 1478.4,3925.3 1479.2,3925.2 1480.0,3925.1 1481.0,3924.3 1481.9,3923.7 1482.9,3923.7 1483.9,3922.0 1484.9,3920.9 1485.8,3921.8 1486.8,3922.9 1487.7,3923.8 1488.5,3924.7 1489.4,3925.9 1490.2,3926.4 1491.0,3926.8 1491.8,3927.6 1492.7,3928.4 1493.6,3930.0 1494.6,3931.2 1495.5,3931.7 1496.4,3931.3 1497.2,3930.5 1498.1,3930.3 1498.9,3930.3 1499.8,3931.1 1500.7,3932.0 1501.6,3932.1 1502.5,3932.3 1503.5,3932.4 1504.4,3932.6 1505.3,3932.7 1506.2,3932.1 1507.1,3931.2 1507.9,3932.3 1508.8,3932.9 1509.7,3931.8 1510.6,3931.0 1511.5,3930.6 1512.3,3929.6 1513.1,3928.2 1514.0,3926.6 1514.9,3924.5 1515.9,3924.2 1516.8,3924.5 1517.5,3924.7 1518.2,3925.3 1518.9,3926.5 1519.7,3927.6 1520.4,3928.4 1521.1,3929.0 1521.8,3929.9 1522.5,3930.8 1523.2,3931.5 1524.0,3931.6 1524.9,3931.8 1525.7,3932.2 1526.5,3932.0 1527.4,3931.3 1528.2,3930.4 1529.1,3929.2 1530.1,3928.3 1531.0,3927.7 1531.9,3927.5 1532.8,3927.4 1533.7,3927.5 1534.6,3927.2 1535.5,3927.2 1536.3,3928.4 1537.2,3930.1 1538.1,3930.5 1539.0,3929.6 1539.9,3929.7 1540.8,3929.7 1541.7,3929.8 1542.6,3929.9 1543.5,3929.8 1544.3,3929.4 1545.2,3928.5 1545.9,3927.9 1546.6,3927.1 1547.4,3925.8 1548.1,3924.2 1548.8,3922.6 1549.5,3921.4 1550.4,3920.0 1551.3,3918.4 1552.2,3916.9 1553.0,3916.0 1553.9,3916.8 1554.8,3918.2 1555.7,3920.1 1556.6,3922.1 1557.3,3923.0 1558.0,3923.7 1558.7,3924.5 1559.6,3925.7 1560.4,3926.5 1561.2,3926.8 1562.1,3927.2 1563.0,3927.7 1563.9,3927.9 1564.8,3928.2 1565.6,3928.9 1566.5,3929.5 1567.4,3929.7 1568.3,3929.5 1569.2,3928.7 1570.1,3928.4 1571.0,3928.1 1571.9,3927.7 1572.7,3927.3 1573.6,3926.8 1574.5,3926.2 1575.4,3925.6 1576.3,3925.6 1577.2,3926.2 1578.1,3926.5 1579.0,3926.7 1579.9,3927.4 1580.7,3928.0 1581.6,3927.3 1582.5,3927.1 1583.3,3928.0 1584.2,3928.3 1585.0,3927.6 1585.9,3928.1 1586.9,3929.9 1587.8,3929.9 1588.8,3928.9 1589.7,3926.2 1590.7,3924.3 1591.5,3923.5 1592.3,3922.1 1593.2,3921.1 1594.1,3920.9 1594.9,3921.0 1595.8,3921.7 1596.7,3922.3 1597.6,3922.4 1598.5,3922.7 1599.4,3923.6 1600.3,3923.8 1601.1,3923.1 1601.9,3922.4 1602.8,3922.0 1603.7,3922.0 1604.6,3922.2 1605.6,3922.1 1606.5,3921.4 1607.5,3920.2 1608.4,3918.9 1609.3,3917.6 1610.1,3915.8 1610.9,3914.6 1611.6,3915.3 1612.3,3917.0 1613.1,3918.6 1613.9,3920.4 1614.7,3921.8 1615.5,3922.9 1616.5,3924.3 1617.4,3925.9 1618.4,3926.3 1619.2,3926.6 1620.0,3927.2 1620.8,3927.7 1621.6,3927.8 1622.5,3927.7 1623.4,3927.8 1624.2,3927.5 1625.1,3926.8 1626.0,3927.3 1626.9,3928.6 1627.8,3927.8 1628.7,3926.5 1629.6,3925.3 1630.5,3923.5 1631.3,3921.5 1632.2,3919.9 1632.8,3919.3 1633.3,3918.9 1634.0,3918.2 1634.7,3917.6 1635.6,3918.9 1636.5,3921.3 1637.4,3923.4 1638.3,3925.2 1639.0,3926.0 1639.7,3926.6 1640.4,3927.1 1641.2,3927.6 1642.1,3928.8 1642.9,3929.8 1643.8,3929.3 1644.7,3928.4 1645.5,3928.0 1646.4,3927.6 1647.3,3927.2 1648.2,3926.7 1649.1,3926.1 1650.0,3926.1 1650.9,3926.5 1651.8,3926.1 1652.6,3925.6 1653.5,3925.5 1654.4,3925.7 1655.3,3926.9 1656.2,3927.4 1657.1,3926.7 1658.0,3926.4 1658.9,3926.4 1659.8,3926.4 1660.6,3926.4 1661.5,3926.0 1662.4,3925.5 1663.3,3925.1 1664.2,3924.8 1665.0,3924.6 1665.8,3923.9 1666.7,3922.8 1667.6,3922.3 1668.6,3922.2 1669.5,3920.9 1670.4,3918.7 1671.3,3916.4 1672.2,3914.4 1673.1,3912.3 1674.0,3909.0 1674.8,3904.7 1675.7,3901.5 1676.6,3896.8 1676.8,3894.6 1677.0,3891.1 1677.3,3886.7 1677.5,3881.7 1677.7,3876.4 1677.8,3872.6 1678.0,3868.1 1678.1,3863.2 1678.3,3857.9 1678.4,3852.2 1678.5,3848.3 1678.6,3844.2 1678.7,3839.8 1678.8,3835.3 1678.8,3830.6 1678.9,3825.9 1679.0,3821.3 1679.1,3816.8 1679.2,3812.5 1679.3,3808.5 1679.4,3804.6 1679.5,3800.6 1679.5,3796.4 1679.6,3792.0 1679.7,3787.0 1679.8,3781.5 1679.9,3778.2 1679.9,3774.9 1680.0,3771.4 1680.0,3767.7 1680.1,3763.8 1680.1,3759.7 1680.1,3755.4 1680.2,3750.9 1680.2,3746.0 1680.3,3740.9 1680.3,3735.5 1680.4,3729.7 1680.4,3723.5 1680.5,3717.0 1680.5,3710.1 1680.5,3706.8 1680.6,3702.8 1680.6,3698.3 1680.6,3693.4 1680.6,3688.0 1680.6,3682.4 1680.7,3676.5 1680.7,3670.5 1680.7,3664.4 1680.7,3658.4 1680.7,3652.5 1680.8,3646.7 1680.8,3641.3 1680.8,3636.2 1680.8,3631.6 1680.8,3627.4 1680.9,3623.9 1680.9,3621.1 1680.9,3613.9 1681.0,3607.8 1681.1,3602.7 1681.1,3598.4 1681.2,3594.5 1681.3,3590.8 1681.3,3587.2 1681.4,3583.3 1681.5,3578.8 1681.5,3573.7 1681.6,3567.5 1681.6,3563.8 1681.7,3559.4 1681.7,3554.5 1681.7,3549.2 1681.8,3543.6 1681.8,3538.0 1681.8,3532.5 1681.8,3527.2 1681.9,3522.3 1681.9,3517.9 1681.9,3514.1 1682.0,3507.8 1682.1,3502.3 1682.1,3497.4 1682.2,3492.9 1682.3,3488.6 1682.3,3484.5 1682.4,3480.4 1682.5,3476.1 1682.5,3471.5 1682.6,3466.4 1682.7,3460.6 1682.7,3456.2 1682.7,3450.7 1682.8,3444.6 1682.8,3438.2 1682.9,3432.0 1682.9,3426.5 1682.9,3422.0 1683.0,3419.0 1683.0,3417.9 1683.0,3418.5 1683.1,3420.2 1683.1,3422.9 1683.1,3426.5 1683.1,3430.9 1683.2,3435.9 1683.2,3441.4 1683.2,3447.3 1683.3,3453.4 1683.3,3459.8 1683.3,3466.1 1683.3,3472.4 1683.4,3478.5 1683.4,3482.2 1683.4,3486.1 1683.4,3490.3 1683.4,3494.6 1683.4,3499.2 1683.5,3503.9 1683.5,3508.8 1683.5,3513.9 1683.5,3519.0 1683.5,3524.2 1683.5,3529.5 1683.6,3534.8 1683.6,3540.1 1683.6,3545.5 1683.6,3550.8 1683.6,3556.0 1683.6,3561.2 1683.7,3566.3 1683.7,3571.3 1683.7,3576.2 1683.7,3580.8 1683.7,3585.4 1683.7,3590.7 1683.8,3596.1 1683.8,3601.4 1683.8,3606.6 1683.8,3611.8 1683.8,3617.0 1683.9,3622.1 1683.9,3627.1 1683.9,3632.1 1683.9,3637.1 1683.9,3642.0 1684.0,3646.8 1684.0,3651.6 1684.0,3656.3 1684.0,3660.9 1684.0,3665.5 1684.1,3670.0 1684.1,3674.4 1684.1,3679.9 1684.1,3685.8 1684.1,3692.0 1684.2,3698.3 1684.2,3704.6 1684.2,3710.9 1684.2,3717.0 1684.3,3722.8 1684.3,3728.2 1684.3,3733.1 1684.3,3737.3 1684.4,3740.8 1684.4,3743.5 1684.4,3745.2 1684.4,3745.7 1684.5,3744.7 1684.6,3741.6 1684.7,3737.0 1684.8,3731.4 1684.9,3725.4 1685.0,3719.5 1685.1,3714.3 1685.1,3710.3 1685.3,3704.4 1685.4,3698.5 1685.6,3692.8 1685.8,3687.7 1685.9,3683.5 1686.1,3680.8 1686.2,3679.8 1686.3,3680.7 1686.4,3683.2 1686.5,3687.0 1686.6,3691.9 1686.7,3697.6 1686.8,3703.7 1686.9,3710.1 1687.0,3713.4 1687.0,3717.6 1687.1,3722.4 1687.1,3727.6 1687.1,3732.7 1687.2,3737.7 1687.2,3742.1 1687.3,3745.7 1687.4,3751.2 1687.5,3755.9 1687.5,3759.8 1687.6,3763.5 1687.7,3767.2 1687.8,3771.1 1687.9,3775.7 1688.0,3781.1 1688.0,3784.7 1688.1,3789.1 1688.1,3794.0 1688.2,3799.2 1688.2,3804.3 1688.2,3809.0 1688.3,3813.1 1688.3,3816.2 1688.5,3823.1 1688.6,3828.7 1688.7,3833.3 1688.9,3837.4 1689.0,3841.2 1689.1,3845.0 1689.3,3849.2 1689.4,3854.0 1689.5,3858.5 1689.6,3863.5 1689.7,3868.9 1689.8,3874.1 1689.9,3879.0 1690.0,3883.2 1690.1,3886.4 1690.4,3892.4 1690.6,3897.1 1690.9,3901.1 1691.2,3904.7 1691.5,3909.6 1691.9,3914.1 1692.2,3916.8 1693.0,3919.0 1693.7,3920.5 1694.4,3922.0 1695.3,3924.9 1696.2,3926.6 1697.0,3926.3 1697.8,3925.3 1698.6,3923.9 1699.3,3922.9 1700.1,3921.9 1700.8,3920.8 1701.7,3919.2 1702.5,3917.1 1703.4,3914.5 1704.3,3912.3 1705.0,3911.0 1705.7,3910.2 1706.6,3909.7 1707.5,3909.4 1708.4,3909.9 1709.3,3910.6 1710.0,3910.9 1710.7,3911.5 1711.4,3912.2 1712.1,3912.7 1712.8,3913.2 1713.6,3913.6 1714.3,3913.8 1715.0,3914.0 1715.7,3913.7 1716.4,3913.5 1717.1,3913.9 1717.8,3914.6 1718.5,3915.1 1719.2,3915.6 1719.9,3915.8 1720.7,3915.0 1721.4,3913.7 1722.1,3913.4 1723.0,3913.3 1723.8,3912.5 1724.6,3913.0 1725.3,3914.6 1726.0,3916.3 1726.7,3917.0 1727.4,3917.1 1728.1,3917.7 1728.9,3919.6 1729.8,3921.5 1730.6,3923.7 1731.3,3925.2 1732.0,3925.5 1732.7,3925.2 1733.7,3924.9 1734.6,3924.7 1735.6,3925.0 1736.4,3925.2 1737.2,3925.3 1738.0,3924.8 1738.8,3923.9 1739.6,3922.6 1740.4,3921.1 1741.2,3920.2 1742.0,3919.7 1742.7,3918.8 1743.4,3917.6 1744.1,3916.2 1744.8,3914.7 1745.5,3913.2 1746.2,3911.7 1746.9,3910.1 1747.6,3909.5 1748.4,3909.9 1749.1,3910.4 1749.8,3910.9 1750.5,3911.4 1751.2,3911.8 1751.9,3912.2 1752.8,3912.5 1753.7,3912.6 1754.6,3912.6 1755.5,3912.3 1756.3,3910.4 1757.2,3908.5 1758.1,3907.4 1759.0,3904.6 1759.9,3900.8 1760.8,3899.0 1761.7,3896.5 1762.6,3893.4 1763.3,3893.3 1764.0,3894.5 1764.7,3895.8 1765.5,3897.1 1766.3,3898.5 1767.2,3901.0 1768.0,3903.9 1768.8,3906.8 1769.7,3909.7 1770.4,3912.6 1771.1,3915.6 1771.8,3917.6 1772.6,3919.1 1773.4,3919.9 1774.3,3920.7 1775.1,3922.4 1775.9,3924.0 1776.8,3924.4 1777.7,3924.8 1778.7,3925.3 1779.6,3926.4 1780.5,3928.1 1781.4,3928.8 1782.3,3929.2 1783.2,3928.8 1784.0,3928.4 1784.9,3928.6 1785.8,3928.8 1786.7,3929.2 1787.6,3929.2 1788.5,3929.0 1789.4,3928.2 1790.3,3927.2 1791.1,3927.7 1792.0,3927.6 1792.9,3925.7 1793.8,3924.8 1794.7,3925.4 1795.6,3925.4 1796.5,3925.1 1797.4,3924.5 1798.2,3923.9 1799.0,3923.5 1799.8,3923.2 1800.6,3922.2 1801.4,3921.1 1802.2,3920.9 1803.0,3920.9 1803.8,3921.0 1804.7,3921.5 1805.6,3921.7 1806.6,3922.2 1807.4,3923.0 1808.2,3923.5 1809.0,3923.8 1809.8,3924.0 1810.6,3924.0 1811.4,3924.8 1812.3,3926.2 1813.2,3927.7 1814.2,3929.0 1815.1,3928.6 1816.0,3928.1 1816.9,3928.8 1817.8,3929.3 1818.7,3929.4 1819.6,3929.2 1820.4,3928.6 1821.3,3928.8 1822.2,3929.2 1823.1,3929.7 1824.0,3930.1 1824.9,3930.1 1825.8,3929.9 1826.7,3929.3 1827.5,3929.5 1828.4,3930.2 1829.3,3930.2 1830.2,3930.0 1831.1,3929.8 1832.0,3929.8 1832.9,3930.2 1833.8,3930.3 1834.6,3929.9 1835.5,3929.6 1836.4,3929.3 1837.3,3929.3 1838.2,3929.5 1839.1,3929.2 1840.0,3929.0 1840.9,3929.1 1841.7,3929.0 1842.6,3928.3 1843.5,3927.5 1844.4,3926.7 1845.3,3927.3 1846.2,3928.4 1847.1,3928.0 1848.0,3927.6 1848.8,3927.3 1849.7,3927.1 1850.6,3926.8 1851.5,3926.6 1852.4,3926.4 1853.3,3926.4 1854.2,3926.3 1855.1,3925.5 1856.0,3924.7 1856.8,3924.7 1857.7,3924.5 1858.6,3923.7 1859.5,3922.8 1860.4,3921.9 1861.3,3921.6 1862.2,3921.6 1863.2,3920.9 1864.1,3920.3 1864.9,3920.1 1865.8,3920.0 1866.6,3920.1 1867.4,3921.2 1868.3,3923.4 1869.1,3924.5 1870.0,3924.4 1871.0,3926.0 1871.9,3927.2 1872.9,3927.3 1873.8,3927.1 1874.8,3926.9 1875.6,3927.0 1876.4,3927.3 1877.3,3926.7 1878.1,3925.7 1878.9,3925.2 1879.7,3924.9 1880.7,3924.7 1881.6,3924.4 1882.6,3923.7 1883.5,3924.4 1884.5,3926.4 1885.4,3926.9 1886.3,3927.0 1887.1,3928.7 1887.9,3930.1 1888.7,3931.1 1889.6,3931.7 1890.4,3931.5 1891.1,3931.4 1891.8,3932.0 1892.5,3932.4 1893.5,3932.3 1894.5,3932.1 1895.5,3932.5 1896.4,3932.0 1897.4,3931.0 1898.4,3929.8 1899.4,3929.3 1900.3,3930.1 1901.2,3930.2 1902.0,3929.9 1902.9,3928.7 1903.8,3927.3 1904.6,3926.7 1905.5,3926.4 1906.4,3928.3 1907.4,3929.1 1908.3,3927.8 1909.2,3926.4 1910.0,3924.7 1910.9,3923.8 1911.7,3923.2 1912.4,3921.7 1913.1,3919.8 1913.8,3917.7 1914.5,3915.5 1915.3,3914.1 1916.0,3914.6 1916.7,3915.2 1917.4,3914.6 1918.1,3914.3 1918.8,3914.7 1919.5,3915.9 1920.2,3917.2 1920.9,3918.5 1921.6,3920.2 1922.4,3921.9 1923.3,3923.3 1924.3,3923.8 1925.2,3924.8 1926.1,3926.4 1927.1,3927.4 1928.0,3927.8 1929.0,3927.7 1930.0,3927.9 1931.0,3928.3 1931.9,3928.5 1932.8,3928.6 1933.6,3928.5 1934.4,3928.4 1935.2,3928.0 1935.9,3927.7 1936.7,3927.9 1937.5,3927.9 1938.3,3926.6 1939.1,3925.4 1939.8,3925.5 1940.6,3925.6 1941.4,3925.2 1942.2,3924.8 1943.0,3924.7 1943.8,3924.5 1944.5,3923.0 1945.3,3921.3 1946.1,3921.0 1946.9,3921.1 1947.7,3920.6 1948.5,3919.9 1949.4,3919.3 1950.1,3918.7 1950.8,3918.5 1951.6,3918.1 1952.3,3916.3 1953.1,3913.5 1953.9,3911.3 1954.7,3909.0 1955.3,3906.0 1955.9,3902.9 1956.6,3900.4 1957.2,3899.1 1957.8,3900.4 1958.4,3902.4 1959.2,3904.2 1960.0,3905.9 1960.9,3908.0 1961.9,3909.0 1962.6,3908.9 1963.3,3909.4 1964.1,3910.8 1964.9,3912.0 1965.7,3912.3 1966.6,3912.7 1967.5,3913.2 1968.4,3913.8 1969.4,3914.1 1970.3,3913.1 1971.2,3912.0 1972.0,3911.8 1972.7,3911.4 1973.4,3910.8 1974.4,3909.8 1975.3,3908.5 1976.2,3907.4 1977.2,3906.9 1978.0,3907.7 1978.8,3909.1 1979.7,3910.8 1980.6,3912.7 1981.6,3913.2 1982.5,3914.1 1983.4,3916.3 1984.4,3917.8 1985.2,3918.2 1985.9,3918.6 1986.7,3918.9 1987.5,3918.7 1988.3,3918.1 1989.1,3917.9 1989.8,3918.2 1990.6,3918.1 1991.4,3917.6 1992.2,3917.2 1993.0,3916.9 1993.8,3916.6 1994.5,3916.2 1995.3,3916.1 1996.1,3916.6 1996.9,3917.1 1997.8,3918.1 1998.8,3918.6 1999.7,3918.6 2000.6,3919.0 2001.4,3920.0 2002.2,3922.2 2003.0,3924.5 2003.8,3925.4 2004.7,3925.7 2005.6,3926.6 2006.4,3927.3 2007.1,3928.5 2007.8,3929.4 2008.6,3929.3 2009.4,3929.2 2010.2,3929.4 2011.1,3929.6 2011.9,3929.4 2012.8,3929.2 2013.8,3929.2 2014.7,3929.3 2015.6,3929.4 2016.6,3929.3 2017.5,3929.0 2018.4,3929.5 2019.4,3929.4 2020.2,3928.5 2021.0,3927.9 2021.8,3927.6 2022.6,3927.6 2023.4,3927.9 2024.2,3928.5 2025.0,3929.2 2025.8,3929.6 2026.6,3929.3 2027.3,3928.9 2028.1,3928.5 2028.9,3928.9 2029.7,3930.7 2030.6,3931.1 2031.6,3929.2 2032.5,3928.6 2033.3,3928.5 2034.2,3928.4 2035.0,3928.1 2035.8,3926.8 2036.6,3924.9 2037.3,3923.0 2038.1,3919.9 2038.4,3917.0 2038.6,3911.9 2038.8,3906.1 2039.1,3900.6 2039.3,3896.0 2039.5,3891.6 2039.8,3886.9 2040.0,3881.5 2040.1,3877.8 2040.2,3873.4 2040.4,3868.7 2040.5,3864.1 2040.6,3860.2 2040.8,3855.4 2041.0,3851.1 2041.2,3847.1 2041.4,3843.2 2041.6,3839.0 2041.8,3833.8 2042.0,3828.7 2042.2,3824.5 2042.5,3819.6 2042.8,3815.6 2043.1,3813.0 2043.8,3811.4 2044.4,3811.0 2044.6,3813.1 2044.8,3817.9 2045.0,3823.1 2045.2,3826.2 2045.3,3829.4 2045.5,3833.3 2045.6,3839.0 2045.7,3841.6 2045.7,3845.4 2045.8,3850.1 2045.8,3855.3 2045.8,3860.6 2045.9,3865.7 2045.9,3870.4 2046.0,3875.9 2046.0,3882.1 2046.1,3888.2 2046.1,3893.5 2046.2,3897.2 2046.2,3898.6 2046.5,3896.7 2046.7,3892.3 2047.0,3887.0 2047.2,3882.5 2047.5,3877.1 2047.8,3871.9 2048.1,3869.5 2048.8,3869.4 2049.4,3870.3 2049.6,3872.8 2049.8,3878.0 2050.0,3884.6 2050.1,3888.0 2050.2,3892.5 2050.2,3897.0 2050.3,3900.4 2050.5,3906.2 2050.7,3910.7 2050.9,3914.8 2051.1,3919.4 2051.4,3923.6 2051.6,3926.1 2052.3,3928.6 2053.1,3929.8 2053.9,3930.8 2054.7,3931.0 2055.5,3930.6 2056.2,3930.8 2057.0,3931.4 2057.8,3931.9 2058.6,3932.2 2059.4,3932.5 2060.2,3933.0 2060.9,3933.1 2061.7,3932.7 2062.5,3932.1 2063.3,3931.5 2064.1,3931.0 2064.8,3930.4 2065.6,3930.0 2066.4,3929.9 2067.2,3929.7 2067.9,3929.3 2068.6,3928.8 2069.4,3928.0 2070.2,3927.1 2071.0,3926.5 2071.9,3926.0 2072.7,3926.4 2073.4,3926.9 2074.2,3926.1 2075.0,3925.3 2075.8,3924.8 2076.6,3924.5 2077.3,3924.7 2078.1,3925.0 2079.1,3923.9 2080.0,3922.4 2080.9,3921.7 2081.9,3921.3 2082.8,3921.3 2083.8,3920.9 2084.7,3921.5 2085.6,3923.4 2086.6,3925.3 2087.5,3926.7 2088.3,3927.2 2089.1,3927.3 2089.8,3927.8 2090.6,3928.8 2091.4,3929.5 2092.2,3929.8 2093.0,3930.3 2093.8,3930.9 2094.7,3931.4 2095.6,3931.8 2096.6,3932.0 2097.5,3932.1 2098.4,3931.9 2099.4,3932.0 2100.3,3932.9 2101.2,3933.3 2102.2,3933.3 2103.1,3933.6 2104.0,3933.6 2104.9,3933.0 2105.8,3932.9 2106.7,3933.3 2107.6,3933.4 2108.5,3933.3 2109.4,3933.2 2110.3,3933.1 2111.2,3933.1 2112.1,3933.1 2112.9,3933.1 2113.8,3932.8 2114.7,3932.3 2115.6,3932.3 2116.5,3932.6 2117.4,3932.6 2118.3,3932.6 2119.2,3933.0 2120.1,3933.1 2121.0,3932.8 2121.9,3932.9 2122.8,3933.5 2123.7,3933.4 2124.6,3933.1 2125.4,3932.9 2126.3,3932.8 2127.2,3932.7 2128.1,3932.4 2128.9,3931.7 2129.7,3931.4 2130.5,3931.8 2131.2,3932.2 2132.0,3932.3 2132.8,3932.2 2133.6,3931.2 2134.4,3930.3 2135.2,3930.4 2136.0,3929.8 2136.9,3928.4 2137.6,3927.1 2138.3,3925.8 2139.1,3924.8 2139.8,3924.0 2140.5,3923.2 2141.2,3922.9 2142.2,3922.7 2143.1,3922.2 2144.1,3922.1 2145.0,3922.6 2145.9,3923.1 2146.9,3923.7 2147.7,3925.1 2148.4,3926.9 2149.2,3928.4 2150.0,3929.2 2150.8,3930.1 2151.6,3931.1 2152.3,3931.3 2153.1,3931.0 2153.9,3931.2 2154.7,3931.7 2155.5,3932.1 2156.2,3932.2 2157.2,3932.0 2158.1,3931.6 2159.1,3932.3 2160.0,3932.9 2160.9,3931.8 2161.9,3931.1 2162.8,3931.0 2163.8,3930.6 2164.7,3930.2 2165.6,3930.3 2166.6,3930.3 2167.5,3929.7 2168.4,3930.0 2169.4,3930.9 2170.3,3930.6 2171.2,3930.4 2172.2,3930.4 2173.1,3930.7 2174.1,3931.3 2175.0,3931.5 2175.9,3931.4 2176.9,3930.7 2177.8,3930.0 2178.8,3929.6 2179.7,3929.0 2180.6,3928.3 2181.6,3928.4 2182.5,3928.5 2183.4,3928.9 2184.4,3929.1 2185.3,3929.2 2186.2,3928.8 2187.2,3928.6 2188.1,3929.4 2188.9,3930.0 2189.8,3930.6 2190.6,3930.8 2191.4,3930.5 2192.2,3930.4 2193.0,3930.8 2193.9,3931.1 2194.8,3931.2 2195.6,3931.8 2196.6,3932.8 2197.5,3932.4 2198.4,3932.1 2199.4,3932.9 2200.2,3933.3 2201.1,3933.2 2202.0,3932.8 2202.9,3932.2 2203.8,3932.1 2204.6,3932.1 2205.4,3931.6 2206.2,3931.0 2207.0,3930.3 2207.8,3929.6 2208.7,3929.3 2209.6,3929.0 2210.5,3928.9 2211.4,3929.0 2212.2,3929.5 2213.1,3929.5 2214.1,3929.2 2215.0,3929.1 2215.9,3929.1 2216.9,3928.5 2217.8,3928.5 2218.8,3929.2 2219.7,3929.3 2220.6,3929.0 2221.6,3928.9 2222.5,3928.5 2223.4,3927.6 2224.4,3928.1 2225.3,3929.5 2226.2,3929.0 2227.2,3928.2 2228.1,3927.4 2229.1,3927.5 2230.0,3928.6 2230.9,3928.9 2231.9,3928.9 2232.8,3929.0 2233.8,3929.2 2234.7,3929.6 2235.6,3930.3 2236.6,3931.1 2237.5,3931.2 2238.3,3931.1 2239.1,3931.1 2239.8,3931.0 2240.6,3930.9 2241.4,3930.7 2242.2,3930.5 2243.0,3930.2 2243.8,3930.6 2244.7,3931.0 2245.6,3930.6 2246.6,3930.3 2247.5,3930.0 2248.4,3930.0 2249.4,3930.1 2250.3,3930.2 2251.2,3930.0 2252.2,3928.8 2253.1,3928.6 2254.1,3929.3 2255.0,3929.0 2255.9,3928.7 2256.9,3929.6 2257.8,3930.2 2258.8,3930.3 2259.7,3930.4 2260.6,3930.4 2261.6,3930.7 2262.5,3930.9 2263.4,3930.8 2264.4,3931.0 2265.3,3931.4 2266.2,3932.0 2267.1,3932.6 2267.9,3932.7 2268.7,3932.9 2269.5,3933.5 2270.3,3933.9 2271.1,3932.6 2271.9,3931.2 2272.7,3930.8 2273.4,3930.6 2274.2,3930.4 2275.0,3930.2 2275.8,3929.8 2276.6,3929.4 2277.5,3928.5 2278.4,3927.5 2279.4,3926.8 2280.2,3926.2 2281.0,3925.7 2281.9,3925.8 2282.8,3926.4 2283.8,3926.3 2284.5,3926.0 2285.2,3925.9 2285.9,3925.8 2286.7,3926.0 2287.4,3926.6 2288.1,3926.7" fill="none" stroke="#000" stroke-width="4.0" stroke-linejoin="bevel" stroke-linecap="round" shape-rendering="crispEdges"/>
</svg></body></html>
